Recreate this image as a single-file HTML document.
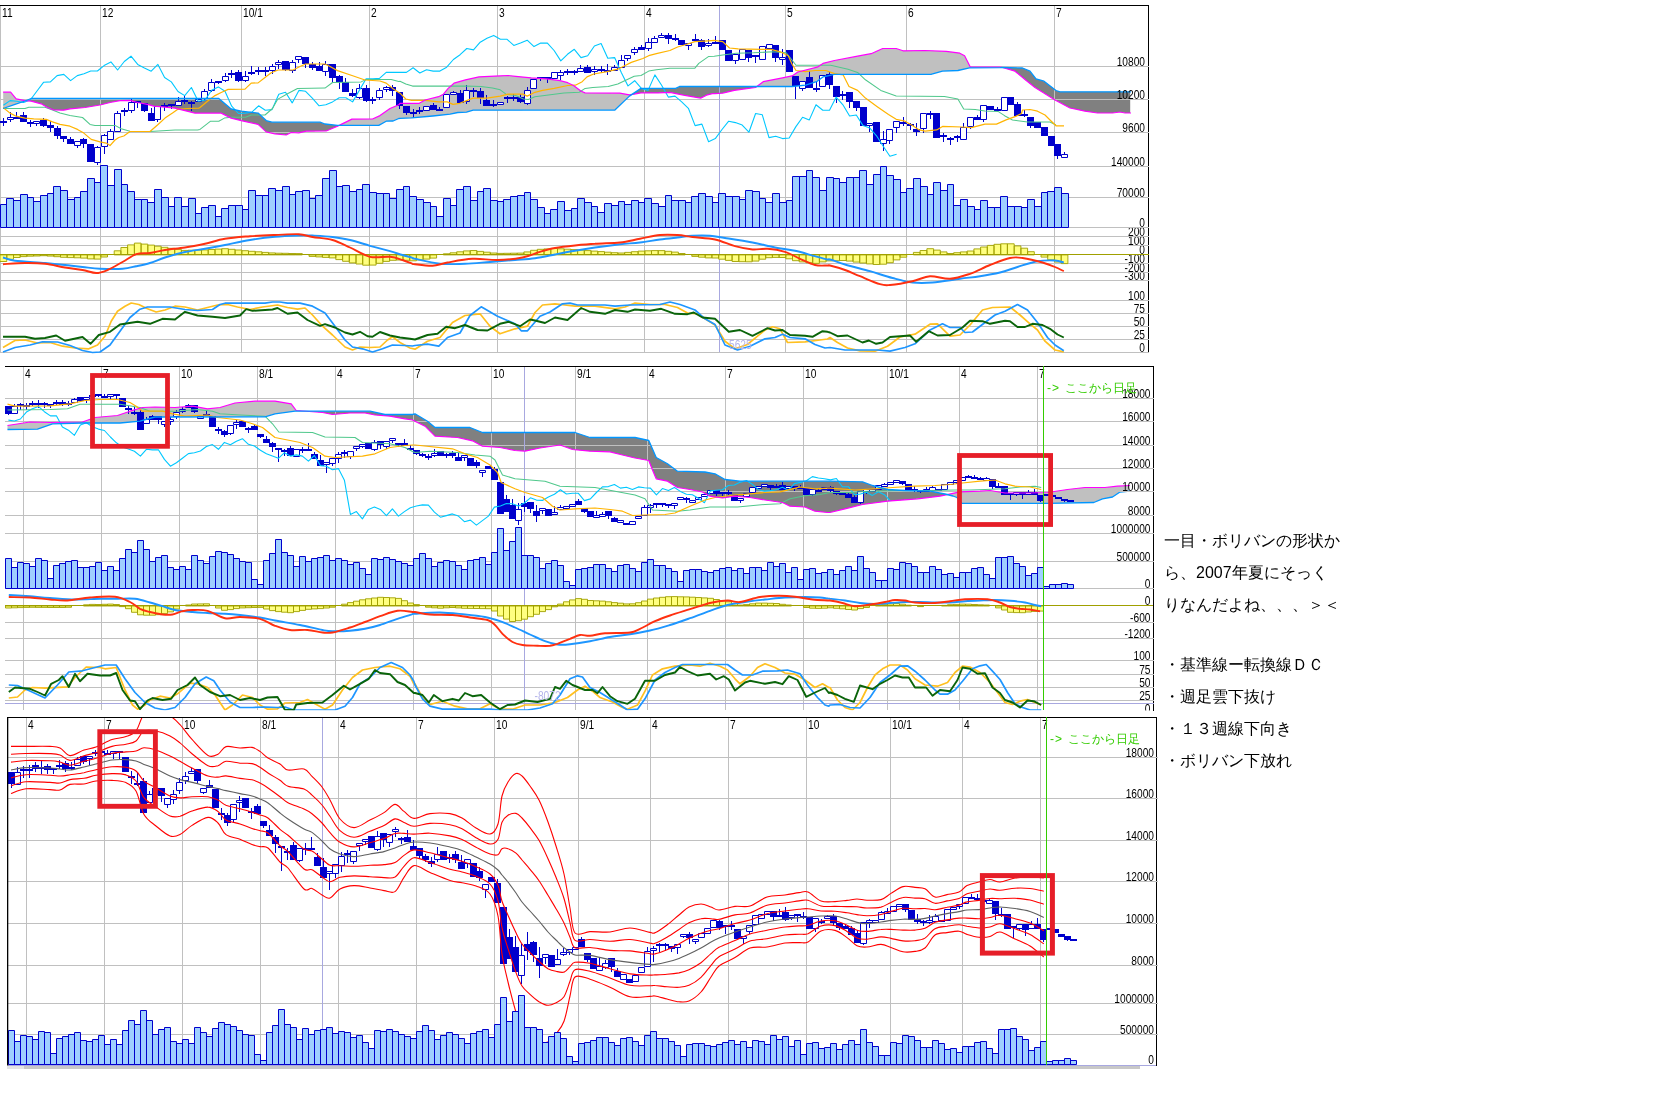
<!DOCTYPE html>
<html><head><meta charset="utf-8"><title>chart</title>
<style>
html,body{margin:0;padding:0;background:#fff;}
body{width:1660px;height:1118px;position:relative;overflow:hidden;font-family:"Liberation Sans",sans-serif;}
.jp{position:absolute;left:1164px;top:525px;font-size:16px;line-height:32px;color:#000;white-space:nowrap;}
.g{position:absolute;font-size:12px;line-height:14px;color:#33cc00;white-space:nowrap;}
.ar{display:inline-block;width:18px;letter-spacing:1px;}
</style></head><body>
<svg width="1660" height="1118" viewBox="0 0 1660 1118" style="position:absolute;left:0;top:0;will-change:transform" font-family="Liberation Sans, sans-serif">
<rect width="1660" height="1118" fill="#fff"/>
<g id="p1">
<path d="M3.2,92.2 L4.2,92.2 L5.2,92.2 L6.2,92.2 L7.2,92.2 L8.2,92.2 L9.2,92.2 L10.2,92.2 L11.2,92.9 L12.2,94.1 L13.2,95.2 L14.2,96.4 L15.2,97.5 L16.2,98.7 L17.2,99.0 L18.2,99.2 L19.2,99.4 L20.2,99.6 L21.2,99.8 L22.2,100.0 L23.2,100.2 L24.2,100.4 L25.2,100.6 L26.2,100.7 L26.2,100.5 L25.2,100.9 L24.2,101.3 L23.2,101.6 L22.2,101.9 L21.2,102.3 L20.2,102.6 L19.2,103.0 L18.2,103.3 L17.2,103.6 L16.2,104.0 L15.2,104.3 L14.2,104.7 L13.2,105.0 L12.2,105.4 L11.2,105.7 L10.2,106.0 L9.2,106.4 L8.2,106.7 L7.2,107.1 L6.2,107.4 L5.2,107.8 L4.2,108.1 L3.2,108.5Z" fill="#c0c0c0" stroke="none"/>
<path d="M26.2,100.7 L27.2,100.8 L28.2,100.9 L29.2,101.0 L30.2,101.1 L31.2,101.2 L32.2,101.5 L33.2,101.7 L34.2,102.0 L35.2,102.2 L36.2,102.5 L37.2,102.7 L38.2,103.0 L39.2,103.2 L40.2,103.5 L41.2,103.7 L42.2,104.3 L43.2,104.9 L44.2,105.5 L45.2,106.1 L46.2,106.7 L47.2,107.3 L48.2,107.8 L49.2,108.2 L50.2,108.6 L51.2,109.0 L52.2,109.4 L53.2,109.8 L54.2,110.0 L55.2,110.0 L56.2,110.1 L57.2,110.1 L58.2,110.1 L59.2,110.1 L60.2,110.2 L61.2,110.2 L62.2,110.2 L63.2,110.2 L64.2,110.1 L65.2,109.9 L66.2,109.7 L67.2,109.4 L68.2,109.2 L69.2,108.9 L70.2,108.7 L71.2,108.7 L72.2,108.6 L73.2,108.5 L74.2,108.4 L75.2,108.3 L76.2,108.2 L77.2,108.2 L78.2,108.1 L79.2,108.0 L80.2,107.9 L81.2,107.8 L82.2,107.7 L83.2,107.7 L84.2,107.6 L85.2,107.5 L86.2,107.3 L87.2,107.1 L88.2,107.0 L89.2,106.8 L90.2,106.6 L91.2,106.5 L92.2,106.3 L93.2,106.1 L94.2,106.0 L95.2,105.8 L96.2,105.6 L97.2,105.5 L98.2,105.3 L99.2,105.1 L100.2,105.0 L101.2,104.7 L102.2,104.5 L103.2,104.2 L104.2,104.0 L105.2,103.7 L106.2,103.5 L107.2,103.2 L108.2,103.0 L109.2,102.7 L110.2,102.5 L111.2,102.3 L112.2,102.1 L113.2,101.9 L114.2,101.7 L115.2,101.5 L116.2,101.3 L117.2,101.1 L118.2,101.0 L119.2,100.8 L120.2,100.6 L121.2,100.6 L122.2,100.6 L123.2,100.5 L124.2,100.5 L125.2,100.5 L126.2,100.5 L127.2,100.4 L128.2,100.4 L129.2,100.4 L130.2,100.4 L131.2,100.7 L132.2,101.0 L133.2,101.3 L134.2,101.6 L135.2,101.8 L136.2,102.1 L137.2,102.4 L138.2,102.6 L139.2,102.8 L140.2,103.0 L141.2,103.2 L142.2,103.4 L143.2,103.6 L144.2,103.8 L145.2,103.9 L146.2,104.1 L147.2,104.3 L148.2,104.6 L149.2,104.9 L150.2,105.2 L151.2,105.5 L152.2,105.8 L153.2,106.1 L154.2,106.3 L155.2,106.4 L156.2,106.4 L157.2,106.5 L158.2,106.6 L159.2,106.6 L160.2,106.7 L161.2,106.8 L162.2,106.9 L163.2,106.9 L164.2,107.0 L165.2,107.1 L166.2,107.2 L167.2,107.3 L168.2,107.4 L169.2,107.5 L170.2,107.6 L171.2,107.7 L172.2,107.8 L173.2,107.9 L174.2,108.0 L175.2,108.2 L176.2,108.4 L177.2,108.7 L178.2,108.9 L179.2,109.2 L180.2,109.4 L181.2,109.7 L182.2,109.9 L183.2,110.2 L184.2,110.4 L185.2,110.7 L186.2,110.9 L187.2,111.2 L188.2,111.4 L189.2,111.7 L190.2,111.9 L191.2,112.2 L192.2,112.4 L193.2,112.7 L194.2,112.9 L195.2,113.1 L196.2,113.1 L197.2,113.1 L198.2,113.1 L199.2,113.1 L200.2,113.1 L201.2,113.1 L202.2,113.1 L203.2,113.1 L204.2,113.1 L205.2,113.1 L206.2,113.1 L207.2,113.1 L208.2,113.1 L209.2,113.1 L210.2,113.1 L211.2,113.1 L212.2,113.1 L213.2,113.1 L214.2,113.1 L215.2,113.1 L216.2,113.1 L217.2,113.1 L218.2,113.1 L219.2,113.1 L220.2,113.1 L221.2,113.1 L222.2,113.6 L223.2,114.1 L224.2,114.6 L225.2,115.1 L226.2,115.6 L227.2,116.1 L228.2,116.6 L229.2,117.1 L230.2,117.6 L231.2,118.1 L232.2,118.4 L233.2,118.6 L234.2,118.9 L235.2,119.1 L236.2,119.4 L237.2,119.6 L238.2,119.9 L239.2,120.1 L240.2,120.4 L241.2,120.6 L242.2,120.8 L243.2,121.1 L244.2,121.3 L245.2,121.5 L246.2,121.7 L247.2,121.9 L248.2,122.2 L249.2,122.4 L250.2,122.6 L251.2,122.8 L252.2,123.1 L253.2,123.3 L254.2,123.5 L255.2,123.7 L256.2,124.0 L257.2,124.2 L258.2,124.5 L259.2,125.4 L260.2,126.3 L261.2,127.2 L262.2,128.1 L263.2,129.1 L264.2,130.0 L265.2,130.9 L266.2,131.8 L267.2,132.1 L268.2,132.3 L269.2,132.5 L270.2,132.7 L271.2,132.9 L272.2,133.2 L273.2,133.4 L274.2,133.6 L275.2,133.8 L276.2,133.9 L277.2,134.0 L278.2,134.1 L279.2,134.2 L280.2,134.3 L281.2,134.4 L282.2,134.6 L283.2,134.7 L284.2,134.8 L285.2,134.9 L286.2,135.0 L287.2,134.5 L288.2,134.0 L289.2,133.5 L290.2,133.0 L291.2,132.5 L292.2,132.5 L293.2,132.6 L294.2,132.6 L295.2,132.6 L296.2,132.7 L297.2,132.7 L298.2,132.7 L299.2,132.7 L300.2,132.5 L301.2,132.3 L302.2,132.1 L303.2,131.9 L304.2,131.7 L305.2,131.5 L306.2,131.3 L307.2,131.2 L308.2,131.2 L309.2,131.2 L310.2,131.2 L311.2,131.2 L312.2,131.2 L313.2,131.2 L314.2,131.2 L315.2,131.1 L316.2,131.1 L317.2,131.1 L318.2,131.1 L319.2,131.1 L320.2,131.1 L321.2,131.1 L322.2,131.1 L323.2,131.0 L324.2,131.0 L325.2,131.0 L326.2,131.0 L327.2,130.6 L328.2,130.2 L329.2,129.8 L330.2,129.3 L331.2,128.9 L332.2,128.5 L333.2,128.1 L334.2,127.6 L335.2,127.2 L336.2,126.8 L337.2,126.4 L338.2,125.9 L339.2,125.4 L340.2,124.9 L340.2,125.4 L339.2,125.4 L338.2,125.4 L337.2,125.3 L336.2,125.2 L335.2,125.1 L334.2,125.0 L333.2,124.9 L332.2,124.8 L331.2,124.7 L330.2,124.6 L329.2,124.5 L328.2,124.4 L327.2,124.2 L326.2,124.1 L325.2,124.0 L324.2,123.7 L323.2,123.4 L322.2,123.0 L321.2,122.7 L320.2,122.3 L319.2,122.2 L318.2,122.2 L317.2,122.2 L316.2,122.2 L315.2,122.2 L314.2,122.2 L313.2,122.2 L312.2,122.2 L311.2,122.2 L310.2,122.2 L309.2,122.2 L308.2,122.2 L307.2,122.2 L306.2,122.2 L305.2,122.2 L304.2,122.2 L303.2,122.2 L302.2,122.2 L301.2,122.2 L300.2,122.2 L299.2,122.2 L298.2,122.2 L297.2,122.2 L296.2,122.2 L295.2,122.2 L294.2,122.2 L293.2,122.2 L292.2,122.2 L291.2,122.2 L290.2,122.2 L289.2,122.2 L288.2,122.2 L287.2,122.2 L286.2,122.2 L285.2,122.2 L284.2,122.2 L283.2,122.2 L282.2,122.2 L281.2,122.2 L280.2,122.2 L279.2,122.2 L278.2,122.2 L277.2,122.2 L276.2,122.2 L275.2,122.2 L274.2,122.2 L273.2,122.2 L272.2,122.2 L271.2,122.1 L270.2,121.8 L269.2,121.5 L268.2,121.2 L267.2,120.9 L266.2,120.6 L265.2,119.7 L264.2,118.7 L263.2,117.8 L262.2,116.9 L261.2,116.0 L260.2,115.0 L259.2,114.1 L258.2,113.2 L257.2,113.0 L256.2,112.9 L255.2,112.8 L254.2,112.7 L253.2,112.6 L252.2,112.5 L251.2,112.4 L250.2,112.2 L249.2,112.1 L248.2,112.0 L247.2,111.9 L246.2,111.8 L245.2,111.7 L244.2,111.6 L243.2,111.5 L242.2,111.4 L241.2,111.2 L240.2,111.0 L239.2,110.8 L238.2,110.6 L237.2,110.3 L236.2,110.1 L235.2,109.9 L234.2,109.7 L233.2,109.4 L232.2,109.2 L231.2,109.0 L230.2,108.1 L229.2,107.3 L228.2,106.4 L227.2,105.6 L226.2,104.8 L225.2,103.9 L224.2,103.1 L223.2,102.2 L222.2,101.4 L221.2,100.6 L220.2,99.7 L219.2,98.9 L218.2,98.5 L217.2,98.5 L216.2,98.5 L215.2,98.5 L214.2,98.5 L213.2,98.5 L212.2,98.5 L211.2,98.5 L210.2,98.5 L209.2,98.5 L208.2,98.5 L207.2,98.5 L206.2,98.5 L205.2,98.5 L204.2,98.5 L203.2,98.5 L202.2,98.5 L201.2,98.5 L200.2,98.5 L199.2,98.5 L198.2,98.5 L197.2,98.5 L196.2,98.5 L195.2,98.5 L194.2,98.5 L193.2,98.5 L192.2,98.5 L191.2,98.5 L190.2,98.5 L189.2,98.5 L188.2,98.5 L187.2,98.5 L186.2,98.5 L185.2,98.5 L184.2,98.5 L183.2,98.5 L182.2,98.5 L181.2,98.5 L180.2,98.5 L179.2,98.5 L178.2,98.5 L177.2,98.5 L176.2,98.5 L175.2,98.5 L174.2,98.5 L173.2,98.5 L172.2,98.5 L171.2,98.5 L170.2,98.5 L169.2,98.5 L168.2,98.5 L167.2,98.5 L166.2,98.5 L165.2,98.5 L164.2,98.5 L163.2,98.5 L162.2,98.5 L161.2,98.5 L160.2,98.5 L159.2,98.5 L158.2,98.5 L157.2,98.5 L156.2,98.5 L155.2,98.5 L154.2,98.5 L153.2,98.5 L152.2,98.5 L151.2,98.5 L150.2,98.5 L149.2,98.5 L148.2,98.5 L147.2,98.5 L146.2,98.5 L145.2,98.5 L144.2,98.5 L143.2,98.5 L142.2,98.5 L141.2,98.5 L140.2,98.5 L139.2,98.5 L138.2,98.5 L137.2,98.5 L136.2,98.5 L135.2,98.5 L134.2,98.5 L133.2,98.5 L132.2,98.5 L131.2,98.5 L130.2,98.5 L129.2,98.5 L128.2,98.5 L127.2,98.5 L126.2,98.5 L125.2,98.5 L124.2,98.5 L123.2,98.5 L122.2,98.5 L121.2,98.5 L120.2,98.5 L119.2,98.5 L118.2,98.5 L117.2,98.5 L116.2,98.5 L115.2,98.5 L114.2,98.5 L113.2,98.5 L112.2,98.5 L111.2,98.5 L110.2,98.5 L109.2,98.5 L108.2,98.5 L107.2,98.5 L106.2,98.5 L105.2,98.5 L104.2,98.5 L103.2,98.5 L102.2,98.5 L101.2,98.5 L100.2,98.5 L99.2,98.5 L98.2,98.5 L97.2,98.5 L96.2,98.5 L95.2,98.5 L94.2,98.5 L93.2,98.5 L92.2,98.5 L91.2,98.5 L90.2,98.5 L89.2,98.5 L88.2,98.5 L87.2,98.5 L86.2,98.5 L85.2,98.5 L84.2,98.5 L83.2,98.5 L82.2,98.5 L81.2,98.5 L80.2,98.5 L79.2,98.5 L78.2,98.5 L77.2,98.5 L76.2,98.5 L75.2,98.5 L74.2,98.5 L73.2,98.5 L72.2,98.5 L71.2,98.5 L70.2,98.5 L69.2,98.5 L68.2,98.5 L67.2,98.5 L66.2,98.5 L65.2,98.5 L64.2,98.5 L63.2,98.5 L62.2,98.5 L61.2,98.5 L60.2,98.5 L59.2,98.5 L58.2,98.5 L57.2,98.5 L56.2,98.5 L55.2,98.5 L54.2,98.5 L53.2,98.5 L52.2,98.5 L51.2,98.5 L50.2,98.5 L49.2,98.5 L48.2,98.5 L47.2,98.5 L46.2,98.5 L45.2,98.5 L44.2,98.5 L43.2,98.5 L42.2,98.5 L41.2,98.5 L40.2,98.5 L39.2,98.5 L38.2,98.5 L37.2,98.5 L36.2,98.5 L35.2,98.5 L34.2,98.5 L33.2,98.5 L32.2,98.5 L31.2,98.5 L30.2,98.9 L29.2,99.3 L28.2,99.7 L27.2,100.1 L26.2,100.5Z" fill="#808080" stroke="none"/>
<path d="M340.2,124.9 L341.2,124.4 L342.2,123.9 L343.2,123.4 L344.2,122.9 L345.2,122.4 L346.2,121.9 L347.2,121.4 L348.2,120.9 L349.2,120.4 L350.2,120.0 L351.2,119.5 L352.2,119.1 L353.2,119.1 L354.2,119.1 L355.2,119.1 L356.2,119.1 L357.2,119.1 L358.2,119.1 L359.2,119.1 L360.2,119.1 L361.2,119.1 L362.2,119.1 L363.2,119.1 L364.2,119.0 L365.2,119.0 L366.2,119.0 L367.2,119.0 L368.2,119.0 L369.2,119.0 L370.2,119.0 L371.2,119.0 L372.2,119.0 L373.2,118.7 L374.2,118.2 L375.2,117.8 L376.2,117.3 L377.2,116.9 L378.2,116.4 L379.2,116.0 L380.2,115.5 L381.2,114.8 L382.2,114.1 L383.2,113.3 L384.2,112.6 L385.2,111.9 L386.2,111.2 L387.2,110.5 L388.2,109.8 L389.2,109.1 L390.2,108.4 L391.2,108.0 L392.2,107.6 L393.2,107.1 L394.2,106.7 L395.2,106.3 L396.2,105.8 L397.2,105.4 L398.2,105.0 L399.2,104.2 L400.2,103.3 L401.2,103.3 L402.2,103.3 L403.2,103.3 L404.2,103.3 L405.2,103.3 L406.2,103.3 L407.2,103.3 L408.2,103.3 L409.2,103.3 L410.2,103.3 L411.2,103.3 L412.2,103.3 L413.2,103.3 L414.2,103.3 L415.2,103.3 L416.2,103.3 L417.2,103.3 L418.2,103.3 L419.2,103.3 L420.2,102.8 L421.2,102.2 L422.2,101.6 L423.2,101.1 L424.2,100.5 L425.2,100.0 L426.2,99.7 L427.2,99.5 L428.2,99.2 L429.2,99.0 L430.2,98.8 L431.2,98.5 L432.2,98.3 L433.2,98.0 L434.2,97.8 L435.2,97.5 L436.2,97.3 L437.2,97.0 L438.2,96.8 L439.2,96.4 L440.2,95.9 L441.2,95.3 L442.2,94.8 L443.2,94.3 L444.2,93.2 L445.2,92.0 L446.2,90.8 L447.2,89.6 L448.2,88.4 L449.2,87.5 L450.2,86.6 L451.2,85.7 L452.2,84.8 L453.2,83.9 L454.2,83.2 L455.2,82.9 L456.2,82.6 L457.2,82.3 L458.2,82.0 L459.2,81.7 L460.2,81.4 L461.2,81.1 L462.2,80.8 L463.2,80.5 L464.2,80.2 L465.2,79.9 L466.2,79.6 L467.2,79.4 L468.2,79.2 L469.2,79.0 L470.2,78.8 L471.2,78.5 L472.2,78.3 L473.2,78.1 L474.2,77.9 L475.2,77.7 L476.2,77.5 L477.2,77.3 L478.2,77.0 L479.2,76.9 L480.2,76.8 L481.2,76.8 L482.2,76.7 L483.2,76.7 L484.2,76.6 L485.2,76.6 L486.2,76.5 L487.2,76.5 L488.2,76.5 L489.2,76.4 L490.2,76.4 L491.2,76.3 L492.2,76.3 L493.2,76.2 L494.2,76.2 L495.2,76.1 L496.2,76.1 L497.2,76.0 L498.2,76.0 L499.2,75.9 L500.2,75.9 L501.2,75.9 L502.2,75.8 L503.2,75.8 L504.2,75.7 L505.2,75.7 L506.2,75.6 L507.2,75.6 L508.2,75.5 L509.2,75.6 L510.2,75.7 L511.2,75.8 L512.2,75.9 L513.2,76.0 L514.2,76.1 L515.2,76.2 L516.2,76.3 L517.2,76.4 L518.2,76.5 L519.2,76.6 L520.2,76.7 L521.2,76.8 L522.2,76.9 L523.2,77.0 L524.2,77.1 L525.2,77.2 L526.2,77.3 L527.2,77.4 L528.2,77.5 L529.2,77.6 L530.2,77.7 L531.2,77.8 L532.2,77.9 L533.2,78.0 L534.2,78.0 L535.2,78.1 L536.2,78.2 L537.2,78.2 L538.2,78.3 L539.2,78.3 L540.2,78.4 L541.2,78.5 L542.2,78.5 L543.2,78.6 L544.2,78.7 L545.2,78.7 L546.2,78.8 L547.2,78.9 L548.2,79.0 L549.2,79.2 L550.2,79.3 L551.2,79.5 L552.2,79.6 L553.2,79.8 L554.2,79.9 L555.2,80.0 L556.2,80.2 L557.2,80.3 L558.2,80.5 L559.2,80.6 L560.2,80.8 L561.2,81.0 L562.2,81.3 L563.2,81.5 L564.2,81.8 L565.2,82.0 L566.2,82.3 L567.2,82.5 L568.2,82.9 L569.2,83.4 L570.2,83.9 L571.2,84.4 L572.2,84.9 L573.2,85.4 L574.2,86.1 L575.2,86.8 L576.2,87.6 L577.2,88.3 L578.2,89.1 L579.2,89.8 L580.2,90.6 L581.2,91.3 L582.2,91.7 L583.2,92.1 L584.2,92.5 L585.2,92.9 L586.2,92.9 L587.2,92.9 L588.2,92.9 L589.2,92.9 L590.2,92.9 L591.2,92.9 L592.2,92.9 L593.2,93.0 L594.2,93.0 L595.2,93.0 L596.2,93.0 L597.2,93.0 L598.2,93.0 L599.2,93.0 L600.2,93.0 L601.2,93.0 L602.2,93.1 L603.2,93.1 L604.2,93.1 L605.2,93.1 L606.2,93.1 L607.2,93.1 L608.2,93.1 L609.2,93.1 L610.2,93.1 L611.2,93.2 L612.2,93.2 L613.2,93.2 L614.2,93.2 L615.2,93.2 L616.2,93.2 L617.2,93.2 L618.2,93.2 L619.2,93.2 L620.2,93.3 L621.2,93.5 L622.2,93.6 L623.2,93.8 L624.2,94.0 L625.2,94.1 L626.2,94.3 L627.2,94.4 L628.2,94.6 L629.2,94.8 L630.2,94.7 L631.2,94.6 L632.2,94.5 L632.2,94.3 L631.2,94.9 L630.2,95.6 L629.2,96.3 L628.2,97.3 L627.2,98.3 L626.2,99.2 L625.2,100.2 L624.2,101.1 L623.2,102.1 L622.2,103.1 L621.2,104.0 L620.2,105.0 L619.2,105.9 L618.2,106.9 L617.2,107.9 L616.2,108.8 L615.2,109.8 L614.2,110.0 L613.2,110.0 L612.2,110.0 L611.2,110.0 L610.2,110.0 L609.2,110.0 L608.2,110.0 L607.2,110.0 L606.2,110.0 L605.2,110.0 L604.2,110.0 L603.2,110.0 L602.2,110.0 L601.2,110.0 L600.2,110.0 L599.2,110.0 L598.2,110.0 L597.2,110.0 L596.2,110.0 L595.2,110.0 L594.2,110.0 L593.2,110.1 L592.2,110.1 L591.2,110.1 L590.2,110.1 L589.2,110.1 L588.2,110.1 L587.2,110.1 L586.2,110.1 L585.2,110.1 L584.2,110.1 L583.2,110.1 L582.2,110.1 L581.2,110.1 L580.2,110.1 L579.2,110.1 L578.2,110.1 L577.2,110.1 L576.2,110.1 L575.2,110.1 L574.2,110.1 L573.2,110.1 L572.2,110.1 L571.2,110.1 L570.2,110.1 L569.2,110.1 L568.2,110.1 L567.2,110.1 L566.2,110.1 L565.2,110.1 L564.2,110.1 L563.2,110.1 L562.2,110.1 L561.2,110.1 L560.2,110.1 L559.2,110.1 L558.2,110.1 L557.2,110.1 L556.2,110.1 L555.2,110.1 L554.2,110.1 L553.2,110.1 L552.2,110.1 L551.2,110.1 L550.2,110.1 L549.2,110.1 L548.2,110.1 L547.2,110.1 L546.2,110.1 L545.2,110.1 L544.2,110.1 L543.2,110.1 L542.2,110.1 L541.2,110.1 L540.2,110.1 L539.2,110.1 L538.2,110.1 L537.2,110.1 L536.2,110.1 L535.2,110.1 L534.2,110.1 L533.2,110.1 L532.2,110.1 L531.2,110.1 L530.2,110.1 L529.2,110.1 L528.2,110.1 L527.2,110.1 L526.2,110.1 L525.2,110.1 L524.2,110.1 L523.2,110.1 L522.2,110.2 L521.2,110.2 L520.2,110.2 L519.2,110.2 L518.2,110.2 L517.2,110.2 L516.2,110.2 L515.2,110.2 L514.2,110.2 L513.2,110.2 L512.2,110.2 L511.2,110.2 L510.2,110.2 L509.2,110.2 L508.2,110.2 L507.2,110.2 L506.2,110.2 L505.2,110.2 L504.2,110.2 L503.2,110.2 L502.2,110.2 L501.2,110.2 L500.2,110.2 L499.2,110.2 L498.2,110.2 L497.2,110.2 L496.2,110.2 L495.2,110.2 L494.2,110.2 L493.2,110.2 L492.2,110.2 L491.2,110.2 L490.2,110.2 L489.2,110.2 L488.2,110.2 L487.2,110.2 L486.2,110.2 L485.2,110.2 L484.2,110.2 L483.2,110.2 L482.2,110.2 L481.2,110.2 L480.2,110.2 L479.2,110.2 L478.2,110.2 L477.2,110.2 L476.2,110.2 L475.2,110.2 L474.2,110.2 L473.2,110.2 L472.2,110.5 L471.2,110.8 L470.2,111.1 L469.2,111.4 L468.2,111.7 L467.2,111.9 L466.2,112.2 L465.2,112.2 L464.2,112.2 L463.2,112.3 L462.2,112.3 L461.2,112.4 L460.2,112.4 L459.2,112.5 L458.2,112.5 L457.2,112.7 L456.2,112.9 L455.2,113.1 L454.2,113.3 L453.2,113.5 L452.2,113.7 L451.2,113.9 L450.2,114.1 L449.2,114.2 L448.2,114.3 L447.2,114.4 L446.2,114.5 L445.2,114.6 L444.2,114.7 L443.2,114.8 L442.2,115.0 L441.2,115.1 L440.2,115.2 L439.2,115.3 L438.2,115.4 L437.2,115.5 L436.2,115.6 L435.2,115.7 L434.2,115.8 L433.2,116.0 L432.2,116.1 L431.2,116.1 L430.2,116.2 L429.2,116.3 L428.2,116.4 L427.2,116.5 L426.2,116.6 L425.2,116.7 L424.2,116.8 L423.2,116.9 L422.2,117.0 L421.2,117.1 L420.2,117.1 L419.2,117.2 L418.2,117.3 L417.2,117.4 L416.2,117.5 L415.2,117.6 L414.2,117.7 L413.2,117.8 L412.2,117.9 L411.2,117.9 L410.2,118.0 L409.2,118.0 L408.2,118.0 L407.2,118.1 L406.2,118.1 L405.2,118.1 L404.2,118.2 L403.2,118.2 L402.2,118.2 L401.2,118.3 L400.2,118.3 L399.2,118.4 L398.2,118.7 L397.2,119.2 L396.2,119.6 L395.2,120.1 L394.2,120.5 L393.2,121.0 L392.2,121.0 L391.2,121.1 L390.2,121.1 L389.2,121.1 L388.2,121.2 L387.2,121.2 L386.2,121.3 L385.2,121.8 L384.2,122.4 L383.2,122.9 L382.2,123.5 L381.2,124.0 L380.2,124.6 L379.2,125.1 L378.2,125.4 L377.2,125.4 L376.2,125.4 L375.2,125.4 L374.2,125.4 L373.2,125.4 L372.2,125.4 L371.2,125.4 L370.2,125.4 L369.2,125.4 L368.2,125.4 L367.2,125.4 L366.2,125.4 L365.2,125.4 L364.2,125.4 L363.2,125.4 L362.2,125.4 L361.2,125.4 L360.2,125.4 L359.2,125.4 L358.2,125.4 L357.2,125.4 L356.2,125.4 L355.2,125.4 L354.2,125.4 L353.2,125.4 L352.2,125.4 L351.2,125.4 L350.2,125.4 L349.2,125.4 L348.2,125.4 L347.2,125.4 L346.2,125.4 L345.2,125.4 L344.2,125.4 L343.2,125.4 L342.2,125.4 L341.2,125.4 L340.2,125.4Z" fill="#c0c0c0" stroke="none"/>
<path d="M632.2,94.5 L633.2,94.3 L634.2,94.2 L635.2,94.0 L636.2,93.8 L637.2,93.6 L638.2,93.4 L639.2,93.2 L640.2,93.0 L641.2,92.9 L642.2,92.9 L643.2,92.9 L644.2,92.9 L645.2,92.9 L646.2,92.9 L647.2,92.9 L648.2,92.9 L649.2,92.9 L650.2,92.9 L651.2,92.9 L652.2,92.9 L653.2,92.9 L654.2,92.9 L655.2,92.9 L656.2,92.9 L657.2,92.9 L658.2,92.9 L659.2,92.8 L660.2,92.8 L661.2,92.7 L662.2,92.7 L663.2,92.6 L664.2,92.6 L665.2,92.5 L666.2,92.5 L667.2,92.4 L668.2,92.4 L669.2,92.3 L670.2,92.4 L671.2,92.6 L672.2,92.8 L673.2,93.0 L674.2,93.2 L675.2,93.4 L676.2,93.6 L677.2,93.9 L678.2,94.1 L679.2,94.3 L680.2,94.5 L681.2,94.7 L682.2,94.9 L683.2,95.1 L684.2,95.3 L685.2,95.5 L686.2,95.7 L687.2,95.8 L688.2,96.0 L689.2,96.2 L690.2,96.3 L691.2,96.5 L692.2,96.7 L693.2,96.8 L694.2,97.0 L695.2,97.2 L696.2,97.3 L697.2,97.5 L698.2,97.7 L699.2,97.8 L700.2,98.0 L701.2,97.8 L702.2,97.3 L703.2,96.8 L704.2,96.3 L705.2,95.8 L706.2,95.3 L707.2,95.0 L708.2,94.7 L709.2,94.5 L710.2,94.2 L711.2,93.9 L712.2,93.7 L713.2,93.6 L714.2,93.6 L715.2,93.6 L716.2,93.6 L717.2,93.5 L718.2,93.5 L719.2,93.4 L720.2,93.4 L721.2,93.3 L722.2,93.3 L723.2,93.1 L724.2,92.9 L725.2,92.6 L726.2,92.4 L727.2,92.1 L728.2,91.9 L729.2,91.6 L730.2,91.4 L731.2,91.1 L732.2,90.9 L733.2,90.6 L734.2,90.4 L735.2,90.2 L736.2,90.1 L737.2,90.0 L738.2,89.8 L739.2,89.7 L740.2,89.6 L741.2,89.4 L742.2,89.3 L743.2,89.1 L744.2,89.0 L745.2,88.9 L746.2,88.7 L747.2,88.6 L748.2,88.5 L749.2,88.3 L750.2,88.2 L751.2,88.1 L752.2,87.9 L753.2,87.8 L754.2,87.6 L755.2,87.5 L756.2,86.9 L757.2,86.2 L757.2,86.5 L756.2,86.5 L755.2,86.5 L754.2,86.5 L753.2,86.5 L752.2,86.5 L751.2,86.5 L750.2,86.5 L749.2,86.5 L748.2,86.5 L747.2,86.5 L746.2,86.5 L745.2,86.5 L744.2,86.5 L743.2,86.5 L742.2,86.5 L741.2,86.5 L740.2,86.5 L739.2,86.5 L738.2,86.5 L737.2,86.5 L736.2,86.5 L735.2,86.5 L734.2,86.5 L733.2,86.5 L732.2,86.5 L731.2,86.5 L730.2,86.5 L729.2,86.5 L728.2,86.5 L727.2,86.5 L726.2,86.5 L725.2,86.5 L724.2,86.5 L723.2,86.5 L722.2,86.5 L721.2,86.5 L720.2,86.5 L719.2,86.5 L718.2,86.5 L717.2,86.5 L716.2,86.5 L715.2,86.5 L714.2,86.5 L713.2,86.5 L712.2,86.5 L711.2,86.5 L710.2,86.5 L709.2,86.5 L708.2,86.5 L707.2,86.5 L706.2,86.5 L705.2,86.5 L704.2,86.5 L703.2,86.5 L702.2,86.5 L701.2,86.5 L700.2,86.5 L699.2,86.5 L698.2,86.5 L697.2,86.5 L696.2,86.5 L695.2,86.5 L694.2,86.5 L693.2,86.5 L692.2,86.5 L691.2,86.5 L690.2,86.5 L689.2,86.5 L688.2,86.5 L687.2,86.5 L686.2,86.5 L685.2,86.5 L684.2,86.5 L683.2,86.5 L682.2,86.5 L681.2,86.5 L680.2,86.5 L679.2,86.7 L678.2,87.2 L677.2,87.7 L676.2,88.2 L675.2,88.4 L674.2,88.4 L673.2,88.4 L672.2,88.4 L671.2,88.4 L670.2,88.4 L669.2,88.4 L668.2,88.4 L667.2,88.4 L666.2,88.4 L665.2,88.4 L664.2,88.4 L663.2,88.4 L662.2,88.4 L661.2,88.4 L660.2,88.4 L659.2,88.4 L658.2,88.4 L657.2,88.4 L656.2,88.4 L655.2,88.4 L654.2,88.4 L653.2,88.4 L652.2,88.4 L651.2,88.4 L650.2,88.4 L649.2,88.4 L648.2,88.4 L647.2,88.4 L646.2,88.4 L645.2,88.4 L644.2,88.4 L643.2,88.4 L642.2,88.4 L641.2,88.4 L640.2,88.9 L639.2,89.6 L638.2,90.3 L637.2,90.9 L636.2,91.6 L635.2,92.3 L634.2,92.9 L633.2,93.6 L632.2,94.3Z" fill="#808080" stroke="none"/>
<path d="M757.2,86.2 L758.2,85.4 L759.2,84.7 L760.2,83.9 L761.2,83.2 L762.2,82.4 L763.2,81.7 L764.2,81.5 L765.2,81.3 L766.2,81.1 L767.2,80.9 L768.2,80.7 L769.2,80.5 L770.2,80.3 L771.2,80.1 L772.2,79.9 L773.2,79.7 L774.2,79.5 L775.2,79.3 L776.2,79.1 L777.2,78.9 L778.2,78.7 L779.2,78.5 L780.2,78.3 L781.2,78.1 L782.2,77.9 L783.2,77.7 L784.2,77.5 L785.2,77.3 L786.2,77.1 L787.2,76.9 L788.2,76.7 L789.2,76.5 L790.2,76.3 L791.2,76.1 L792.2,75.8 L793.2,75.2 L794.2,74.5 L795.2,73.8 L796.2,73.2 L797.2,72.5 L798.2,72.0 L799.2,71.7 L800.2,71.5 L801.2,71.2 L802.2,71.0 L803.2,70.7 L804.2,70.5 L805.2,70.2 L806.2,70.0 L807.2,69.7 L808.2,69.5 L809.2,69.2 L810.2,69.0 L811.2,68.7 L812.2,68.5 L813.2,68.2 L814.2,68.0 L815.2,67.7 L816.2,67.5 L817.2,67.2 L818.2,66.5 L819.2,65.9 L820.2,65.2 L821.2,64.5 L822.2,63.9 L823.2,63.3 L824.2,63.1 L825.2,62.8 L826.2,62.6 L827.2,62.3 L828.2,62.1 L829.2,61.8 L830.2,61.6 L831.2,61.3 L832.2,61.1 L833.2,60.8 L834.2,60.6 L835.2,60.4 L836.2,60.2 L837.2,60.0 L838.2,59.8 L839.2,59.6 L840.2,59.4 L841.2,59.3 L842.2,59.1 L843.2,58.9 L844.2,58.7 L845.2,58.5 L846.2,58.3 L847.2,58.2 L848.2,58.0 L849.2,57.8 L850.2,57.6 L851.2,57.4 L852.2,57.2 L853.2,57.1 L854.2,56.9 L855.2,56.7 L856.2,56.5 L857.2,56.3 L858.2,56.1 L859.2,56.0 L860.2,55.8 L861.2,55.6 L862.2,55.4 L863.2,55.2 L864.2,55.0 L865.2,54.8 L866.2,54.6 L867.2,54.5 L868.2,54.3 L869.2,54.1 L870.2,53.9 L871.2,53.7 L872.2,53.3 L873.2,52.8 L874.2,52.4 L875.2,51.9 L876.2,51.5 L877.2,51.0 L878.2,50.6 L879.2,50.1 L880.2,49.7 L881.2,49.2 L882.2,48.8 L883.2,48.5 L884.2,48.5 L885.2,48.5 L886.2,48.5 L887.2,48.5 L888.2,48.5 L889.2,48.5 L890.2,48.5 L891.2,48.5 L892.2,48.5 L893.2,48.5 L894.2,48.5 L895.2,48.5 L896.2,48.5 L897.2,48.9 L898.2,49.2 L899.2,49.6 L900.2,49.9 L901.2,50.2 L902.2,50.6 L903.2,50.8 L904.2,50.8 L905.2,50.8 L906.2,50.8 L907.2,50.8 L908.2,50.8 L909.2,50.7 L910.2,50.7 L911.2,50.7 L912.2,50.7 L913.2,50.7 L914.2,50.6 L915.2,50.6 L916.2,50.6 L917.2,50.6 L918.2,50.6 L919.2,50.6 L920.2,50.5 L921.2,50.5 L922.2,50.5 L923.2,50.5 L924.2,50.5 L925.2,50.5 L926.2,50.5 L927.2,50.6 L928.2,50.6 L929.2,50.6 L930.2,50.7 L931.2,50.7 L932.2,50.8 L933.2,50.8 L934.2,50.9 L935.2,50.9 L936.2,51.0 L937.2,51.0 L938.2,51.1 L939.2,51.1 L940.2,51.1 L941.2,51.2 L942.2,51.2 L943.2,51.3 L944.2,51.3 L945.2,51.4 L946.2,51.4 L947.2,51.5 L948.2,51.7 L949.2,51.8 L950.2,51.9 L951.2,52.0 L952.2,52.2 L953.2,52.3 L954.2,52.4 L955.2,52.6 L956.2,52.7 L957.2,52.8 L958.2,53.0 L959.2,53.1 L960.2,53.4 L961.2,53.9 L962.2,54.4 L963.2,54.9 L964.2,55.4 L965.2,56.8 L966.2,58.8 L967.2,60.8 L968.2,62.8 L969.2,64.8 L970.2,66.8 L971.2,67.2 L972.2,67.2 L973.2,67.2 L974.2,67.2 L975.2,67.2 L976.2,67.2 L977.2,67.2 L978.2,67.2 L979.2,67.2 L980.2,67.2 L981.2,67.2 L982.2,67.2 L983.2,67.2 L984.2,67.2 L985.2,67.2 L986.2,67.2 L987.2,67.2 L988.2,67.2 L989.2,67.2 L990.2,67.2 L991.2,67.2 L992.2,67.2 L993.2,67.2 L994.2,67.2 L995.2,67.2 L996.2,67.2 L997.2,67.2 L998.2,67.2 L999.2,67.2 L1000.2,67.2 L1001.2,67.3 L1002.2,67.5 L1003.2,67.7 L1003.2,67.5 L1002.2,67.5 L1001.2,67.6 L1000.2,67.6 L999.2,67.6 L998.2,67.6 L997.2,67.6 L996.2,67.6 L995.2,67.6 L994.2,67.6 L993.2,67.7 L992.2,67.7 L991.2,67.7 L990.2,67.7 L989.2,67.7 L988.2,67.7 L987.2,67.7 L986.2,67.7 L985.2,67.7 L984.2,67.7 L983.2,67.7 L982.2,67.7 L981.2,67.7 L980.2,67.7 L979.2,67.7 L978.2,67.8 L977.2,67.8 L976.2,67.8 L975.2,67.8 L974.2,67.8 L973.2,67.8 L972.2,67.8 L971.2,67.8 L970.2,67.8 L969.2,67.9 L968.2,68.1 L967.2,68.3 L966.2,68.6 L965.2,68.8 L964.2,69.0 L963.2,69.3 L962.2,69.5 L961.2,69.7 L960.2,70.0 L959.2,70.2 L958.2,70.4 L957.2,70.5 L956.2,70.6 L955.2,70.6 L954.2,70.6 L953.2,70.7 L952.2,70.7 L951.2,70.8 L950.2,70.8 L949.2,70.8 L948.2,70.9 L947.2,70.9 L946.2,70.9 L945.2,71.0 L944.2,71.0 L943.2,71.1 L942.2,71.2 L941.2,71.4 L940.2,71.7 L939.2,72.0 L938.2,72.3 L937.2,72.6 L936.2,72.9 L935.2,73.1 L934.2,73.4 L933.2,73.7 L932.2,74.0 L931.2,74.3 L930.2,74.4 L929.2,74.4 L928.2,74.4 L927.2,74.4 L926.2,74.4 L925.2,74.4 L924.2,74.4 L923.2,74.4 L922.2,74.4 L921.2,74.4 L920.2,74.4 L919.2,74.4 L918.2,74.4 L917.2,74.4 L916.2,74.4 L915.2,74.4 L914.2,74.4 L913.2,74.4 L912.2,74.4 L911.2,74.4 L910.2,74.4 L909.2,74.4 L908.2,74.4 L907.2,74.4 L906.2,74.4 L905.2,74.4 L904.2,74.4 L903.2,74.4 L902.2,74.4 L901.2,74.4 L900.2,74.4 L899.2,74.4 L898.2,74.4 L897.2,74.4 L896.2,74.4 L895.2,74.4 L894.2,74.4 L893.2,74.4 L892.2,74.4 L891.2,74.4 L890.2,74.4 L889.2,74.4 L888.2,74.4 L887.2,74.4 L886.2,74.4 L885.2,74.4 L884.2,74.4 L883.2,74.4 L882.2,74.4 L881.2,74.4 L880.2,74.4 L879.2,74.4 L878.2,74.4 L877.2,74.4 L876.2,74.4 L875.2,74.4 L874.2,74.4 L873.2,74.4 L872.2,74.4 L871.2,74.4 L870.2,74.4 L869.2,74.4 L868.2,74.4 L867.2,74.4 L866.2,74.4 L865.2,74.4 L864.2,74.4 L863.2,74.4 L862.2,74.4 L861.2,74.4 L860.2,74.4 L859.2,74.4 L858.2,74.4 L857.2,74.4 L856.2,74.4 L855.2,74.4 L854.2,74.4 L853.2,74.4 L852.2,74.4 L851.2,74.4 L850.2,74.4 L849.2,74.4 L848.2,74.4 L847.2,74.4 L846.2,74.4 L845.2,74.4 L844.2,74.4 L843.2,74.4 L842.2,74.4 L841.2,74.4 L840.2,74.4 L839.2,74.4 L838.2,74.4 L837.2,74.4 L836.2,74.4 L835.2,74.4 L834.2,74.4 L833.2,74.6 L832.2,74.9 L831.2,75.1 L830.2,75.3 L829.2,75.5 L828.2,75.7 L827.2,75.9 L826.2,76.2 L825.2,76.4 L824.2,76.6 L823.2,76.8 L822.2,77.4 L821.2,78.2 L820.2,79.0 L819.2,79.7 L818.2,80.5 L817.2,81.3 L816.2,81.6 L815.2,82.0 L814.2,82.3 L813.2,82.6 L812.2,83.0 L811.2,83.3 L810.2,83.6 L809.2,84.0 L808.2,84.3 L807.2,84.6 L806.2,85.0 L805.2,85.2 L804.2,85.3 L803.2,85.4 L802.2,85.5 L801.2,85.6 L800.2,85.7 L799.2,85.8 L798.2,85.9 L797.2,86.0 L796.2,86.1 L795.2,86.2 L794.2,86.3 L793.2,86.4 L792.2,86.5 L791.2,86.5 L790.2,86.5 L789.2,86.5 L788.2,86.5 L787.2,86.5 L786.2,86.5 L785.2,86.5 L784.2,86.5 L783.2,86.5 L782.2,86.5 L781.2,86.5 L780.2,86.5 L779.2,86.5 L778.2,86.5 L777.2,86.5 L776.2,86.5 L775.2,86.5 L774.2,86.5 L773.2,86.5 L772.2,86.5 L771.2,86.5 L770.2,86.5 L769.2,86.5 L768.2,86.5 L767.2,86.5 L766.2,86.5 L765.2,86.5 L764.2,86.5 L763.2,86.5 L762.2,86.5 L761.2,86.5 L760.2,86.5 L759.2,86.5 L758.2,86.5 L757.2,86.5Z" fill="#c0c0c0" stroke="none"/>
<path d="M1003.2,67.7 L1004.2,68.0 L1005.2,68.3 L1006.2,68.6 L1007.2,68.9 L1008.2,69.2 L1009.2,69.5 L1010.2,69.8 L1011.2,70.1 L1012.2,70.4 L1013.2,70.7 L1014.2,71.0 L1015.2,71.4 L1016.2,72.2 L1017.2,73.1 L1018.2,73.9 L1019.2,74.7 L1020.2,75.5 L1021.2,76.4 L1022.2,77.2 L1023.2,78.0 L1024.2,78.8 L1025.2,79.7 L1026.2,80.5 L1027.2,81.3 L1028.2,82.1 L1029.2,82.9 L1030.2,83.7 L1031.2,84.5 L1032.2,85.3 L1033.2,86.1 L1034.2,86.9 L1035.2,87.6 L1036.2,88.3 L1037.2,88.9 L1038.2,89.5 L1039.2,90.1 L1040.2,90.8 L1041.2,91.4 L1042.2,92.0 L1043.2,92.6 L1044.2,93.3 L1045.2,93.9 L1046.2,94.5 L1047.2,95.1 L1048.2,95.8 L1049.2,96.4 L1050.2,97.0 L1051.2,97.6 L1052.2,98.3 L1053.2,98.9 L1054.2,99.5 L1055.2,100.1 L1056.2,100.6 L1057.2,101.2 L1058.2,101.7 L1059.2,102.2 L1060.2,102.8 L1061.2,103.3 L1062.2,103.8 L1063.2,104.4 L1064.2,104.9 L1065.2,105.4 L1066.2,106.0 L1067.2,106.5 L1068.2,107.0 L1069.2,107.6 L1070.2,108.0 L1071.2,108.3 L1072.2,108.5 L1073.2,108.7 L1074.2,108.9 L1075.2,109.1 L1076.2,109.3 L1077.2,109.6 L1078.2,109.8 L1079.2,110.0 L1080.2,110.2 L1081.2,110.4 L1082.2,110.6 L1083.2,110.9 L1084.2,111.1 L1085.2,111.3 L1086.2,111.4 L1087.2,111.6 L1088.2,111.7 L1089.2,111.8 L1090.2,112.0 L1091.2,112.1 L1092.2,112.3 L1093.2,112.4 L1094.2,112.5 L1095.2,112.7 L1096.2,112.8 L1097.2,113.0 L1098.2,113.0 L1099.2,113.0 L1100.2,113.0 L1101.2,113.0 L1102.2,113.0 L1103.2,113.0 L1104.2,113.0 L1105.2,113.0 L1106.2,113.0 L1107.2,113.0 L1108.2,113.0 L1109.2,113.0 L1110.2,113.0 L1111.2,113.0 L1112.2,113.0 L1113.2,112.9 L1114.2,112.8 L1115.2,112.6 L1116.2,112.5 L1117.2,112.4 L1118.2,112.2 L1119.2,112.1 L1120.2,112.0 L1121.2,112.2 L1122.2,112.4 L1123.2,112.6 L1124.2,112.8 L1125.2,113.0 L1126.2,113.0 L1127.2,113.0 L1128.2,113.0 L1129.2,113.0 L1130.2,113.0 L1130.2,91.8 L1129.2,91.8 L1128.2,91.8 L1127.2,91.8 L1126.2,91.8 L1125.2,91.8 L1124.2,91.8 L1123.2,91.8 L1122.2,91.8 L1121.2,91.8 L1120.2,91.8 L1119.2,91.8 L1118.2,91.8 L1117.2,91.8 L1116.2,91.8 L1115.2,91.8 L1114.2,91.8 L1113.2,91.8 L1112.2,91.8 L1111.2,91.8 L1110.2,91.8 L1109.2,91.8 L1108.2,91.8 L1107.2,91.8 L1106.2,91.8 L1105.2,91.8 L1104.2,91.8 L1103.2,91.8 L1102.2,91.8 L1101.2,91.8 L1100.2,91.8 L1099.2,91.8 L1098.2,91.8 L1097.2,91.8 L1096.2,91.8 L1095.2,91.8 L1094.2,91.8 L1093.2,91.8 L1092.2,91.8 L1091.2,91.8 L1090.2,91.8 L1089.2,91.8 L1088.2,91.8 L1087.2,91.8 L1086.2,91.8 L1085.2,91.8 L1084.2,91.8 L1083.2,91.8 L1082.2,91.8 L1081.2,91.8 L1080.2,91.8 L1079.2,91.8 L1078.2,91.8 L1077.2,91.8 L1076.2,91.8 L1075.2,91.8 L1074.2,91.8 L1073.2,91.8 L1072.2,91.8 L1071.2,91.8 L1070.2,91.8 L1069.2,91.8 L1068.2,91.8 L1067.2,91.8 L1066.2,91.8 L1065.2,91.8 L1064.2,91.8 L1063.2,91.8 L1062.2,91.8 L1061.2,91.8 L1060.2,91.8 L1059.2,91.5 L1058.2,91.2 L1057.2,90.9 L1056.2,90.6 L1055.2,89.9 L1054.2,89.1 L1053.2,88.3 L1052.2,87.6 L1051.2,86.8 L1050.2,86.0 L1049.2,85.3 L1048.2,84.5 L1047.2,83.7 L1046.2,82.9 L1045.2,82.2 L1044.2,81.4 L1043.2,81.0 L1042.2,80.7 L1041.2,80.4 L1040.2,80.1 L1039.2,79.8 L1038.2,79.4 L1037.2,79.1 L1036.2,78.8 L1035.2,77.8 L1034.2,76.5 L1033.2,75.3 L1032.2,74.0 L1031.2,72.8 L1030.2,71.5 L1029.2,70.9 L1028.2,70.5 L1027.2,70.0 L1026.2,69.6 L1025.2,69.2 L1024.2,68.7 L1023.2,68.3 L1022.2,68.0 L1021.2,68.0 L1020.2,67.9 L1019.2,67.9 L1018.2,67.9 L1017.2,67.9 L1016.2,67.8 L1015.2,67.8 L1014.2,67.8 L1013.2,67.8 L1012.2,67.7 L1011.2,67.7 L1010.2,67.7 L1009.2,67.7 L1008.2,67.6 L1007.2,67.6 L1006.2,67.6 L1005.2,67.6 L1004.2,67.5 L1003.2,67.5Z" fill="#808080" stroke="none"/>
<line x1="0.0" y1="66.5" x2="1148.0" y2="66.5" stroke="#c0c0c0" stroke-width="1" shape-rendering="crispEdges"/>
<line x1="0.0" y1="99.5" x2="1148.0" y2="99.5" stroke="#c0c0c0" stroke-width="1" shape-rendering="crispEdges"/>
<line x1="0.0" y1="132.5" x2="1148.0" y2="132.5" stroke="#c0c0c0" stroke-width="1" shape-rendering="crispEdges"/>
<line x1="0.0" y1="166.5" x2="1148.0" y2="166.5" stroke="#c0c0c0" stroke-width="1" shape-rendering="crispEdges"/>
<line x1="0.0" y1="197.5" x2="1148.0" y2="197.5" stroke="#c0c0c0" stroke-width="1" shape-rendering="crispEdges"/>
<line x1="0.0" y1="227.5" x2="1148.0" y2="227.5" stroke="#c0c0c0" stroke-width="1" shape-rendering="crispEdges"/>
<line x1="0.0" y1="236.5" x2="1148.0" y2="236.5" stroke="#c0c0c0" stroke-width="1" shape-rendering="crispEdges"/>
<line x1="0.0" y1="245.5" x2="1148.0" y2="245.5" stroke="#c0c0c0" stroke-width="1" shape-rendering="crispEdges"/>
<line x1="0.0" y1="263.5" x2="1148.0" y2="263.5" stroke="#c0c0c0" stroke-width="1" shape-rendering="crispEdges"/>
<line x1="0.0" y1="272.5" x2="1148.0" y2="272.5" stroke="#c0c0c0" stroke-width="1" shape-rendering="crispEdges"/>
<line x1="0.0" y1="280.5" x2="1148.0" y2="280.5" stroke="#c0c0c0" stroke-width="1" shape-rendering="crispEdges"/>
<line x1="0.0" y1="300.5" x2="1148.0" y2="300.5" stroke="#c0c0c0" stroke-width="1" shape-rendering="crispEdges"/>
<line x1="0.0" y1="313.5" x2="1148.0" y2="313.5" stroke="#c0c0c0" stroke-width="1" shape-rendering="crispEdges"/>
<line x1="0.0" y1="326.5" x2="1148.0" y2="326.5" stroke="#c0c0c0" stroke-width="1" shape-rendering="crispEdges"/>
<line x1="0.0" y1="339.5" x2="1148.0" y2="339.5" stroke="#c0c0c0" stroke-width="1" shape-rendering="crispEdges"/>
<line x1="0.0" y1="352.5" x2="1148.0" y2="352.5" stroke="#c0c0c0" stroke-width="1" shape-rendering="crispEdges"/>
<line x1="100.5" y1="5.0" x2="100.5" y2="352.0" stroke="#c0c0c0" stroke-width="1" shape-rendering="crispEdges"/>
<line x1="241.5" y1="5.0" x2="241.5" y2="352.0" stroke="#c0c0c0" stroke-width="1" shape-rendering="crispEdges"/>
<line x1="369.5" y1="5.0" x2="369.5" y2="352.0" stroke="#c0c0c0" stroke-width="1" shape-rendering="crispEdges"/>
<line x1="497.5" y1="5.0" x2="497.5" y2="352.0" stroke="#c0c0c0" stroke-width="1" shape-rendering="crispEdges"/>
<line x1="644.5" y1="5.0" x2="644.5" y2="352.0" stroke="#c0c0c0" stroke-width="1" shape-rendering="crispEdges"/>
<line x1="785.5" y1="5.0" x2="785.5" y2="352.0" stroke="#c0c0c0" stroke-width="1" shape-rendering="crispEdges"/>
<line x1="906.5" y1="5.0" x2="906.5" y2="352.0" stroke="#c0c0c0" stroke-width="1" shape-rendering="crispEdges"/>
<line x1="1054.5" y1="5.0" x2="1054.5" y2="352.0" stroke="#c0c0c0" stroke-width="1" shape-rendering="crispEdges"/>
<line x1="0.5" y1="5.0" x2="0.5" y2="352.0" stroke="#c0c0c0" stroke-width="1" shape-rendering="crispEdges"/>
<line x1="719.5" y1="5.0" x2="719.5" y2="352.0" stroke="#a8a8e0" stroke-width="1" shape-rendering="crispEdges"/>
<path d="M0.5,227.5V204.5H6.5V227.5ZM6.5,227.5V198.5H13.5V227.5ZM13.5,227.5V200.5H20.5V227.5ZM20.5,227.5V194.5H27.5V227.5ZM27.5,227.5V197.5H33.5V227.5ZM33.5,227.5V201.5H40.5V227.5ZM40.5,227.5V195.5H47.5V227.5ZM47.5,227.5V193.5H53.5V227.5ZM53.5,227.5V186.5H60.5V227.5ZM60.5,227.5V190.5H67.5V227.5ZM67.5,227.5V199.5H74.5V227.5ZM74.5,227.5V197.5H80.5V227.5ZM80.5,227.5V191.5H87.5V227.5ZM87.5,227.5V178.5H94.5V227.5ZM94.5,227.5V182.5H100.5V227.5ZM100.5,227.5V165.5H107.5V227.5ZM107.5,227.5V185.5H114.5V227.5ZM114.5,227.5V169.5H121.5V227.5ZM121.5,227.5V184.5H127.5V227.5ZM127.5,227.5V191.5H134.5V227.5ZM134.5,227.5V199.5H141.5V227.5ZM141.5,227.5V199.5H147.5V227.5ZM147.5,227.5V202.5H154.5V227.5ZM154.5,227.5V189.5H161.5V227.5ZM161.5,227.5V197.5H168.5V227.5ZM168.5,227.5V206.5H174.5V227.5ZM174.5,227.5V197.5H181.5V227.5ZM181.5,227.5V206.5H188.5V227.5ZM188.5,227.5V198.5H195.5V227.5ZM195.5,227.5V213.5H201.5V227.5ZM201.5,227.5V207.5H208.5V227.5ZM208.5,227.5V205.5H215.5V227.5ZM215.5,227.5V216.5H221.5V227.5ZM221.5,227.5V208.5H228.5V227.5ZM228.5,227.5V205.5H235.5V227.5ZM235.5,227.5V205.5H242.5V227.5ZM242.5,227.5V209.5H248.5V227.5ZM248.5,227.5V190.5H255.5V227.5ZM255.5,227.5V195.5H262.5V227.5ZM262.5,227.5V195.5H268.5V227.5ZM268.5,227.5V188.5H275.5V227.5ZM275.5,227.5V190.5H282.5V227.5ZM282.5,227.5V186.5H289.5V227.5ZM289.5,227.5V194.5H295.5V227.5ZM295.5,227.5V191.5H302.5V227.5ZM302.5,227.5V190.5H309.5V227.5ZM309.5,227.5V198.5H315.5V227.5ZM315.5,227.5V195.5H322.5V227.5ZM322.5,227.5V178.5H329.5V227.5ZM329.5,227.5V170.5H336.5V227.5ZM336.5,227.5V186.5H342.5V227.5ZM342.5,227.5V185.5H349.5V227.5ZM349.5,227.5V191.5H356.5V227.5ZM356.5,227.5V189.5H362.5V227.5ZM362.5,227.5V184.5H369.5V227.5ZM369.5,227.5V192.5H376.5V227.5ZM376.5,227.5V193.5H383.5V227.5ZM383.5,227.5V193.5H389.5V227.5ZM389.5,227.5V198.5H396.5V227.5ZM396.5,227.5V189.5H403.5V227.5ZM403.5,227.5V186.5H409.5V227.5ZM409.5,227.5V196.5H416.5V227.5ZM416.5,227.5V199.5H423.5V227.5ZM423.5,227.5V202.5H430.5V227.5ZM430.5,227.5V206.5H436.5V227.5ZM436.5,227.5V216.5H443.5V227.5ZM443.5,227.5V198.5H450.5V227.5ZM450.5,227.5V205.5H456.5V227.5ZM456.5,227.5V189.5H463.5V227.5ZM463.5,227.5V186.5H470.5V227.5ZM470.5,227.5V200.5H477.5V227.5ZM477.5,227.5V191.5H483.5V227.5ZM483.5,227.5V188.5H490.5V227.5ZM490.5,227.5V200.5H497.5V227.5ZM497.5,227.5V201.5H503.5V227.5ZM503.5,227.5V199.5H510.5V227.5ZM510.5,227.5V196.5H517.5V227.5ZM517.5,227.5V195.5H524.5V227.5ZM524.5,227.5V192.5H530.5V227.5ZM530.5,227.5V199.5H537.5V227.5ZM537.5,227.5V207.5H544.5V227.5ZM544.5,227.5V213.5H550.5V227.5ZM550.5,227.5V209.5H557.5V227.5ZM557.5,227.5V201.5H564.5V227.5ZM564.5,227.5V210.5H571.5V227.5ZM571.5,227.5V208.5H577.5V227.5ZM577.5,227.5V198.5H584.5V227.5ZM584.5,227.5V202.5H591.5V227.5ZM591.5,227.5V206.5H597.5V227.5ZM597.5,227.5V212.5H604.5V227.5ZM604.5,227.5V203.5H611.5V227.5ZM611.5,227.5V205.5H618.5V227.5ZM618.5,227.5V201.5H624.5V227.5ZM624.5,227.5V204.5H631.5V227.5ZM631.5,227.5V200.5H638.5V227.5ZM638.5,227.5V202.5H644.5V227.5ZM644.5,227.5V198.5H651.5V227.5ZM651.5,227.5V203.5H658.5V227.5ZM658.5,227.5V206.5H665.5V227.5ZM665.5,227.5V195.5H671.5V227.5ZM671.5,227.5V200.5H678.5V227.5ZM678.5,227.5V200.5H685.5V227.5ZM685.5,227.5V202.5H691.5V227.5ZM691.5,227.5V196.5H698.5V227.5ZM698.5,227.5V193.5H705.5V227.5ZM705.5,227.5V196.5H712.5V227.5ZM712.5,227.5V202.5H718.5V227.5ZM718.5,227.5V193.5H725.5V227.5ZM725.5,227.5V196.5H732.5V227.5ZM732.5,227.5V196.5H739.5V227.5ZM739.5,227.5V199.5H745.5V227.5ZM745.5,227.5V190.5H752.5V227.5ZM752.5,227.5V191.5H759.5V227.5ZM759.5,227.5V198.5H765.5V227.5ZM765.5,227.5V202.5H772.5V227.5ZM772.5,227.5V193.5H779.5V227.5ZM779.5,227.5V202.5H786.5V227.5ZM786.5,227.5V200.5H792.5V227.5ZM792.5,227.5V176.5H799.5V227.5ZM799.5,227.5V176.5H806.5V227.5ZM806.5,227.5V170.5H812.5V227.5ZM812.5,227.5V177.5H819.5V227.5ZM819.5,227.5V190.5H826.5V227.5ZM826.5,227.5V177.5H833.5V227.5ZM833.5,227.5V178.5H839.5V227.5ZM839.5,227.5V182.5H846.5V227.5ZM846.5,227.5V177.5H853.5V227.5ZM853.5,227.5V177.5H859.5V227.5ZM859.5,227.5V170.5H866.5V227.5ZM866.5,227.5V184.5H873.5V227.5ZM873.5,227.5V174.5H880.5V227.5ZM880.5,227.5V166.5H886.5V227.5ZM886.5,227.5V175.5H893.5V227.5ZM893.5,227.5V179.5H900.5V227.5ZM900.5,227.5V192.5H906.5V227.5ZM906.5,227.5V188.5H913.5V227.5ZM913.5,227.5V178.5H920.5V227.5ZM920.5,227.5V186.5H927.5V227.5ZM927.5,227.5V194.5H933.5V227.5ZM933.5,227.5V182.5H940.5V227.5ZM940.5,227.5V190.5H947.5V227.5ZM947.5,227.5V184.5H953.5V227.5ZM953.5,227.5V205.5H960.5V227.5ZM960.5,227.5V199.5H967.5V227.5ZM967.5,227.5V206.5H974.5V227.5ZM974.5,227.5V209.5H980.5V227.5ZM980.5,227.5V200.5H987.5V227.5ZM987.5,227.5V207.5H994.5V227.5ZM994.5,227.5V207.5H1000.5V227.5ZM1000.5,227.5V196.5H1007.5V227.5ZM1007.5,227.5V206.5H1014.5V227.5ZM1014.5,227.5V206.5H1021.5V227.5ZM1021.5,227.5V207.5H1027.5V227.5ZM1027.5,227.5V199.5H1034.5V227.5ZM1034.5,227.5V206.5H1041.5V227.5ZM1041.5,227.5V192.5H1047.5V227.5ZM1047.5,227.5V191.5H1054.5V227.5ZM1054.5,227.5V187.5H1061.5V227.5ZM1061.5,227.5V193.5H1068.5V227.5Z" fill="#9fcfff" stroke="#0000cc" stroke-width="1"/>
<path d="M3,118h1V126h-1ZM10,112h1V122h-1ZM16,112h1V119h-1ZM23,112h1V122h-1ZM30,120h1V127h-1ZM36,122h1V126h-1ZM43,118h1V127h-1ZM50,121h1V132h-1ZM57,126h1V139h-1ZM63,136h1V142h-1ZM70,137h1V144h-1ZM77,141h1V148h-1ZM83,138h1V148h-1ZM90,144h1V162h-1ZM97,146h1V165h-1ZM104,134h1V154h-1ZM110,129h1V140h-1ZM117,111h1V132h-1ZM124,108h1V116h-1ZM131,99h1V113h-1ZM137,101h1V108h-1ZM144,103h1V112h-1ZM151,108h1V121h-1ZM157,106h1V122h-1ZM164,103h1V111h-1ZM171,104h1V109h-1ZM178,97h1V106h-1ZM184,96h1V104h-1ZM191,101h1V111h-1ZM198,100h1V102h-1ZM204,89h1V101h-1ZM211,79h1V92h-1ZM218,81h1V84h-1ZM225,73h1V82h-1ZM231,70h1V78h-1ZM238,70h1V82h-1ZM245,71h1V82h-1ZM251,66h1V75h-1ZM258,67h1V75h-1ZM265,67h1V76h-1ZM272,64h1V74h-1ZM278,60h1V69h-1ZM285,61h1V71h-1ZM292,60h1V73h-1ZM298,56h1V63h-1ZM305,57h1V68h-1ZM312,62h1V70h-1ZM319,62h1V71h-1ZM325,61h1V76h-1ZM332,64h1V82h-1ZM339,75h1V89h-1ZM345,78h1V92h-1ZM352,89h1V97h-1ZM359,84h1V99h-1ZM366,85h1V102h-1ZM372,97h1V104h-1ZM379,88h1V100h-1ZM386,86h1V92h-1ZM392,85h1V96h-1ZM399,92h1V109h-1ZM406,106h1V115h-1ZM413,109h1V118h-1ZM419,107h1V114h-1ZM426,106h1V111h-1ZM433,103h1V110h-1ZM439,107h1V111h-1ZM446,94h1V108h-1ZM453,91h1V95h-1ZM460,90h1V103h-1ZM466,85h1V104h-1ZM473,88h1V97h-1ZM480,88h1V104h-1ZM486,95h1V106h-1ZM493,100h1V107h-1ZM500,102h1V105h-1ZM507,96h1V103h-1ZM513,94h1V101h-1ZM520,94h1V103h-1ZM527,87h1V105h-1ZM533,79h1V89h-1ZM540,77h1V81h-1ZM547,77h1V83h-1ZM554,72h1V79h-1ZM560,70h1V80h-1ZM567,69h1V75h-1ZM574,70h1V75h-1ZM580,65h1V72h-1ZM587,65h1V73h-1ZM594,66h1V75h-1ZM601,66h1V73h-1ZM607,64h1V75h-1ZM614,65h1V71h-1ZM621,55h1V68h-1ZM627,55h1V61h-1ZM634,47h1V55h-1ZM641,45h1V50h-1ZM648,38h1V51h-1ZM654,36h1V43h-1ZM661,33h1V37h-1ZM668,33h1V44h-1ZM675,34h1V41h-1ZM681,40h1V45h-1ZM688,43h1V50h-1ZM695,34h1V42h-1ZM701,39h1V50h-1ZM708,39h1V47h-1ZM715,36h1V44h-1ZM722,40h1V50h-1ZM728,50h1V61h-1ZM735,54h1V64h-1ZM742,49h1V60h-1ZM748,50h1V62h-1ZM755,55h1V63h-1ZM762,46h1V60h-1ZM769,44h1V49h-1ZM775,45h1V62h-1ZM782,49h1V65h-1ZM789,50h1V72h-1ZM795,76h1V99h-1ZM802,81h1V91h-1ZM809,71h1V88h-1ZM816,81h1V92h-1ZM822,75h1V87h-1ZM829,72h1V89h-1ZM836,86h1V103h-1ZM842,91h1V100h-1ZM849,92h1V108h-1ZM856,101h1V111h-1ZM863,107h1V126h-1ZM869,124h1V132h-1ZM876,122h1V142h-1ZM883,131h1V151h-1ZM889,129h1V144h-1ZM896,121h1V133h-1ZM903,117h1V126h-1ZM910,123h1V130h-1ZM916,123h1V136h-1ZM923,113h1V133h-1ZM930,111h1V119h-1ZM936,113h1V138h-1ZM943,133h1V142h-1ZM950,137h1V145h-1ZM957,135h1V142h-1ZM963,123h1V140h-1ZM970,117h1V129h-1ZM977,115h1V120h-1ZM983,105h1V122h-1ZM990,106h1V110h-1ZM997,107h1V112h-1ZM1004,97h1V111h-1ZM1010,97h1V105h-1ZM1017,102h1V116h-1ZM1024,110h1V117h-1ZM1030,117h1V128h-1ZM1037,122h1V128h-1ZM1044,127h1V136h-1ZM1051,136h1V146h-1ZM1057,144h1V159h-1ZM1064,152h1V158h-1Z" fill="#0000cc" stroke="none"/>
<path d="M0,121h7v2h-7ZM13,117h7v2h-7ZM20,115h7V122h-7ZM27,122h7V124h-7ZM40,120h7V126h-7ZM47,125h7V128h-7ZM54,128h7V136h-7ZM60,136h7V139h-7ZM67,139h7V144h-7ZM80,139h7V144h-7ZM87,144h7V162h-7ZM121,110h7v2h-7ZM134,101h7v2h-7ZM141,103h7V111h-7ZM148,113h7V121h-7ZM161,105h7v2h-7ZM168,104h7v2h-7ZM181,100h7v2h-7ZM188,102h7v2h-7ZM215,81h7v2h-7ZM228,73h7v2h-7ZM235,72h7V81h-7ZM248,72h7V74h-7ZM255,70h7v2h-7ZM262,70h7v2h-7ZM282,61h7V70h-7ZM302,57h7V64h-7ZM309,64h7V68h-7ZM316,66h7V71h-7ZM329,64h7V78h-7ZM336,76h7V82h-7ZM342,82h7V92h-7ZM349,93h7V96h-7ZM363,88h7V101h-7ZM369,99h7v2h-7ZM389,87h7V91h-7ZM396,92h7V106h-7ZM403,106h7V113h-7ZM410,112h7v2h-7ZM416,110h7V112h-7ZM430,105h7V110h-7ZM436,109h7v2h-7ZM457,93h7V103h-7ZM470,90h7v2h-7ZM477,91h7V98h-7ZM483,100h7V106h-7ZM490,104h7v2h-7ZM504,97h7v2h-7ZM510,97h7v2h-7ZM517,97h7V102h-7ZM537,77h7V79h-7ZM544,77h7v2h-7ZM564,71h7v2h-7ZM571,71h7v2h-7ZM584,67h7V73h-7ZM598,69h7V71h-7ZM604,70h7v2h-7ZM638,47h7V50h-7ZM665,35h7V39h-7ZM672,38h7v2h-7ZM678,40h7V45h-7ZM692,39h7v2h-7ZM698,40h7V47h-7ZM712,42h7v2h-7ZM719,40h7V50h-7ZM725,50h7V61h-7ZM745,50h7V58h-7ZM752,55h7v2h-7ZM772,45h7V58h-7ZM786,50h7V72h-7ZM792,76h7V86h-7ZM806,77h7V88h-7ZM813,88h7V90h-7ZM826,74h7V85h-7ZM833,86h7V97h-7ZM839,94h7V96h-7ZM846,92h7V102h-7ZM853,101h7V108h-7ZM860,107h7V126h-7ZM873,122h7V142h-7ZM900,122h7v2h-7ZM907,124h7v2h-7ZM913,129h7V132h-7ZM927,113h7V115h-7ZM933,113h7V138h-7ZM940,135h7v2h-7ZM947,138h7v2h-7ZM954,136h7V138h-7ZM974,117h7V120h-7ZM987,106h7V110h-7ZM994,109h7v2h-7ZM1007,97h7V105h-7ZM1014,104h7V116h-7ZM1021,114h7v2h-7ZM1027,117h7V126h-7ZM1034,122h7V128h-7ZM1041,127h7V136h-7ZM1048,136h7V146h-7ZM1054,144h7V156h-7Z" fill="#0000cc" stroke="none"/>
<path d="M7.5,117.5h6V119.5h-6ZM33.5,121.5h6V123.5h-6ZM74.5,141.5h6V145.5h-6ZM94.5,147.5h6V162.5h-6ZM101.5,135.5h6V146.5h-6ZM107.5,131.5h6V139.5h-6ZM114.5,113.5h6V131.5h-6ZM128.5,102.5h6V110.5h-6ZM154.5,106.5h6V119.5h-6ZM175.5,101.5h6V105.5h-6ZM195.5,99.5h6V101.5h-6ZM201.5,91.5h6V98.5h-6ZM208.5,82.5h6V90.5h-6ZM222.5,76.5h6V80.5h-6ZM242.5,76.5h6V80.5h-6ZM269.5,66.5h6V70.5h-6ZM275.5,62.5h6V64.5h-6ZM289.5,62.5h6V70.5h-6ZM295.5,56.5h6V59.5h-6ZM322.5,64.5h6V71.5h-6ZM356.5,88.5h6V97.5h-6ZM376.5,90.5h6V97.5h-6ZM383.5,87.5h6V89.5h-6ZM423.5,106.5h6V110.5h-6ZM443.5,94.5h6V107.5h-6ZM450.5,92.5h6V94.5h-6ZM463.5,90.5h6V101.5h-6ZM497.5,102.5h6V104.5h-6ZM524.5,90.5h6V103.5h-6ZM530.5,79.5h6V88.5h-6ZM551.5,72.5h6V78.5h-6ZM557.5,72.5h6V75.5h-6ZM577.5,68.5h6V71.5h-6ZM591.5,69.5h6V71.5h-6ZM611.5,67.5h6V70.5h-6ZM618.5,60.5h6V67.5h-6ZM624.5,55.5h6V58.5h-6ZM631.5,49.5h6V52.5h-6ZM645.5,42.5h6V48.5h-6ZM651.5,38.5h6V42.5h-6ZM658.5,35.5h6V37.5h-6ZM685.5,43.5h6V45.5h-6ZM705.5,43.5h6V45.5h-6ZM732.5,54.5h6V60.5h-6ZM739.5,49.5h6V59.5h-6ZM759.5,46.5h6V59.5h-6ZM766.5,44.5h6V48.5h-6ZM779.5,57.5h6V59.5h-6ZM799.5,81.5h6V88.5h-6ZM819.5,75.5h6V86.5h-6ZM866.5,123.5h6V125.5h-6ZM880.5,139.5h6V143.5h-6ZM886.5,129.5h6V140.5h-6ZM893.5,121.5h6V127.5h-6ZM920.5,113.5h6V128.5h-6ZM960.5,127.5h6V139.5h-6ZM967.5,117.5h6V126.5h-6ZM980.5,105.5h6V119.5h-6ZM1001.5,97.5h6V110.5h-6ZM1061.5,154.5h6V157.5h-6Z" fill="#fff" stroke="#0000cc" stroke-width="1"/>
<path d="M3.4,105.2 L10.1,100.6 L16.8,101.2 L23.5,102.5 L30.3,100.0 L37.0,91.0 L43.7,82.2 L50.4,81.9 L57.1,75.6 L63.8,74.4 L70.6,80.6 L77.3,75.6 L84.0,73.8 L90.7,71.0 L97.4,71.0 L104.1,65.6 L110.9,61.9 L117.6,70.0 L124.3,61.5 L131.0,56.2 L137.7,64.4 L144.4,68.0 L151.2,71.2 L157.9,64.4 L164.6,77.5 L171.3,81.9 L178.0,91.5 L184.7,95.6 L191.4,87.5 L198.2,101.2 L204.9,100.2 L211.6,90.2 L218.3,86.9 L225.0,91.2 L231.7,106.2 L238.5,113.5 L245.2,113.1 L251.9,112.1 L258.6,105.8 L265.3,110.2 L272.0,109.6 L278.8,94.2 L285.5,92.3 L292.2,102.9 L298.9,90.4 L305.6,91.3 L312.3,98.1 L319.1,105.8 L325.8,104.8 L332.5,101.9 L339.2,97.7 L345.9,97.7 L352.6,101.9 L359.3,90.4 L366.1,78.8 L372.8,78.8 L379.5,78.4 L386.2,72.4 L392.9,72.4 L399.6,72.4 L406.4,72.4 L413.1,67.8 L419.8,73.0 L426.5,69.7 L433.2,71.1 L439.9,71.1 L446.7,67.2 L453.4,59.5 L460.1,54.7 L466.8,48.5 L473.5,49.9 L480.2,42.2 L487.0,38.3 L493.7,35.4 L500.4,39.3 L507.1,39.3 L513.8,45.4 L520.5,43.1 L527.2,40.2 L534.0,46.6 L540.7,43.1 L547.4,43.1 L554.1,50.5 L560.8,60.9 L567.5,54.3 L574.3,49.3 L581.0,57.6 L587.7,55.7 L594.4,46.0 L601.1,43.5 L607.8,58.2 L614.6,57.6 L621.3,72.4 L628.0,85.9 L634.7,80.7 L641.4,88.4 L648.1,90.4 L654.9,74.9 L661.6,85.2 L668.3,97.1 L675.0,96.1 L681.7,101.9 L688.4,108.3 L695.1,125.6 L701.9,124.1 L708.6,141.8 L715.3,138.6 L722.0,129.5 L728.7,121.2 L735.4,122.6 L742.2,125.1 L748.9,132.2 L755.6,113.5 L762.3,114.8 L769.0,137.6 L775.7,136.2 L782.5,138.6 L789.2,138.0 L795.9,126.6 L802.6,117.3 L809.3,119.9 L816.0,104.8 L822.8,110.2 L829.5,110.2 L836.2,97.1 L842.9,104.8 L849.6,116.0 L856.3,115.0 L863.0,125.6 L869.8,128.0 L876.5,135.8 L883.2,146.2 L889.9,156.2 L896.6,154.2" fill="none" stroke="#00c8ff" stroke-width="1.1" stroke-linejoin="round" />
<path d="M3.1,108.5 L25.0,108.5 L28.8,107.2 L45.0,107.2 L52.5,110.0 L60.0,113.1 L70.0,115.6 L82.5,117.5 L90.0,124.4 L95.0,125.4 L115.0,125.4 L121.2,128.8 L130.0,131.2 L150.0,131.5 L175.0,130.0 L197.5,130.0 L200.0,129.4 L210.6,121.2 L218.8,121.2 L224.4,118.1 L231.2,117.2 L245.6,117.2 L251.2,115.0 L265.0,115.0 L272.5,108.5 L277.5,99.4 L287.5,93.8 L297.5,88.5 L325.0,88.1 L332.5,82.5 L361.2,81.9 L366.2,79.4 L391.2,79.4 L398.8,81.5 L400.0,81.3 L405.8,84.0 L412.5,86.1 L465.5,86.1 L481.0,86.5 L492.5,87.9 L500.2,89.8 L506.0,94.2 L515.7,95.6 L523.4,99.0 L528.2,99.4 L534.9,96.7 L554.2,94.2 L563.9,92.9 L579.3,92.3 L585.1,88.4 L592.8,87.5 L608.2,86.5 L617.8,84.0 L634.2,76.3 L641.0,75.5 L648.7,71.1 L656.4,69.7 L669.9,68.2 L694.9,68.2 L698.8,63.4 L708.4,56.6 L714.2,56.2 L722.7,55.1 L736.2,53.2 L753.5,52.8 L772.8,51.8 L786.3,52.8 L796.0,65.3 L830.7,65.3 L848.0,69.2 L857.6,72.4 L865.4,79.8 L880.8,90.4 L896.2,96.1 L944.4,96.5 L957.9,99.0 L963.7,109.1 L975.2,109.6 L984.9,111.0 L998.4,111.6 L1004.2,115.4 L1005.0,116.0 L1012.5,120.0 L1027.5,122.0 L1050.0,122.0 L1056.0,125.0" fill="none" stroke="#50c88c" stroke-width="1.05" stroke-linejoin="round" />
<path d="M3.1,107.5 L10.0,113.1 L16.2,116.2 L25.0,118.1 L33.8,118.8 L46.2,119.4 L52.5,121.9 L60.0,124.4 L70.0,126.2 L77.5,129.4 L83.8,133.1 L91.2,139.4 L100.0,141.9 L106.2,143.1 L110.0,145.6 L115.0,140.0 L118.8,137.5 L123.8,136.0 L130.0,131.5 L150.0,131.5 L157.5,125.0 L165.0,118.1 L172.5,113.1 L177.5,109.4 L187.5,108.5 L198.8,108.1 L200.0,107.5 L207.5,101.2 L215.0,95.6 L221.2,92.5 L228.1,89.4 L245.0,89.1 L251.2,83.1 L258.1,82.9 L265.0,77.5 L271.2,72.8 L278.1,70.0 L293.1,70.0 L300.0,66.5 L305.6,64.0 L325.0,64.0 L330.0,66.5 L337.5,70.6 L351.2,75.2 L365.0,80.0 L380.0,81.0 L386.2,83.1 L393.1,88.8 L398.8,92.5 L400.0,93.2 L405.8,99.0 L411.6,100.4 L425.1,100.4 L438.6,101.9 L447.2,101.9 L453.0,104.4 L459.8,103.3 L466.5,100.6 L473.2,98.1 L486.8,98.1 L500.2,96.1 L507.9,94.2 L523.4,94.2 L527.2,96.1 L534.9,92.3 L542.6,90.4 L554.2,88.4 L567.7,85.5 L575.4,85.2 L582.2,81.7 L587.0,76.9 L593.7,74.0 L607.2,71.7 L617.8,69.2 L623.6,66.3 L631.3,62.4 L642.9,58.5 L648.7,55.7 L656.4,53.7 L669.9,50.5 L677.6,47.0 L685.3,44.7 L694.9,41.6 L708.4,40.8 L714.2,40.4 L722.7,41.6 L729.5,48.0 L738.1,48.9 L761.3,49.3 L770.9,49.3 L780.5,51.8 L788.2,55.7 L792.1,64.3 L796.0,70.5 L805.6,71.7 L815.2,70.5 L825.8,70.5 L834.5,73.6 L843.2,74.9 L849.0,86.5 L857.6,90.4 L865.4,98.1 L876.9,106.4 L888.5,114.5 L896.2,119.3 L904.9,121.2 L911.6,125.1 L919.3,129.9 L925.1,131.2 L936.7,129.9 L942.5,126.4 L961.8,127.0 L971.4,127.6 L984.9,124.1 L996.5,124.1 L1006.1,119.9 L1015.7,116.4 L1021.5,113.5 L1022.5,110.0 L1030.0,109.5 L1037.5,111.2 L1045.0,115.0 L1050.0,120.0 L1056.0,125.8 L1064.0,125.8" fill="none" stroke="#ffb400" stroke-width="1.2" stroke-linejoin="round" />
<path d="M3.1,92.2 L10.6,92.2 L16.2,98.8 L25.0,100.6 L31.2,101.2 L41.2,103.8 L47.5,107.5 L53.8,110.0 L63.8,110.2 L70.0,108.8 L85.0,107.5 L100.0,105.0 L110.0,102.5 L120.0,100.6 L130.0,100.4 L137.5,102.5 L147.5,104.4 L153.8,106.2 L162.5,106.9 L175.0,108.1 L185.0,110.6 L195.0,113.1 L200.0,113.1 L221.2,113.1 L231.2,118.1 L241.2,120.6 L258.1,124.4 L266.2,131.9 L275.0,133.8 L286.2,135.0 L291.2,132.5 L298.8,132.8 L306.2,131.2 L326.2,131.0 L337.5,126.2 L341.2,124.4 L351.9,119.1 L372.5,119.0 L380.0,115.6 L390.0,108.5 L398.8,104.8 L400.0,103.3 L419.3,103.3 L425.1,100.0 L438.6,96.7 L443.4,94.2 L448.2,88.4 L454.0,83.2 L465.5,79.8 L479.0,76.9 L500.2,75.9 L507.9,75.5 L515.7,76.3 L531.1,77.8 L546.5,78.8 L560.0,80.7 L567.7,82.7 L573.5,85.5 L581.2,91.3 L585.1,92.9 L619.8,93.2 L629.4,94.8 L634.2,94.2 L641.0,92.9 L658.3,92.9 L669.9,92.3 L683.4,95.2 L694.9,97.1 L700.7,98.1 L706.5,95.2 L712.3,93.6 L715.0,93.6 L722.7,93.2 L734.3,90.4 L755.5,87.5 L763.2,81.7 L782.5,77.8 L792.1,75.9 L797.9,72.0 L817.2,67.2 L823.0,63.4 L834.5,60.5 L857.6,56.2 L871.1,53.7 L882.7,48.5 L896.2,48.5 L903.0,50.8 L925.1,50.5 L946.3,51.4 L959.8,53.2 L964.6,55.7 L970.4,67.2 L1000.3,67.2 L1002.5,67.5 L1015.0,71.2 L1025.0,79.5 L1035.0,87.5 L1045.0,93.8 L1055.0,100.0 L1070.0,108.0 L1085.0,111.2 L1097.5,113.0 L1112.5,113.0 L1120.0,112.0 L1125.0,113.0 L1131.0,113.0" fill="none" stroke="#ff00ff" stroke-width="1.2" stroke-linejoin="round" />
<path d="M3.1,108.5 L15.0,104.4 L25.0,101.0 L31.2,98.5 L198.8,98.5 L200.0,98.5 L218.8,98.5 L231.2,109.0 L241.2,111.2 L258.1,113.1 L266.2,120.6 L271.9,122.2 L320.0,122.2 L325.0,124.0 L337.5,125.4 L378.8,125.4 L386.2,121.2 L393.1,121.0 L398.8,118.5 L400.0,118.3 L411.6,117.9 L432.8,116.0 L450.1,114.1 L457.8,112.5 L466.5,112.1 L473.2,110.2 L614.9,110.0 L629.4,96.1 L641.0,88.4 L675.7,88.4 L679.5,86.5 L714.2,86.5 L792.1,86.5 L805.6,85.2 L817.2,81.3 L823.0,76.9 L834.5,74.4 L930.9,74.4 L942.5,71.1 L957.9,70.5 L969.5,67.8 L1000.3,67.6 L1002.5,67.5 L1022.5,68.0 L1030.0,71.2 L1036.0,78.8 L1044.0,81.2 L1056.0,90.5 L1060.0,91.8 L1131.0,91.8" fill="none" stroke="#0096ff" stroke-width="1.3" stroke-linejoin="round" />
<line x1="0.0" y1="254.5" x2="1148.0" y2="254.5" stroke="#a0a000" stroke-width="1" shape-rendering="crispEdges"/>
<path d="M0.0,254.9V261.5H6.8V254.9ZM6.8,254.9V259.3H13.5V254.9ZM13.5,254.9V257.5H20.2V254.9ZM20.2,254.9V256.6H26.9V254.9ZM26.9,254.9V256.2H33.6V254.9ZM33.6,254.9V256.0H40.3V254.9ZM40.3,254.9V255.7H47.1V254.9ZM47.1,254.9V256.1H53.8V254.9ZM53.8,254.9V256.7H60.5V254.9ZM60.5,254.9V257.3H67.2V254.9ZM67.2,254.9V257.6H73.9V254.9ZM73.9,254.9V257.8H80.6V254.9ZM80.6,254.9V258.1H87.3V254.9ZM87.4,254.9V258.9H94.1V254.9ZM94.1,254.9V259.1H100.8V254.9ZM100.8,254.9V257.0H107.5V254.9ZM114.2,254.9V250.8H120.9V254.9ZM120.9,254.9V247.5H127.6V254.9ZM127.6,254.9V244.9H134.4V254.9ZM134.4,254.9V243.1H141.1V254.9ZM141.1,254.9V244.1H147.8V254.9ZM147.8,254.9V245.1H154.5V254.9ZM154.5,254.9V246.2H161.2V254.9ZM161.2,254.9V247.3H167.9V254.9ZM167.9,254.9V248.3H174.7V254.9ZM174.7,254.9V249.4H181.4V254.9ZM181.4,254.9V250.4H188.1V254.9ZM188.1,254.9V250.2H194.8V254.9ZM194.8,254.9V250.1H201.5V254.9ZM201.5,254.9V249.9H208.2V254.9ZM208.2,254.9V249.5H215.0V254.9ZM215.0,254.9V249.1H221.7V254.9ZM221.7,254.9V248.7H228.4V254.9ZM228.4,254.9V249.3H235.1V254.9ZM235.1,254.9V250.0H241.8V254.9ZM241.8,254.9V250.7H248.5V254.9ZM248.5,254.9V251.3H255.3V254.9ZM255.2,254.9V251.8H262.0V254.9ZM262.0,254.9V252.4H268.7V254.9ZM268.7,254.9V252.9H275.4V254.9ZM275.4,254.9V253.2H282.1V254.9ZM282.1,254.9V253.3H288.8V254.9ZM288.8,254.9V253.5H295.5V254.9ZM295.5,254.9V253.6H302.3V254.9ZM309.0,254.9V256.4H315.7V254.9ZM315.7,254.9V256.9H322.4V254.9ZM322.4,254.9V257.4H329.1V254.9ZM329.1,254.9V257.9H335.8V254.9ZM335.8,254.9V259.6H342.6V254.9ZM342.6,254.9V261.3H349.3V254.9ZM349.3,254.9V262.9H356.0V254.9ZM356.0,254.9V264.0H362.7V254.9ZM362.7,254.9V265.2H369.4V254.9ZM369.4,254.9V265.1H376.1V254.9ZM376.1,254.9V263.3H382.9V254.9ZM382.9,254.9V261.4H389.6V254.9ZM389.6,254.9V260.3H396.3V254.9ZM396.3,254.9V260.0H403.0V254.9ZM403.0,254.9V260.3H409.7V254.9ZM409.7,254.9V260.8H416.4V254.9ZM416.4,254.9V259.9H423.1V254.9ZM423.1,254.9V259.1H429.9V254.9ZM429.9,254.9V258.1H436.6V254.9ZM443.3,254.9V253.8H450.0V254.9ZM450.0,254.9V252.8H456.7V254.9ZM456.7,254.9V251.8H463.4V254.9ZM463.4,254.9V250.9H470.2V254.9ZM470.2,254.9V250.5H476.9V254.9ZM476.9,254.9V251.4H483.6V254.9ZM483.6,254.9V252.2H490.3V254.9ZM490.3,254.9V253.0H497.0V254.9ZM497.0,254.9V253.4H503.7V254.9ZM503.7,254.9V253.3H510.5V254.9ZM510.5,254.9V253.2H517.2V254.9ZM517.2,254.9V253.1H523.9V254.9ZM523.9,254.9V251.9H530.6V254.9ZM530.6,254.9V250.3H537.3V254.9ZM537.3,254.9V249.3H544.0V254.9ZM544.0,254.9V248.9H550.8V254.9ZM550.8,254.9V248.5H557.5V254.9ZM557.5,254.9V248.8H564.2V254.9ZM564.2,254.9V249.2H570.9V254.9ZM570.9,254.9V249.6H577.6V254.9ZM577.6,254.9V250.1H584.3V254.9ZM584.3,254.9V250.6H591.1V254.9ZM591.1,254.9V251.1H597.8V254.9ZM597.8,254.9V251.6H604.5V254.9ZM604.5,254.9V252.2H611.2V254.9ZM611.2,254.9V252.7H617.9V254.9ZM617.9,254.9V253.0H624.6V254.9ZM624.6,254.9V252.4H631.3V254.9ZM631.3,254.9V251.7H638.1V254.9ZM638.1,254.9V251.1H644.8V254.9ZM644.8,254.9V250.8H651.5V254.9ZM651.5,254.9V250.6H658.2V254.9ZM658.2,254.9V250.6H664.9V254.9ZM664.9,254.9V251.3H671.6V254.9ZM671.6,254.9V252.1H678.4V254.9ZM678.4,254.9V253.5H685.1V254.9ZM691.8,254.9V256.4H698.5V254.9ZM698.5,254.9V257.2H705.2V254.9ZM705.2,254.9V257.9H711.9V254.9ZM711.9,254.9V258.0H718.7V254.9ZM718.7,254.9V259.2H725.4V254.9ZM725.4,254.9V260.4H732.1V254.9ZM732.1,254.9V261.5H738.8V254.9ZM738.8,254.9V261.7H745.5V254.9ZM745.5,254.9V261.8H752.2V254.9ZM752.2,254.9V261.1H759.0V254.9ZM759.0,254.9V259.2H765.7V254.9ZM765.7,254.9V257.7H772.4V254.9ZM772.4,254.9V257.4H779.1V254.9ZM779.1,254.9V257.5H785.8V254.9ZM785.8,254.9V258.8H792.5V254.9ZM792.5,254.9V260.7H799.2V254.9ZM799.2,254.9V261.9H806.0V254.9ZM806.0,254.9V262.8H812.7V254.9ZM812.7,254.9V263.4H819.4V254.9ZM819.4,254.9V261.9H826.1V254.9ZM826.1,254.9V260.9H832.8V254.9ZM832.8,254.9V260.7H839.5V254.9ZM839.5,254.9V260.5H846.3V254.9ZM846.3,254.9V261.1H853.0V254.9ZM853.0,254.9V262.1H859.7V254.9ZM859.7,254.9V263.0H866.4V254.9ZM866.4,254.9V263.9H873.1V254.9ZM873.1,254.9V264.5H879.8V254.9ZM879.8,254.9V264.2H886.6V254.9ZM886.6,254.9V262.7H893.3V254.9ZM893.3,254.9V259.9H900.0V254.9ZM900.0,254.9V257.2H906.7V254.9ZM913.4,254.9V252.4H920.1V254.9ZM920.1,254.9V250.5H926.9V254.9ZM926.9,254.9V248.7H933.6V254.9ZM933.6,254.9V250.1H940.3V254.9ZM940.3,254.9V251.9H947.0V254.9ZM947.0,254.9V253.5H953.7V254.9ZM953.7,254.9V252.7H960.4V254.9ZM960.4,254.9V251.9H967.1V254.9ZM967.1,254.9V251.0H973.9V254.9ZM973.9,254.9V248.9H980.6V254.9ZM980.6,254.9V247.0H987.3V254.9ZM987.3,254.9V245.4H994.0V254.9ZM994.0,254.9V244.3H1000.7V254.9ZM1000.7,254.9V243.8H1007.4V254.9ZM1007.4,254.9V243.8H1014.2V254.9ZM1014.2,254.9V245.9H1020.9V254.9ZM1020.9,254.9V248.2H1027.6V254.9ZM1027.6,254.9V251.7H1034.3V254.9ZM1041.0,254.9V257.1H1047.7V254.9ZM1047.7,254.9V259.8H1054.5V254.9ZM1054.5,254.9V262.1H1061.2V254.9ZM1061.2,254.9V263.6H1067.9V254.9Z" fill="#ffff80" stroke="#a0a000" stroke-width="0.9"/>
<line x1="0.0" y1="254.5" x2="1148.0" y2="254.5" stroke="#a0a000" stroke-width="1" shape-rendering="crispEdges"/>
<path d="M3.0,257.5C5.0,258.0 8.0,259.8 15.0,260.8C22.0,261.7 36.7,262.3 45.0,263.0C53.3,263.7 58.8,264.3 65.0,265.0C71.2,265.7 76.7,266.4 82.5,267.0C88.3,267.6 93.3,268.5 100.0,268.8C106.7,269.0 116.5,269.2 122.5,268.8C128.5,268.3 131.7,267.2 136.2,266.2C140.8,265.3 145.2,264.5 150.0,263.0C154.8,261.5 159.2,259.3 165.0,257.5C170.8,255.7 178.3,253.5 185.0,252.0C191.7,250.5 198.3,249.9 205.0,248.8C211.7,247.6 217.5,246.5 225.0,245.0C232.5,243.5 241.7,241.4 250.0,240.0C258.3,238.6 266.7,237.5 275.0,236.8C283.3,236.0 293.8,235.7 300.0,235.5C306.2,235.3 307.1,235.2 312.5,235.5C317.9,235.8 326.2,236.2 332.5,237.0C338.8,237.8 343.8,238.5 350.0,240.0C356.2,241.5 363.3,243.9 370.0,245.8C376.7,247.6 384.6,249.7 390.0,251.2C395.4,252.8 398.8,253.9 402.5,255.0C406.2,256.1 410.4,257.1 412.5,257.8C414.6,258.4 410.4,257.8 415.0,258.8C419.6,259.8 431.7,262.9 440.0,263.8C448.3,264.6 456.7,264.0 465.0,263.8C473.3,263.5 481.7,262.6 490.0,262.0C498.3,261.4 507.5,260.6 515.0,260.0C522.5,259.4 528.3,259.2 535.0,258.2C541.7,257.3 548.3,255.8 555.0,254.5C561.7,253.2 568.3,251.9 575.0,250.8C581.7,249.6 587.5,248.6 595.0,247.5C602.5,246.4 612.5,245.1 620.0,244.2C627.5,243.4 633.3,243.3 640.0,242.5C646.7,241.7 653.8,240.3 660.0,239.5C666.2,238.7 672.1,238.1 677.5,237.5C682.9,236.9 687.1,236.0 692.5,235.8C697.9,235.5 704.6,235.4 710.0,235.8C715.4,236.1 717.9,236.9 725.0,238.0C732.1,239.1 744.2,240.9 752.5,242.5C760.8,244.1 767.9,246.1 775.0,247.5C782.1,248.9 788.3,249.3 795.0,250.8C801.7,252.2 809.6,254.8 815.0,256.2C820.4,257.7 825.0,259.0 827.5,259.5C830.0,260.0 827.1,258.7 830.0,259.5C832.9,260.3 838.3,262.5 845.0,264.5C851.7,266.5 862.1,269.0 870.0,271.2C877.9,273.5 885.4,276.1 892.5,278.0C899.6,279.9 905.8,281.8 912.5,282.5C919.2,283.2 924.6,283.1 932.5,282.5C940.4,281.9 952.1,279.8 960.0,278.8C967.9,277.7 973.3,277.3 980.0,276.2C986.7,275.2 993.8,274.0 1000.0,272.5C1006.2,271.0 1011.2,268.9 1017.5,267.0C1023.8,265.1 1031.2,262.3 1037.5,261.2C1043.8,260.2 1050.6,260.3 1055.0,260.5C1059.4,260.7 1062.3,262.2 1063.8,262.5" fill="none" stroke="#1e96ff" stroke-width="1.9" stroke-linejoin="round" />
<path d="M3.0,264.2C6.7,264.0 18.0,263.1 25.0,263.0C32.0,262.9 38.3,263.0 45.0,263.8C51.7,264.5 58.8,266.5 65.0,267.5C71.2,268.5 77.3,269.1 82.5,270.0C87.7,270.9 92.1,273.0 96.2,273.0C100.4,273.0 103.1,271.8 107.5,270.0C111.9,268.2 117.7,264.6 122.5,262.0C127.3,259.4 131.7,255.8 136.2,254.2C140.8,252.8 145.2,253.7 150.0,253.0C154.8,252.3 159.2,250.9 165.0,250.0C170.8,249.1 178.3,248.5 185.0,247.5C191.7,246.5 198.3,245.2 205.0,243.8C211.7,242.3 217.5,240.0 225.0,238.8C232.5,237.5 241.7,236.9 250.0,236.2C258.3,235.6 266.9,235.3 275.0,235.0C283.1,234.7 292.5,233.9 298.8,234.2C305.0,234.6 306.9,236.0 312.5,237.0C318.1,238.0 326.2,238.2 332.5,240.0C338.8,241.8 343.8,244.7 350.0,247.5C356.2,250.3 363.3,255.2 370.0,256.8C376.7,258.3 384.6,256.2 390.0,256.8C395.4,257.3 398.8,258.8 402.5,260.0C406.2,261.2 410.4,263.0 412.5,263.8C414.6,264.5 411.7,263.9 415.0,264.2C418.3,264.6 427.1,266.0 432.5,265.8C437.9,265.5 440.8,263.7 447.5,262.5C454.2,261.3 464.2,259.2 472.5,258.8C480.8,258.3 489.2,260.2 497.5,260.0C505.8,259.8 515.4,258.9 522.5,257.5C529.6,256.1 534.6,253.3 540.0,251.8C545.4,250.2 549.2,249.0 555.0,248.0C560.8,247.0 568.3,246.2 575.0,245.5C581.7,244.8 587.5,244.2 595.0,243.8C602.5,243.2 612.5,243.3 620.0,242.5C627.5,241.7 633.3,240.0 640.0,238.8C646.7,237.5 653.8,235.6 660.0,235.0C666.2,234.4 672.1,234.7 677.5,235.0C682.9,235.3 686.2,236.2 692.5,237.0C698.8,237.8 707.9,238.0 715.0,239.5C722.1,241.0 728.8,244.6 735.0,246.2C741.2,247.9 747.1,249.1 752.5,249.5C757.9,249.9 762.1,248.4 767.5,248.8C772.9,249.1 779.6,250.1 785.0,251.8C790.4,253.4 795.0,256.5 800.0,258.8C805.0,261.0 810.4,263.9 815.0,265.0C819.6,266.1 825.0,265.4 827.5,265.5C830.0,265.6 827.1,264.8 830.0,265.5C832.9,266.2 840.0,268.2 845.0,270.0C850.0,271.8 854.2,273.9 860.0,276.2C865.8,278.6 875.0,282.8 880.0,284.2C885.0,285.7 884.6,285.5 890.0,285.0C895.4,284.5 905.8,282.7 912.5,281.2C919.2,279.8 923.8,276.7 930.0,276.2C936.2,275.8 943.3,279.2 950.0,278.8C956.7,278.3 963.3,276.0 970.0,273.8C976.7,271.5 983.3,267.6 990.0,265.0C996.7,262.4 1004.6,259.2 1010.0,258.0C1015.4,256.8 1017.1,257.2 1022.5,258.0C1027.9,258.8 1037.1,261.0 1042.5,262.5C1047.9,264.0 1051.5,265.5 1055.0,267.0C1058.5,268.5 1062.3,270.5 1063.8,271.2" fill="none" stroke="#ff3010" stroke-width="1.9" stroke-linejoin="round" />
<path d="M3.0,347.5 L15.0,340.5 L25.0,340.0 L37.5,343.0 L50.0,342.5 L62.5,346.2 L75.0,348.0 L88.8,348.8 L97.5,345.0 L105.0,336.2 L111.2,321.2 L117.5,311.2 L125.0,306.2 L131.2,303.0 L138.8,304.5 L147.5,308.8 L156.2,312.0 L165.0,310.0 L175.0,306.2 L185.0,307.0 L197.5,310.0 L207.5,307.5 L217.5,305.0 L227.5,304.5 L237.5,307.0 L250.0,309.5 L262.5,307.0 L277.5,305.0 L287.5,307.5 L297.5,309.2 L305.0,308.0 L312.5,315.0 L322.5,326.2 L332.5,335.0 L345.0,347.0 L352.5,350.0 L360.0,347.0 L370.0,347.5 L380.0,347.0 L387.5,340.0 L392.5,336.8 L400.0,342.5 L410.0,348.0 L415.0,349.2 L427.5,341.2 L440.0,337.5 L452.5,322.5 L465.0,315.5 L480.0,313.8 L490.0,326.2 L500.0,333.8 L515.0,328.8 L527.5,326.2 L535.0,312.5 L542.5,305.0 L555.0,303.8 L565.0,305.0 L575.0,306.2 L595.0,306.2 L615.0,308.8 L625.0,307.0 L635.0,303.0 L650.0,304.5 L665.0,304.5 L677.5,307.5 L687.5,313.0 L697.5,313.8 L705.0,318.8 L715.0,325.0 L725.0,341.2 L735.0,348.8 L747.5,344.5 L757.5,336.2 L765.0,330.0 L772.5,326.8 L780.0,328.8 L787.5,342.5 L805.0,341.8 L820.0,340.0 L827.5,339.0 L830.0,337.5 L837.5,342.5 L847.5,348.0 L860.0,350.8 L875.0,351.2 L887.5,346.2 L900.0,337.0 L915.0,334.2 L930.0,324.2 L937.5,323.8 L950.0,336.2 L960.0,335.0 L970.0,325.0 L982.5,310.0 L992.5,307.5 L1010.0,307.0 L1020.0,315.0 L1030.0,323.8 L1037.5,330.0 L1045.0,341.2 L1055.0,350.0 L1063.8,351.8" fill="none" stroke="#ffc020" stroke-width="1.7" stroke-linejoin="round" />
<path d="M3.0,352.0 L15.0,347.5 L30.0,345.0 L42.5,341.8 L57.5,342.0 L70.0,345.5 L82.5,350.5 L92.5,352.5 L100.0,352.0 L110.0,345.0 L120.0,331.2 L130.0,317.5 L140.0,309.2 L147.5,307.0 L170.0,307.0 L185.0,309.5 L197.5,310.5 L212.5,309.5 L220.0,304.5 L225.0,303.2 L265.0,303.2 L272.5,302.0 L280.0,302.0 L287.5,303.2 L300.0,303.2 L312.5,306.2 L325.0,313.0 L335.0,326.2 L345.0,340.0 L352.5,347.0 L362.5,348.8 L372.5,352.0 L382.5,348.8 L392.5,345.0 L405.0,345.5 L412.5,346.0 L415.0,345.5 L427.5,344.2 L438.8,346.2 L447.5,337.5 L460.0,333.0 L470.0,315.5 L481.2,306.8 L497.5,316.2 L515.0,323.8 L521.2,330.8 L527.5,330.8 L540.0,316.2 L550.0,312.0 L562.5,303.8 L570.0,303.2 L577.5,305.0 L605.0,305.0 L615.0,306.2 L630.0,305.0 L660.0,304.5 L670.0,302.0 L680.0,304.5 L695.0,310.0 L705.0,318.8 L715.0,324.5 L725.0,345.0 L737.5,350.0 L750.0,346.2 L765.0,338.8 L775.0,337.5 L782.5,334.2 L790.0,337.5 L805.0,338.8 L815.0,344.5 L825.0,348.0 L830.0,347.5 L845.0,350.0 L877.5,350.0 L890.0,351.2 L905.0,347.5 L915.0,343.8 L930.0,330.0 L942.5,323.8 L950.0,327.5 L960.0,327.5 L965.0,332.5 L972.5,332.0 L985.0,322.5 L995.0,315.0 L1005.0,311.2 L1017.5,304.5 L1027.5,310.0 L1037.5,322.5 L1047.5,337.5 L1055.0,345.0 L1063.8,350.8" fill="none" stroke="#1e96ff" stroke-width="1.7" stroke-linejoin="round" />
<path d="M3.0,336.8 L25.0,336.8 L35.0,338.8 L45.0,338.0 L56.2,335.5 L65.0,340.8 L82.5,337.0 L90.5,343.8 L98.8,335.0 L110.0,331.8 L120.0,324.5 L137.5,321.8 L150.0,323.8 L162.5,318.8 L175.0,319.5 L185.0,311.8 L197.5,315.5 L212.5,316.8 L225.0,318.0 L240.0,315.5 L246.2,309.2 L252.5,310.8 L272.5,309.5 L277.5,308.0 L287.5,313.8 L297.5,312.5 L307.5,320.0 L320.0,325.8 L325.0,324.2 L335.0,327.5 L345.0,332.5 L352.5,334.5 L360.0,331.8 L367.5,336.2 L372.5,336.8 L380.0,332.0 L390.0,335.5 L400.0,337.5 L410.0,338.8 L415.0,339.5 L427.5,335.0 L437.5,333.8 L446.2,326.8 L455.0,328.2 L465.0,325.0 L477.5,330.0 L487.5,330.5 L500.0,323.8 L508.8,321.8 L520.0,326.2 L530.0,319.5 L535.0,320.5 L545.0,323.0 L555.0,317.5 L567.5,320.0 L581.2,308.0 L590.0,311.8 L605.0,313.8 L615.0,310.0 L627.5,311.8 L635.0,309.5 L650.0,310.8 L661.2,308.8 L675.0,313.8 L687.5,314.2 L693.8,312.5 L702.5,317.5 L715.0,318.8 L728.8,331.8 L740.0,330.0 L752.5,335.8 L767.5,328.2 L775.0,330.5 L782.5,330.0 L790.0,335.0 L805.0,335.8 L812.5,336.8 L822.5,331.2 L827.5,331.8 L830.0,332.5 L837.5,336.2 L847.5,335.5 L862.5,342.5 L868.8,340.5 L876.2,343.8 L882.5,342.5 L890.0,337.0 L910.0,335.5 L916.2,341.8 L928.8,331.2 L937.5,335.5 L950.0,335.0 L962.5,327.5 L970.0,320.8 L982.5,321.2 L990.0,323.8 L1005.0,320.8 L1010.0,321.2 L1017.5,327.0 L1025.0,327.0 L1032.5,323.8 L1042.5,325.0 L1050.0,328.8 L1057.5,334.5 L1063.8,337.5" fill="none" stroke="#0a640a" stroke-width="1.9" stroke-linejoin="round" />
<rect x="0" y="5" width="1149" height="1" fill="#000"/>
<rect x="1148" y="5" width="1" height="347.5" fill="#000"/>
<text transform="translate(2.0,17.0) scale(1,1.22)" text-anchor="start" fill="#000" font-size="10.2">11</text>
<text transform="translate(102.0,17.0) scale(1,1.22)" text-anchor="start" fill="#000" font-size="10.2">12</text>
<text transform="translate(243.0,17.0) scale(1,1.22)" text-anchor="start" fill="#000" font-size="10.2">10/1</text>
<text transform="translate(371.0,17.0) scale(1,1.22)" text-anchor="start" fill="#000" font-size="10.2">2</text>
<text transform="translate(499.0,17.0) scale(1,1.22)" text-anchor="start" fill="#000" font-size="10.2">3</text>
<text transform="translate(646.0,17.0) scale(1,1.22)" text-anchor="start" fill="#000" font-size="10.2">4</text>
<text transform="translate(787.0,17.0) scale(1,1.22)" text-anchor="start" fill="#000" font-size="10.2">5</text>
<text transform="translate(908.0,17.0) scale(1,1.22)" text-anchor="start" fill="#000" font-size="10.2">6</text>
<text transform="translate(1056.0,17.0) scale(1,1.22)" text-anchor="start" fill="#000" font-size="10.2">7</text>
<text transform="translate(1145.0,65.7) scale(1,1.22)" text-anchor="end" fill="#000" font-size="10.2">10800</text>
<text transform="translate(1145.0,99.0) scale(1,1.22)" text-anchor="end" fill="#000" font-size="10.2">10200</text>
<text transform="translate(1145.0,132.0) scale(1,1.22)" text-anchor="end" fill="#000" font-size="10.2">9600</text>
<text transform="translate(1145.0,166.0) scale(1,1.22)" text-anchor="end" fill="#000" font-size="10.2">140000</text>
<text transform="translate(1145.0,196.5) scale(1,1.22)" text-anchor="end" fill="#000" font-size="10.2">70000</text>
<text transform="translate(1145.0,226.7) scale(1,1.22)" text-anchor="end" fill="#000" font-size="10.2">0</text>
<text transform="translate(1145.0,236.0) scale(1,1.22)" text-anchor="end" fill="#000" font-size="10.2">200</text>
<text transform="translate(1145.0,245.0) scale(1,1.22)" text-anchor="end" fill="#000" font-size="10.2">100</text>
<text transform="translate(1145.0,253.7) scale(1,1.22)" text-anchor="end" fill="#000" font-size="10.2">0</text>
<text transform="translate(1145.0,262.5) scale(1,1.22)" text-anchor="end" fill="#000" font-size="10.2">-100</text>
<text transform="translate(1145.0,271.5) scale(1,1.22)" text-anchor="end" fill="#000" font-size="10.2">-200</text>
<text transform="translate(1145.0,280.0) scale(1,1.22)" text-anchor="end" fill="#000" font-size="10.2">-300</text>
<text transform="translate(1145.0,299.5) scale(1,1.22)" text-anchor="end" fill="#000" font-size="10.2">100</text>
<text transform="translate(1145.0,312.5) scale(1,1.22)" text-anchor="end" fill="#000" font-size="10.2">75</text>
<text transform="translate(1145.0,325.7) scale(1,1.22)" text-anchor="end" fill="#000" font-size="10.2">50</text>
<text transform="translate(1145.0,338.7) scale(1,1.22)" text-anchor="end" fill="#000" font-size="10.2">25</text>
<text transform="translate(1145.0,351.7) scale(1,1.22)" text-anchor="end" fill="#000" font-size="10.2">0</text>
<line x1="1075.0" y1="66.5" x2="1149.0" y2="66.5" stroke="#c0c0c0" stroke-width="1" shape-rendering="crispEdges"/>
<line x1="1075.0" y1="99.5" x2="1149.0" y2="99.5" stroke="#c0c0c0" stroke-width="1" shape-rendering="crispEdges"/>
<line x1="1075.0" y1="132.5" x2="1149.0" y2="132.5" stroke="#c0c0c0" stroke-width="1" shape-rendering="crispEdges"/>
<line x1="1075.0" y1="166.5" x2="1149.0" y2="166.5" stroke="#c0c0c0" stroke-width="1" shape-rendering="crispEdges"/>
<line x1="1075.0" y1="197.5" x2="1149.0" y2="197.5" stroke="#c0c0c0" stroke-width="1" shape-rendering="crispEdges"/>
<line x1="1075.0" y1="227.5" x2="1149.0" y2="227.5" stroke="#c0c0c0" stroke-width="1" shape-rendering="crispEdges"/>
<line x1="1075.0" y1="236.5" x2="1149.0" y2="236.5" stroke="#c0c0c0" stroke-width="1" shape-rendering="crispEdges"/>
<line x1="1075.0" y1="245.5" x2="1149.0" y2="245.5" stroke="#c0c0c0" stroke-width="1" shape-rendering="crispEdges"/>
<line x1="1075.0" y1="263.5" x2="1149.0" y2="263.5" stroke="#c0c0c0" stroke-width="1" shape-rendering="crispEdges"/>
<line x1="1075.0" y1="272.5" x2="1149.0" y2="272.5" stroke="#c0c0c0" stroke-width="1" shape-rendering="crispEdges"/>
<line x1="1075.0" y1="280.5" x2="1149.0" y2="280.5" stroke="#c0c0c0" stroke-width="1" shape-rendering="crispEdges"/>
<line x1="1075.0" y1="300.5" x2="1149.0" y2="300.5" stroke="#c0c0c0" stroke-width="1" shape-rendering="crispEdges"/>
<line x1="1075.0" y1="313.5" x2="1149.0" y2="313.5" stroke="#c0c0c0" stroke-width="1" shape-rendering="crispEdges"/>
<line x1="1075.0" y1="326.5" x2="1149.0" y2="326.5" stroke="#c0c0c0" stroke-width="1" shape-rendering="crispEdges"/>
<line x1="1075.0" y1="339.5" x2="1149.0" y2="339.5" stroke="#c0c0c0" stroke-width="1" shape-rendering="crispEdges"/>
<line x1="1075.0" y1="352.5" x2="1149.0" y2="352.5" stroke="#c0c0c0" stroke-width="1" shape-rendering="crispEdges"/>
<line x1="1075.0" y1="254.5" x2="1149.0" y2="254.5" stroke="#a0a000" stroke-width="1" shape-rendering="crispEdges"/>
<text transform="translate(729.0,349.0) scale(1,1.22)" text-anchor="start" fill="#b4b4ea" font-size="10.2">5625</text>
</g>
<g id="p2">
<path d="M7.5,425.5 L8.5,425.3 L9.5,425.2 L10.5,425.0 L11.5,424.9 L12.5,424.7 L13.5,424.6 L14.5,424.4 L15.5,424.3 L16.5,424.1 L17.5,423.9 L18.5,423.8 L19.5,423.6 L20.5,423.5 L21.5,423.3 L22.5,423.2 L23.5,423.0 L24.5,422.9 L25.5,422.7 L26.5,422.5 L27.5,422.4 L28.5,422.2 L29.5,422.1 L30.5,422.0 L31.5,422.0 L32.5,422.1 L33.5,422.1 L34.5,422.1 L35.5,422.1 L36.5,422.2 L37.5,422.2 L38.5,422.2 L39.5,422.2 L40.5,422.3 L41.5,422.3 L42.5,422.3 L43.5,422.3 L44.5,422.4 L45.5,422.4 L46.5,422.4 L47.5,422.4 L48.5,422.5 L49.5,422.5 L50.5,422.5 L51.5,422.5 L52.5,422.5 L53.5,422.4 L54.5,422.4 L55.5,422.4 L56.5,422.4 L57.5,422.4 L58.5,422.4 L59.5,422.4 L60.5,422.3 L61.5,422.3 L62.5,422.3 L63.5,422.3 L64.5,422.3 L65.5,422.3 L66.5,422.2 L67.5,422.2 L68.5,422.2 L69.5,422.2 L70.5,422.2 L71.5,422.2 L72.5,422.2 L73.5,422.1 L74.5,422.1 L75.5,422.1 L76.5,422.1 L77.5,422.1 L78.5,422.1 L79.5,422.0 L80.5,422.0 L81.5,422.0 L82.5,422.0 L83.5,421.6 L84.5,421.3 L85.5,420.9 L86.5,420.6 L87.5,420.2 L88.5,419.8 L89.5,419.5 L90.5,419.1 L91.5,418.8 L92.5,418.4 L93.5,418.0 L94.5,417.7 L95.5,417.5 L96.5,417.4 L97.5,417.3 L98.5,417.2 L99.5,417.1 L100.5,417.0 L101.5,416.9 L102.5,416.8 L103.5,416.7 L104.5,416.7 L105.5,416.6 L106.5,416.5 L107.5,416.4 L108.5,416.3 L109.5,416.2 L110.5,416.1 L111.5,416.0 L112.5,415.9 L113.5,415.9 L114.5,415.8 L115.5,415.7 L116.5,415.6 L117.5,415.5 L118.5,415.2 L119.5,414.8 L120.5,414.5 L121.5,414.1 L122.5,413.8 L123.5,413.5 L124.5,413.1 L125.5,412.8 L126.5,412.4 L127.5,412.1 L128.5,411.8 L129.5,411.4 L130.5,411.1 L131.5,410.8 L132.5,410.5 L133.5,410.2 L134.5,409.9 L135.5,409.6 L136.5,409.3 L137.5,409.0 L138.5,408.7 L139.5,408.4 L140.5,408.1 L141.5,407.8 L142.5,407.5 L143.5,407.5 L144.5,407.4 L145.5,407.4 L146.5,407.3 L147.5,407.3 L148.5,407.3 L149.5,407.2 L150.5,407.2 L151.5,407.1 L152.5,407.1 L153.5,407.1 L154.5,407.0 L155.5,407.0 L156.5,407.0 L157.5,407.1 L158.5,407.1 L159.5,407.1 L160.5,407.1 L161.5,407.2 L162.5,407.2 L163.5,407.2 L164.5,407.2 L165.5,407.3 L166.5,407.3 L167.5,407.3 L168.5,407.3 L169.5,407.4 L170.5,407.4 L171.5,407.4 L172.5,407.4 L173.5,407.5 L174.5,407.5 L175.5,407.5 L176.5,407.4 L177.5,407.3 L178.5,407.2 L179.5,407.2 L180.5,407.1 L181.5,407.0 L182.5,407.0 L183.5,406.9 L184.5,406.8 L185.5,406.8 L186.5,406.7 L187.5,406.6 L188.5,406.5 L189.5,406.5 L190.5,406.4 L191.5,406.3 L192.5,406.2 L193.5,406.4 L194.5,406.6 L195.5,406.8 L196.5,406.9 L197.5,407.1 L198.5,407.2 L199.5,407.4 L200.5,407.6 L201.5,407.8 L202.5,407.9 L203.5,408.1 L204.5,408.2 L205.5,408.4 L206.5,408.6 L207.5,408.8 L208.5,408.6 L209.5,408.6 L210.5,408.4 L211.5,408.4 L212.5,408.2 L213.5,408.1 L214.5,408.1 L215.5,407.9 L216.5,407.9 L217.5,407.8 L218.5,407.6 L219.5,407.6 L220.5,407.4 L221.5,407.1 L222.5,406.8 L223.5,406.4 L224.5,406.1 L225.5,405.9 L226.5,405.6 L227.5,405.2 L228.5,404.9 L229.5,404.6 L230.5,404.4 L231.5,404.1 L232.5,403.8 L233.5,403.4 L234.5,403.1 L235.5,403.0 L236.5,402.9 L237.5,402.8 L238.5,402.7 L239.5,402.6 L240.5,402.5 L241.5,402.4 L242.5,402.3 L243.5,402.3 L244.5,402.2 L245.5,402.1 L246.5,402.0 L247.5,401.9 L248.5,401.8 L249.5,401.7 L250.5,401.6 L251.5,401.6 L252.5,401.5 L253.5,401.4 L254.5,401.3 L255.5,401.2 L256.5,401.2 L257.5,401.2 L258.5,401.2 L259.5,401.2 L260.5,401.2 L261.5,401.2 L262.5,401.2 L263.5,401.2 L264.5,401.2 L265.5,401.2 L266.5,401.2 L267.5,401.2 L268.5,401.2 L269.5,401.2 L270.5,401.2 L271.5,401.2 L272.5,401.2 L273.5,401.2 L274.5,401.2 L275.5,401.3 L276.5,401.5 L277.5,401.6 L278.5,401.8 L279.5,401.9 L280.5,402.1 L281.5,402.2 L282.5,402.4 L283.5,402.6 L284.5,402.7 L285.5,402.9 L286.5,403.0 L287.5,403.2 L288.5,403.3 L289.5,403.5 L290.5,403.6 L291.5,404.1 L292.5,405.4 L293.5,406.8 L294.5,408.1 L295.5,409.5 L296.5,410.5 L297.5,410.6 L298.5,410.7 L299.5,410.7 L300.5,410.8 L301.5,410.9 L302.5,411.0 L303.5,411.1 L304.5,411.1 L305.5,411.2 L306.5,411.3 L306.5,411.2 L305.5,411.2 L304.5,411.2 L303.5,411.2 L302.5,411.2 L301.5,411.2 L300.5,411.2 L299.5,411.2 L298.5,411.2 L297.5,411.2 L296.5,411.2 L295.5,411.2 L294.5,411.3 L293.5,411.4 L292.5,411.6 L291.5,411.7 L290.5,411.8 L289.5,411.9 L288.5,412.1 L287.5,412.2 L286.5,412.3 L285.5,412.4 L284.5,412.6 L283.5,412.7 L282.5,412.8 L281.5,412.9 L280.5,413.1 L279.5,413.2 L278.5,413.3 L277.5,413.4 L276.5,413.6 L275.5,413.7 L274.5,413.9 L273.5,414.2 L272.5,414.5 L271.5,414.8 L270.5,415.1 L269.5,415.4 L268.5,415.7 L267.5,416.0 L266.5,416.3 L265.5,416.6 L264.5,416.8 L263.5,416.8 L262.5,416.8 L261.5,416.8 L260.5,416.8 L259.5,416.8 L258.5,416.8 L257.5,416.8 L256.5,416.8 L255.5,416.8 L254.5,416.8 L253.5,416.8 L252.5,416.8 L251.5,416.8 L250.5,416.8 L249.5,416.8 L248.5,416.8 L247.5,416.8 L246.5,416.8 L245.5,416.8 L244.5,416.8 L243.5,416.8 L242.5,416.8 L241.5,416.8 L240.5,416.8 L239.5,416.8 L238.5,416.8 L237.5,416.8 L236.5,416.8 L235.5,416.8 L234.5,416.8 L233.5,416.8 L232.5,416.8 L231.5,416.8 L230.5,416.8 L229.5,416.8 L228.5,416.8 L227.5,416.8 L226.5,416.8 L225.5,416.8 L224.5,416.8 L223.5,416.8 L222.5,416.8 L221.5,416.8 L220.5,416.9 L219.5,416.9 L218.5,416.9 L217.5,416.9 L216.5,416.9 L215.5,416.9 L214.5,416.9 L213.5,416.9 L212.5,416.9 L211.5,416.9 L210.5,416.9 L209.5,416.9 L208.5,416.9 L207.5,416.9 L206.5,416.9 L205.5,416.9 L204.5,416.9 L203.5,416.9 L202.5,416.9 L201.5,416.9 L200.5,416.9 L199.5,416.9 L198.5,416.9 L197.5,416.9 L196.5,416.9 L195.5,416.9 L194.5,416.9 L193.5,416.9 L192.5,416.9 L191.5,416.9 L190.5,416.9 L189.5,416.9 L188.5,416.9 L187.5,416.9 L186.5,416.9 L185.5,416.9 L184.5,416.9 L183.5,416.9 L182.5,416.9 L181.5,416.9 L180.5,416.9 L179.5,416.9 L178.5,416.9 L177.5,416.9 L176.5,417.0 L175.5,417.0 L174.5,417.0 L173.5,417.0 L172.5,417.0 L171.5,417.0 L170.5,417.0 L169.5,417.0 L168.5,417.0 L167.5,417.0 L166.5,417.0 L165.5,417.0 L164.5,417.0 L163.5,417.0 L162.5,417.0 L161.5,417.0 L160.5,417.0 L159.5,417.0 L158.5,417.0 L157.5,417.0 L156.5,417.0 L155.5,417.0 L154.5,417.1 L153.5,417.4 L152.5,417.7 L151.5,418.0 L150.5,418.3 L149.5,418.6 L148.5,418.8 L147.5,419.1 L146.5,419.4 L145.5,419.7 L144.5,420.0 L143.5,420.3 L142.5,420.5 L141.5,420.8 L140.5,421.1 L139.5,421.3 L138.5,421.4 L137.5,421.5 L136.5,421.6 L135.5,421.6 L134.5,421.7 L133.5,421.8 L132.5,421.9 L131.5,422.0 L130.5,422.1 L129.5,422.2 L128.5,422.3 L127.5,422.3 L126.5,422.4 L125.5,422.5 L124.5,422.6 L123.5,422.7 L122.5,422.8 L121.5,422.9 L120.5,423.0 L119.5,423.0 L118.5,423.0 L117.5,423.0 L116.5,423.0 L115.5,423.0 L114.5,423.0 L113.5,423.0 L112.5,423.0 L111.5,423.0 L110.5,423.0 L109.5,423.0 L108.5,423.0 L107.5,423.0 L106.5,423.0 L105.5,423.0 L104.5,423.0 L103.5,423.0 L102.5,423.0 L101.5,423.0 L100.5,423.0 L99.5,423.0 L98.5,423.0 L97.5,423.0 L96.5,423.0 L95.5,423.0 L94.5,423.0 L93.5,423.0 L92.5,423.0 L91.5,423.0 L90.5,423.0 L89.5,423.0 L88.5,423.0 L87.5,423.0 L86.5,423.0 L85.5,423.0 L84.5,423.0 L83.5,423.0 L82.5,423.0 L81.5,423.0 L80.5,423.1 L79.5,423.1 L78.5,423.1 L77.5,423.1 L76.5,423.1 L75.5,423.2 L74.5,423.2 L73.5,423.2 L72.5,423.2 L71.5,423.3 L70.5,423.3 L69.5,423.3 L68.5,423.4 L67.5,423.4 L66.5,423.4 L65.5,423.4 L64.5,423.4 L63.5,423.5 L62.5,423.5 L61.5,423.5 L60.5,423.6 L59.5,423.6 L58.5,423.6 L57.5,423.6 L56.5,423.6 L55.5,423.7 L54.5,423.7 L53.5,423.7 L52.5,423.8 L51.5,424.1 L50.5,424.5 L49.5,424.9 L48.5,425.2 L47.5,425.6 L46.5,425.9 L45.5,426.3 L44.5,426.7 L43.5,427.1 L42.5,427.4 L41.5,427.8 L40.5,428.1 L39.5,428.5 L38.5,428.9 L37.5,429.2 L36.5,429.3 L35.5,429.3 L34.5,429.3 L33.5,429.3 L32.5,429.3 L31.5,429.3 L30.5,429.3 L29.5,429.3 L28.5,429.3 L27.5,429.3 L26.5,429.3 L25.5,429.4 L24.5,429.4 L23.5,429.4 L22.5,429.4 L21.5,429.4 L20.5,429.4 L19.5,429.4 L18.5,429.4 L17.5,429.4 L16.5,429.4 L15.5,429.4 L14.5,429.4 L13.5,429.4 L12.5,429.5 L11.5,429.5 L10.5,429.5 L9.5,429.5 L8.5,429.5 L7.5,429.5Z" fill="#c0c0c0" stroke="none"/>
<path d="M306.5,411.3 L307.5,411.4 L308.5,411.4 L309.5,411.5 L310.5,411.6 L311.5,411.7 L312.5,411.7 L313.5,411.8 L314.5,411.9 L315.5,412.0 L316.5,412.0 L317.5,412.1 L318.5,412.2 L319.5,412.3 L320.5,412.3 L321.5,412.4 L322.5,412.5 L323.5,412.7 L324.5,412.9 L325.5,413.1 L326.5,413.3 L327.5,413.5 L328.5,413.7 L329.5,413.9 L330.5,414.1 L331.5,414.3 L332.5,414.5 L333.5,414.4 L334.5,414.3 L335.5,414.2 L336.5,414.2 L337.5,414.1 L338.5,414.0 L339.5,413.9 L340.5,413.8 L341.5,413.7 L342.5,413.6 L343.5,413.6 L344.5,413.5 L345.5,413.4 L346.5,413.3 L347.5,413.2 L348.5,413.1 L349.5,413.0 L350.5,413.0 L351.5,413.0 L352.5,413.0 L353.5,413.0 L354.5,413.0 L355.5,413.0 L356.5,413.0 L357.5,413.0 L358.5,413.0 L359.5,413.0 L360.5,413.0 L361.5,413.0 L362.5,413.0 L363.5,413.0 L364.5,413.0 L365.5,413.1 L366.5,413.3 L367.5,413.5 L368.5,413.7 L369.5,413.9 L370.5,414.1 L371.5,414.3 L372.5,414.5 L373.5,414.7 L374.5,414.9 L375.5,415.0 L376.5,415.1 L377.5,415.2 L378.5,415.3 L379.5,415.4 L380.5,415.5 L381.5,415.5 L382.5,415.6 L383.5,415.7 L384.5,415.8 L385.5,415.9 L386.5,416.0 L387.5,416.0 L388.5,416.1 L389.5,416.2 L390.5,416.3 L391.5,416.5 L392.5,416.7 L393.5,416.8 L394.5,417.0 L395.5,417.2 L396.5,417.3 L397.5,417.5 L398.5,417.7 L399.5,417.8 L400.5,418.0 L401.5,418.2 L402.5,418.3 L403.5,418.5 L404.5,418.7 L405.5,418.8 L406.5,419.0 L407.5,419.2 L408.5,419.3 L409.5,419.5 L410.5,419.7 L411.5,419.8 L412.5,420.0 L413.5,420.5 L414.5,421.0 L415.5,421.5 L416.5,422.0 L417.5,422.5 L418.5,423.0 L419.5,423.5 L420.5,424.0 L421.5,424.5 L422.5,425.0 L423.5,425.5 L424.5,426.0 L425.5,426.8 L426.5,427.8 L427.5,428.8 L428.5,429.8 L429.5,430.8 L430.5,431.8 L431.5,432.8 L432.5,433.8 L433.5,434.8 L434.5,435.8 L435.5,436.3 L436.5,436.3 L437.5,436.4 L438.5,436.4 L439.5,436.5 L440.5,436.6 L441.5,436.6 L442.5,436.7 L443.5,436.7 L444.5,436.8 L445.5,436.8 L446.5,436.9 L447.5,436.9 L448.5,437.0 L449.5,437.1 L450.5,437.1 L451.5,437.2 L452.5,437.2 L453.5,437.3 L454.5,437.3 L455.5,437.4 L456.5,437.4 L457.5,437.5 L458.5,437.7 L459.5,437.9 L460.5,438.1 L461.5,438.4 L462.5,438.6 L463.5,438.8 L464.5,439.0 L465.5,439.2 L466.5,439.4 L467.5,439.7 L468.5,439.9 L469.5,440.1 L470.5,440.3 L471.5,440.5 L472.5,440.8 L473.5,441.3 L474.5,441.9 L475.5,442.4 L476.5,442.9 L477.5,443.5 L478.5,444.1 L479.5,444.6 L480.5,445.1 L481.5,445.7 L482.5,446.2 L483.5,446.3 L484.5,446.4 L485.5,446.5 L486.5,446.5 L487.5,446.6 L488.5,446.7 L489.5,446.8 L490.5,446.8 L491.5,446.9 L492.5,447.0 L493.5,447.0 L494.5,447.1 L495.5,447.2 L496.5,447.2 L497.5,447.3 L498.5,447.4 L499.5,447.5 L500.5,447.6 L501.5,447.8 L502.5,448.0 L503.5,448.2 L504.5,448.4 L505.5,448.6 L506.5,448.8 L507.5,449.0 L508.5,449.2 L509.5,449.4 L510.5,449.6 L511.5,449.8 L512.5,450.0 L513.5,450.2 L514.5,450.4 L515.5,450.5 L516.5,450.6 L517.5,450.7 L518.5,450.8 L519.5,450.8 L520.5,450.9 L521.5,451.0 L522.5,451.1 L523.5,451.1 L524.5,451.2 L525.5,451.1 L526.5,450.9 L527.5,450.7 L528.5,450.5 L529.5,450.3 L530.5,450.1 L531.5,449.8 L532.5,449.6 L533.5,449.4 L534.5,449.2 L535.5,449.0 L536.5,448.8 L537.5,448.5 L538.5,448.3 L539.5,448.1 L540.5,447.9 L541.5,447.8 L542.5,447.6 L543.5,447.5 L544.5,447.3 L545.5,447.2 L546.5,447.0 L547.5,446.9 L548.5,446.7 L549.5,446.6 L550.5,446.4 L551.5,446.3 L552.5,446.1 L553.5,446.0 L554.5,445.8 L555.5,445.7 L556.5,445.5 L557.5,445.4 L558.5,445.2 L559.5,445.1 L560.5,445.2 L561.5,445.5 L562.5,445.9 L563.5,446.3 L564.5,446.6 L565.5,447.0 L566.5,447.3 L567.5,447.7 L568.5,448.1 L569.5,448.4 L570.5,448.8 L571.5,449.1 L572.5,449.5 L573.5,449.6 L574.5,449.7 L575.5,449.8 L576.5,449.9 L577.5,450.0 L578.5,450.1 L579.5,450.2 L580.5,450.3 L581.5,450.4 L582.5,450.5 L583.5,450.6 L584.5,450.7 L585.5,450.8 L586.5,450.9 L587.5,451.0 L588.5,451.1 L589.5,451.2 L590.5,451.3 L591.5,451.3 L592.5,451.3 L593.5,451.3 L594.5,451.4 L595.5,451.4 L596.5,451.4 L597.5,451.4 L598.5,451.5 L599.5,451.5 L600.5,451.5 L601.5,451.5 L602.5,451.6 L603.5,451.6 L604.5,451.6 L605.5,451.6 L606.5,451.7 L607.5,451.7 L608.5,451.7 L609.5,451.7 L610.5,451.9 L611.5,452.1 L612.5,452.4 L613.5,452.7 L614.5,452.9 L615.5,453.2 L616.5,453.4 L617.5,453.7 L618.5,454.0 L619.5,454.2 L620.5,454.5 L621.5,454.7 L622.5,455.0 L623.5,455.2 L624.5,455.5 L625.5,455.7 L626.5,456.0 L627.5,456.2 L628.5,456.4 L629.5,456.7 L630.5,456.9 L631.5,457.2 L632.5,457.4 L633.5,457.6 L634.5,457.9 L635.5,458.1 L636.5,458.3 L637.5,458.5 L638.5,458.6 L639.5,458.8 L640.5,459.0 L641.5,459.2 L642.5,459.4 L643.5,459.5 L644.5,459.7 L645.5,459.9 L646.5,460.1 L647.5,460.3 L648.5,460.5 L649.5,462.4 L650.5,464.9 L651.5,467.5 L652.5,470.0 L653.5,472.3 L654.5,474.7 L655.5,477.0 L656.5,478.8 L657.5,479.0 L658.5,479.2 L659.5,479.5 L660.5,479.7 L661.5,479.9 L662.5,480.1 L663.5,480.4 L664.5,480.6 L665.5,480.8 L666.5,481.0 L667.5,481.2 L668.5,481.9 L669.5,482.5 L670.5,483.1 L671.5,483.8 L672.5,484.4 L673.5,485.0 L674.5,485.6 L675.5,486.2 L676.5,486.9 L677.5,487.5 L678.5,487.7 L679.5,487.8 L680.5,488.0 L681.5,488.1 L682.5,488.3 L683.5,488.5 L684.5,488.6 L685.5,488.8 L686.5,488.9 L687.5,489.1 L688.5,489.3 L689.5,489.4 L690.5,489.6 L691.5,489.8 L692.5,490.0 L693.5,490.2 L694.5,490.4 L695.5,490.6 L696.5,490.8 L697.5,491.0 L698.5,491.2 L699.5,491.4 L700.5,491.6 L701.5,491.8 L702.5,492.0 L703.5,492.6 L704.5,493.1 L705.5,493.7 L706.5,494.3 L707.5,494.8 L708.5,495.4 L709.5,496.0 L710.5,496.3 L711.5,496.5 L712.5,496.6 L713.5,496.7 L714.5,496.9 L715.5,497.0 L716.5,497.2 L717.5,497.3 L718.5,497.4 L719.5,497.6 L720.5,497.7 L721.5,497.9 L722.5,498.0 L723.5,497.9 L724.5,497.7 L725.5,497.6 L726.5,497.4 L727.5,497.3 L728.5,497.2 L729.5,497.0 L730.5,496.9 L731.5,496.7 L732.5,496.6 L733.5,496.5 L734.5,496.3 L735.5,496.3 L736.5,496.4 L737.5,496.5 L738.5,496.5 L739.5,496.6 L740.5,496.7 L741.5,496.8 L742.5,496.9 L743.5,497.0 L744.5,497.0 L745.5,497.1 L746.5,497.2 L747.5,497.3 L748.5,497.4 L749.5,497.5 L750.5,497.6 L751.5,497.8 L752.5,497.9 L753.5,498.1 L754.5,498.2 L755.5,498.4 L756.5,498.6 L757.5,498.8 L758.5,498.9 L759.5,499.1 L760.5,499.2 L761.5,499.4 L762.5,499.6 L763.5,499.8 L764.5,499.9 L765.5,500.1 L766.5,500.2 L767.5,500.4 L768.5,500.5 L769.5,500.6 L770.5,500.8 L771.5,500.9 L772.5,501.1 L773.5,501.2 L774.5,501.4 L775.5,501.5 L776.5,501.6 L777.5,501.8 L778.5,501.9 L779.5,502.1 L780.5,502.2 L781.5,502.4 L782.5,502.5 L783.5,503.0 L784.5,503.5 L785.5,504.0 L786.5,504.5 L787.5,505.0 L788.5,505.5 L789.5,506.0 L790.5,506.3 L791.5,506.3 L792.5,506.4 L793.5,506.4 L794.5,506.5 L795.5,506.5 L796.5,506.6 L797.5,506.6 L798.5,506.7 L799.5,506.7 L800.5,506.8 L801.5,506.8 L802.5,506.9 L803.5,506.9 L804.5,507.0 L805.5,507.2 L806.5,507.6 L807.5,508.1 L808.5,508.5 L809.5,508.9 L810.5,509.3 L811.5,509.8 L812.5,510.2 L813.5,510.6 L814.5,511.0 L815.5,511.3 L816.5,511.4 L817.5,511.5 L818.5,511.6 L819.5,511.7 L820.5,511.8 L821.5,511.9 L822.5,512.0 L823.5,512.1 L824.5,512.2 L825.5,512.3 L826.5,512.4 L827.5,512.5 L828.5,512.5 L829.5,512.5 L830.5,512.4 L831.5,512.1 L832.5,511.9 L833.5,511.6 L834.5,511.4 L835.5,511.1 L836.5,510.9 L837.5,510.6 L838.5,510.4 L839.5,510.1 L840.5,509.9 L841.5,509.6 L842.5,509.4 L843.5,509.1 L844.5,508.9 L845.5,508.6 L846.5,508.4 L847.5,508.1 L848.5,507.9 L849.5,507.7 L850.5,507.4 L851.5,507.2 L852.5,506.9 L853.5,506.7 L854.5,506.4 L855.5,506.2 L856.5,506.0 L857.5,505.7 L858.5,505.5 L859.5,505.2 L860.5,505.0 L861.5,504.7 L862.5,504.5 L863.5,504.4 L864.5,504.2 L865.5,504.1 L866.5,504.0 L867.5,503.9 L868.5,503.7 L869.5,503.6 L870.5,503.5 L871.5,503.3 L872.5,503.2 L873.5,503.1 L874.5,502.9 L875.5,502.8 L876.5,502.7 L877.5,502.6 L878.5,502.4 L879.5,502.3 L880.5,502.2 L881.5,502.0 L882.5,501.9 L883.5,501.8 L884.5,501.6 L885.5,501.5 L886.5,501.4 L887.5,501.2 L888.5,501.2 L889.5,501.1 L890.5,501.0 L891.5,500.9 L892.5,500.8 L893.5,500.8 L894.5,500.7 L895.5,500.6 L896.5,500.5 L897.5,500.4 L898.5,500.3 L899.5,500.2 L900.5,500.2 L901.5,500.1 L902.5,500.0 L903.5,499.9 L904.5,499.8 L905.5,499.8 L906.5,499.7 L907.5,499.6 L908.5,499.5 L909.5,499.4 L910.5,499.3 L911.5,499.2 L912.5,499.2 L913.5,499.1 L914.5,499.0 L915.5,498.9 L916.5,498.8 L917.5,498.8 L918.5,498.6 L919.5,498.5 L920.5,498.4 L921.5,498.3 L922.5,498.2 L923.5,498.1 L924.5,498.0 L925.5,497.9 L926.5,497.8 L927.5,497.6 L928.5,497.5 L929.5,497.4 L930.5,497.3 L931.5,497.2 L932.5,497.1 L933.5,497.0 L934.5,496.9 L935.5,496.8 L936.5,496.6 L937.5,496.5 L938.5,496.4 L939.5,496.3 L940.5,496.1 L941.5,495.9 L942.5,495.7 L943.5,495.5 L944.5,495.2 L945.5,495.0 L946.5,494.8 L947.5,494.6 L947.5,494.6 L946.5,494.4 L945.5,494.1 L944.5,493.9 L943.5,493.7 L942.5,493.5 L941.5,493.4 L940.5,493.2 L939.5,493.0 L938.5,492.8 L937.5,492.6 L936.5,492.4 L935.5,492.3 L934.5,492.1 L933.5,491.9 L932.5,491.7 L931.5,491.5 L930.5,491.3 L929.5,491.2 L928.5,491.2 L927.5,491.2 L926.5,491.1 L925.5,491.1 L924.5,491.1 L923.5,491.1 L922.5,491.0 L921.5,491.0 L920.5,491.0 L919.5,490.9 L918.5,490.9 L917.5,490.9 L916.5,490.8 L915.5,490.8 L914.5,490.8 L913.5,490.8 L912.5,490.7 L911.5,490.7 L910.5,490.7 L909.5,490.6 L908.5,490.6 L907.5,490.6 L906.5,490.5 L905.5,490.5 L904.5,490.5 L903.5,490.4 L902.5,490.4 L901.5,490.3 L900.5,490.2 L899.5,490.2 L898.5,490.1 L897.5,490.1 L896.5,490.0 L895.5,490.0 L894.5,489.9 L893.5,489.8 L892.5,489.8 L891.5,489.7 L890.5,489.7 L889.5,489.6 L888.5,489.6 L887.5,489.5 L886.5,489.2 L885.5,489.0 L884.5,488.7 L883.5,488.4 L882.5,488.2 L881.5,487.9 L880.5,487.6 L879.5,487.4 L878.5,487.1 L877.5,486.8 L876.5,486.6 L875.5,486.3 L874.5,486.0 L873.5,485.8 L872.5,485.5 L871.5,485.1 L870.5,484.8 L869.5,484.4 L868.5,484.0 L867.5,483.6 L866.5,483.2 L865.5,482.9 L864.5,482.5 L863.5,482.1 L862.5,481.8 L861.5,481.7 L860.5,481.7 L859.5,481.7 L858.5,481.7 L857.5,481.7 L856.5,481.7 L855.5,481.6 L854.5,481.6 L853.5,481.6 L852.5,481.6 L851.5,481.6 L850.5,481.6 L849.5,481.6 L848.5,481.5 L847.5,481.5 L846.5,481.5 L845.5,481.5 L844.5,481.5 L843.5,481.5 L842.5,481.4 L841.5,481.4 L840.5,481.4 L839.5,481.4 L838.5,481.4 L837.5,481.4 L836.5,481.4 L835.5,481.3 L834.5,481.3 L833.5,481.3 L832.5,481.3 L831.5,481.3 L830.5,481.3 L829.5,481.2 L828.5,481.2 L827.5,481.2 L826.5,481.2 L825.5,481.2 L824.5,481.2 L823.5,481.2 L822.5,481.2 L821.5,481.2 L820.5,481.2 L819.5,481.2 L818.5,481.2 L817.5,481.2 L816.5,481.2 L815.5,481.2 L814.5,481.2 L813.5,481.2 L812.5,481.2 L811.5,481.2 L810.5,481.2 L809.5,481.2 L808.5,481.2 L807.5,481.2 L806.5,481.2 L805.5,481.2 L804.5,481.2 L803.5,481.2 L802.5,481.2 L801.5,481.2 L800.5,481.2 L799.5,481.2 L798.5,481.2 L797.5,481.2 L796.5,481.2 L795.5,481.2 L794.5,481.2 L793.5,481.2 L792.5,481.2 L791.5,481.2 L790.5,481.2 L789.5,481.2 L788.5,481.2 L787.5,481.2 L786.5,481.2 L785.5,481.2 L784.5,481.2 L783.5,481.2 L782.5,481.2 L781.5,481.2 L780.5,481.2 L779.5,481.2 L778.5,481.2 L777.5,481.2 L776.5,481.2 L775.5,481.2 L774.5,481.2 L773.5,481.2 L772.5,481.2 L771.5,481.2 L770.5,481.2 L769.5,481.2 L768.5,481.2 L767.5,481.2 L766.5,481.2 L765.5,481.2 L764.5,481.2 L763.5,481.2 L762.5,481.2 L761.5,481.2 L760.5,481.2 L759.5,481.2 L758.5,481.2 L757.5,481.2 L756.5,481.2 L755.5,481.2 L754.5,481.2 L753.5,481.2 L752.5,481.2 L751.5,481.2 L750.5,481.2 L749.5,481.2 L748.5,481.2 L747.5,481.2 L746.5,481.2 L745.5,481.2 L744.5,481.2 L743.5,481.2 L742.5,481.2 L741.5,481.2 L740.5,481.2 L739.5,481.2 L738.5,481.1 L737.5,481.0 L736.5,480.8 L735.5,480.7 L734.5,480.6 L733.5,480.5 L732.5,480.4 L731.5,480.3 L730.5,480.1 L729.5,480.0 L728.5,479.9 L727.5,479.8 L726.5,479.7 L725.5,479.6 L724.5,479.2 L723.5,478.6 L722.5,478.1 L721.5,477.5 L720.5,476.9 L719.5,476.3 L718.5,475.8 L717.5,475.2 L716.5,474.6 L715.5,474.0 L714.5,473.7 L713.5,473.5 L712.5,473.3 L711.5,473.1 L710.5,473.0 L709.5,472.8 L708.5,472.6 L707.5,472.4 L706.5,472.3 L705.5,472.1 L704.5,472.0 L703.5,472.0 L702.5,471.9 L701.5,471.9 L700.5,471.9 L699.5,471.9 L698.5,471.8 L697.5,471.8 L696.5,471.8 L695.5,471.7 L694.5,471.7 L693.5,471.7 L692.5,471.7 L691.5,471.6 L690.5,471.6 L689.5,471.6 L688.5,471.6 L687.5,471.5 L686.5,471.5 L685.5,471.5 L684.5,471.4 L683.5,471.4 L682.5,471.4 L681.5,471.4 L680.5,471.3 L679.5,471.3 L678.5,471.3 L677.5,471.2 L676.5,470.5 L675.5,469.8 L674.5,469.0 L673.5,468.2 L672.5,467.5 L671.5,466.8 L670.5,466.0 L669.5,465.2 L668.5,464.5 L667.5,463.8 L666.5,463.2 L665.5,462.6 L664.5,462.1 L663.5,461.5 L662.5,461.0 L661.5,460.4 L660.5,459.9 L659.5,459.3 L658.5,458.8 L657.5,458.2 L656.5,457.6 L655.5,455.8 L654.5,453.5 L653.5,451.3 L652.5,449.0 L651.5,446.7 L650.5,444.5 L649.5,442.2 L648.5,440.4 L647.5,440.2 L646.5,440.0 L645.5,439.8 L644.5,439.6 L643.5,439.4 L642.5,439.1 L641.5,438.9 L640.5,438.7 L639.5,438.5 L638.5,438.3 L637.5,438.0 L636.5,437.8 L635.5,437.6 L634.5,437.5 L633.5,437.5 L632.5,437.5 L631.5,437.5 L630.5,437.5 L629.5,437.5 L628.5,437.5 L627.5,437.5 L626.5,437.5 L625.5,437.5 L624.5,437.5 L623.5,437.5 L622.5,437.5 L621.5,437.5 L620.5,437.5 L619.5,437.5 L618.5,437.5 L617.5,437.5 L616.5,437.5 L615.5,437.5 L614.5,437.5 L613.5,437.5 L612.5,437.5 L611.5,437.5 L610.5,437.5 L609.5,437.5 L608.5,437.5 L607.5,437.5 L606.5,437.5 L605.5,437.5 L604.5,437.5 L603.5,437.5 L602.5,437.5 L601.5,437.5 L600.5,437.5 L599.5,437.5 L598.5,437.5 L597.5,437.5 L596.5,437.5 L595.5,437.5 L594.5,437.5 L593.5,437.5 L592.5,437.5 L591.5,437.5 L590.5,437.5 L589.5,437.3 L588.5,437.0 L587.5,436.7 L586.5,436.3 L585.5,436.0 L584.5,435.7 L583.5,435.3 L582.5,435.0 L581.5,434.7 L580.5,434.3 L579.5,434.0 L578.5,433.7 L577.5,433.3 L576.5,433.0 L575.5,432.7 L574.5,432.5 L573.5,432.5 L572.5,432.5 L571.5,432.5 L570.5,432.5 L569.5,432.5 L568.5,432.5 L567.5,432.5 L566.5,432.5 L565.5,432.5 L564.5,432.5 L563.5,432.5 L562.5,432.5 L561.5,432.5 L560.5,432.5 L559.5,432.5 L558.5,432.5 L557.5,432.5 L556.5,432.5 L555.5,432.5 L554.5,432.5 L553.5,432.5 L552.5,432.5 L551.5,432.5 L550.5,432.5 L549.5,432.5 L548.5,432.5 L547.5,432.5 L546.5,432.5 L545.5,432.5 L544.5,432.5 L543.5,432.5 L542.5,432.5 L541.5,432.5 L540.5,432.5 L539.5,432.5 L538.5,432.5 L537.5,432.5 L536.5,432.5 L535.5,432.5 L534.5,432.5 L533.5,432.5 L532.5,432.5 L531.5,432.5 L530.5,432.5 L529.5,432.5 L528.5,432.5 L527.5,432.5 L526.5,432.5 L525.5,432.5 L524.5,432.5 L523.5,432.5 L522.5,432.5 L521.5,432.5 L520.5,432.5 L519.5,432.5 L518.5,432.5 L517.5,432.5 L516.5,432.5 L515.5,432.5 L514.5,432.5 L513.5,432.5 L512.5,432.5 L511.5,432.5 L510.5,432.5 L509.5,432.5 L508.5,432.5 L507.5,432.5 L506.5,432.5 L505.5,432.5 L504.5,432.5 L503.5,432.5 L502.5,432.5 L501.5,432.5 L500.5,432.5 L499.5,432.5 L498.5,432.5 L497.5,432.5 L496.5,432.5 L495.5,432.5 L494.5,432.5 L493.5,432.5 L492.5,432.5 L491.5,432.5 L490.5,432.5 L489.5,432.5 L488.5,432.5 L487.5,432.5 L486.5,432.5 L485.5,432.5 L484.5,432.5 L483.5,432.5 L482.5,432.5 L481.5,432.1 L480.5,431.7 L479.5,431.3 L478.5,430.9 L477.5,430.5 L476.5,430.1 L475.5,429.7 L474.5,429.3 L473.5,428.9 L472.5,428.5 L471.5,428.1 L470.5,427.7 L469.5,427.5 L468.5,427.5 L467.5,427.5 L466.5,427.5 L465.5,427.5 L464.5,427.5 L463.5,427.5 L462.5,427.5 L461.5,427.5 L460.5,427.5 L459.5,427.5 L458.5,427.5 L457.5,427.5 L456.5,427.5 L455.5,427.5 L454.5,427.5 L453.5,427.5 L452.5,427.5 L451.5,427.5 L450.5,427.5 L449.5,427.5 L448.5,427.5 L447.5,427.5 L446.5,427.5 L445.5,427.5 L444.5,427.5 L443.5,427.5 L442.5,427.5 L441.5,427.5 L440.5,427.5 L439.5,427.5 L438.5,427.5 L437.5,427.5 L436.5,427.5 L435.5,427.5 L434.5,427.1 L433.5,426.2 L432.5,425.4 L431.5,424.6 L430.5,423.8 L429.5,422.9 L428.5,422.1 L427.5,421.2 L426.5,420.6 L425.5,420.1 L424.5,419.4 L423.5,418.9 L422.5,418.2 L421.5,417.6 L420.5,417.1 L419.5,416.4 L418.5,415.9 L417.5,415.2 L416.5,414.6 L415.5,414.1 L414.5,413.9 L413.5,414.2 L412.5,414.5 L411.5,414.5 L410.5,414.5 L409.5,414.5 L408.5,414.5 L407.5,414.5 L406.5,414.5 L405.5,414.5 L404.5,414.5 L403.5,414.5 L402.5,414.5 L401.5,414.5 L400.5,414.5 L399.5,414.5 L398.5,414.5 L397.5,414.5 L396.5,414.5 L395.5,414.5 L394.5,414.5 L393.5,414.5 L392.5,414.5 L391.5,414.5 L390.5,414.5 L389.5,414.5 L388.5,414.5 L387.5,414.5 L386.5,414.5 L385.5,414.5 L384.5,414.4 L383.5,414.2 L382.5,414.0 L381.5,413.7 L380.5,413.5 L379.5,413.3 L378.5,413.1 L377.5,412.9 L376.5,412.7 L375.5,412.4 L374.5,412.2 L373.5,412.0 L372.5,411.8 L371.5,411.6 L370.5,411.4 L369.5,411.2 L368.5,411.2 L367.5,411.2 L366.5,411.2 L365.5,411.2 L364.5,411.2 L363.5,411.2 L362.5,411.2 L361.5,411.2 L360.5,411.2 L359.5,411.2 L358.5,411.2 L357.5,411.2 L356.5,411.2 L355.5,411.2 L354.5,411.2 L353.5,411.2 L352.5,411.2 L351.5,411.2 L350.5,411.2 L349.5,411.2 L348.5,411.2 L347.5,411.2 L346.5,411.2 L345.5,411.2 L344.5,411.2 L343.5,411.2 L342.5,411.2 L341.5,411.2 L340.5,411.2 L339.5,411.2 L338.5,411.2 L337.5,411.2 L336.5,411.2 L335.5,411.2 L334.5,411.2 L333.5,411.2 L332.5,411.2 L331.5,411.2 L330.5,411.2 L329.5,411.2 L328.5,411.2 L327.5,411.2 L326.5,411.2 L325.5,411.2 L324.5,411.2 L323.5,411.2 L322.5,411.2 L321.5,411.2 L320.5,411.2 L319.5,411.2 L318.5,411.2 L317.5,411.2 L316.5,411.2 L315.5,411.2 L314.5,411.2 L313.5,411.2 L312.5,411.2 L311.5,411.2 L310.5,411.2 L309.5,411.2 L308.5,411.2 L307.5,411.2 L306.5,411.2Z" fill="#808080" stroke="none"/>
<path d="M947.5,494.6 L948.5,494.3 L949.5,494.1 L950.5,493.9 L951.5,493.7 L952.5,493.4 L953.5,493.2 L954.5,493.0 L955.5,492.8 L956.5,492.5 L957.5,492.3 L958.5,492.1 L959.5,491.9 L960.5,491.7 L961.5,491.7 L962.5,491.7 L963.5,491.7 L964.5,491.6 L965.5,491.6 L966.5,491.6 L967.5,491.6 L968.5,491.5 L969.5,491.5 L970.5,491.5 L971.5,491.5 L972.5,491.4 L973.5,491.4 L974.5,491.4 L975.5,491.4 L976.5,491.3 L977.5,491.3 L978.5,491.3 L979.5,491.3 L980.5,491.2 L981.5,491.1 L982.5,491.1 L983.5,491.0 L984.5,490.9 L985.5,490.8 L986.5,490.8 L987.5,490.7 L988.5,490.6 L989.5,490.5 L990.5,490.6 L991.5,490.8 L992.5,490.9 L993.5,491.1 L994.5,491.2 L995.5,491.4 L996.5,491.6 L997.5,491.8 L998.5,491.9 L999.5,492.1 L1000.5,492.2 L1001.5,492.4 L1002.5,492.6 L1003.5,492.8 L1004.5,492.9 L1005.5,493.0 L1006.5,493.0 L1007.5,493.0 L1008.5,493.0 L1009.5,493.0 L1010.5,493.0 L1011.5,493.0 L1012.5,493.0 L1013.5,493.0 L1014.5,493.0 L1015.5,493.0 L1016.5,493.0 L1017.5,493.0 L1018.5,493.0 L1019.5,493.0 L1020.5,493.0 L1021.5,493.0 L1022.5,493.0 L1023.5,493.0 L1024.5,493.0 L1025.5,493.0 L1026.5,493.0 L1027.5,493.0 L1028.5,493.0 L1029.5,493.0 L1030.5,493.0 L1031.5,493.0 L1032.5,492.9 L1033.5,492.9 L1034.5,492.9 L1035.5,492.8 L1036.5,492.8 L1037.5,492.8 L1038.5,492.8 L1039.5,492.7 L1040.5,492.7 L1041.5,492.7 L1042.5,492.6 L1043.5,492.6 L1044.5,492.6 L1045.5,492.6 L1046.5,492.5 L1047.5,492.5 L1048.5,492.4 L1049.5,492.2 L1050.5,492.1 L1051.5,491.9 L1052.5,491.8 L1053.5,491.6 L1054.5,491.4 L1055.5,491.3 L1056.5,491.1 L1057.5,491.0 L1058.5,490.9 L1059.5,490.7 L1060.5,490.6 L1061.5,490.4 L1062.5,490.2 L1063.5,490.1 L1064.5,489.9 L1065.5,489.8 L1066.5,489.6 L1067.5,489.5 L1068.5,489.4 L1069.5,489.3 L1070.5,489.2 L1071.5,489.0 L1072.5,488.9 L1073.5,488.8 L1074.5,488.7 L1075.5,488.6 L1076.5,488.5 L1077.5,488.4 L1078.5,488.2 L1079.5,488.1 L1080.5,488.0 L1081.5,487.9 L1082.5,487.8 L1083.5,487.7 L1084.5,487.6 L1085.5,487.5 L1086.5,487.5 L1087.5,487.5 L1088.5,487.5 L1089.5,487.5 L1090.5,487.5 L1091.5,487.5 L1092.5,487.5 L1093.5,487.5 L1094.5,487.5 L1095.5,487.5 L1096.5,487.5 L1097.5,487.5 L1098.5,487.5 L1099.5,487.5 L1100.5,487.5 L1101.5,487.5 L1102.5,487.5 L1103.5,487.5 L1104.5,487.5 L1105.5,487.4 L1106.5,487.4 L1107.5,487.2 L1108.5,487.1 L1109.5,487.1 L1110.5,486.9 L1111.5,486.9 L1112.5,486.8 L1113.5,486.6 L1114.5,486.6 L1115.5,486.4 L1116.5,486.4 L1117.5,486.2 L1118.5,486.2 L1119.5,486.1 L1120.5,486.1 L1121.5,486.0 L1122.5,485.9 L1123.5,485.9 L1124.5,485.8 L1125.5,485.8 L1126.5,485.7 L1127.5,485.6 L1128.5,485.6 L1129.5,485.5 L1129.5,491.3 L1128.5,491.4 L1127.5,491.4 L1126.5,491.5 L1125.5,491.6 L1124.5,491.7 L1123.5,491.7 L1122.5,491.8 L1121.5,491.9 L1120.5,492.0 L1119.5,492.3 L1118.5,493.0 L1117.5,493.7 L1116.5,494.3 L1115.5,495.0 L1114.5,495.7 L1113.5,496.3 L1112.5,497.0 L1111.5,497.2 L1110.5,497.4 L1109.5,497.5 L1108.5,497.7 L1107.5,497.9 L1106.5,498.1 L1105.5,498.2 L1104.5,498.4 L1103.5,498.6 L1102.5,498.8 L1101.5,499.2 L1100.5,499.6 L1099.5,500.0 L1098.5,500.5 L1097.5,500.9 L1096.5,501.3 L1095.5,501.8 L1094.5,502.2 L1093.5,502.5 L1092.5,502.5 L1091.5,502.5 L1090.5,502.6 L1089.5,502.6 L1088.5,502.6 L1087.5,502.6 L1086.5,502.6 L1085.5,502.7 L1084.5,502.7 L1083.5,502.7 L1082.5,502.7 L1081.5,502.7 L1080.5,502.8 L1079.5,502.8 L1078.5,502.8 L1077.5,502.8 L1076.5,502.8 L1075.5,502.9 L1074.5,502.9 L1073.5,502.9 L1072.5,502.9 L1071.5,502.9 L1070.5,503.0 L1069.5,503.0 L1068.5,503.0 L1067.5,503.0 L1066.5,503.0 L1065.5,503.0 L1064.5,503.1 L1063.5,503.1 L1062.5,503.1 L1061.5,503.1 L1060.5,503.1 L1059.5,503.2 L1058.5,503.2 L1057.5,503.2 L1056.5,503.2 L1055.5,503.2 L1054.5,503.3 L1053.5,503.3 L1052.5,503.3 L1051.5,503.3 L1050.5,503.3 L1049.5,503.4 L1048.5,503.4 L1047.5,503.4 L1046.5,503.4 L1045.5,503.4 L1044.5,503.4 L1043.5,503.4 L1042.5,503.4 L1041.5,503.4 L1040.5,503.4 L1039.5,503.4 L1038.5,503.4 L1037.5,503.4 L1036.5,503.4 L1035.5,503.4 L1034.5,503.4 L1033.5,503.4 L1032.5,503.4 L1031.5,503.4 L1030.5,503.4 L1029.5,503.4 L1028.5,503.4 L1027.5,503.4 L1026.5,503.4 L1025.5,503.4 L1024.5,503.4 L1023.5,503.4 L1022.5,503.4 L1021.5,503.4 L1020.5,503.4 L1019.5,503.4 L1018.5,503.4 L1017.5,503.4 L1016.5,503.4 L1015.5,503.4 L1014.5,503.4 L1013.5,503.4 L1012.5,503.4 L1011.5,503.4 L1010.5,503.4 L1009.5,503.4 L1008.5,503.4 L1007.5,503.4 L1006.5,503.4 L1005.5,503.4 L1004.5,503.4 L1003.5,503.4 L1002.5,503.4 L1001.5,503.4 L1000.5,503.4 L999.5,503.4 L998.5,503.4 L997.5,503.4 L996.5,503.4 L995.5,503.4 L994.5,503.4 L993.5,503.4 L992.5,503.4 L991.5,503.4 L990.5,503.4 L989.5,503.4 L988.5,503.4 L987.5,503.4 L986.5,503.4 L985.5,503.4 L984.5,503.4 L983.5,503.4 L982.5,503.4 L981.5,503.4 L980.5,503.4 L979.5,503.4 L978.5,503.4 L977.5,503.4 L976.5,503.4 L975.5,503.4 L974.5,503.4 L973.5,503.4 L972.5,503.4 L971.5,503.4 L970.5,503.4 L969.5,503.4 L968.5,503.4 L967.5,503.4 L966.5,503.4 L965.5,503.4 L964.5,503.4 L963.5,503.4 L962.5,503.4 L961.5,502.8 L960.5,501.6 L959.5,500.4 L958.5,499.3 L957.5,498.1 L956.5,497.3 L955.5,496.9 L954.5,496.6 L953.5,496.2 L952.5,495.9 L951.5,495.6 L950.5,495.4 L949.5,495.1 L948.5,494.9 L947.5,494.6Z" fill="#c0c0c0" stroke="none"/>
<line x1="5.0" y1="398.5" x2="1153.0" y2="398.5" stroke="#c0c0c0" stroke-width="1" shape-rendering="crispEdges"/>
<line x1="5.0" y1="421.5" x2="1153.0" y2="421.5" stroke="#c0c0c0" stroke-width="1" shape-rendering="crispEdges"/>
<line x1="5.0" y1="445.5" x2="1153.0" y2="445.5" stroke="#c0c0c0" stroke-width="1" shape-rendering="crispEdges"/>
<line x1="5.0" y1="468.5" x2="1153.0" y2="468.5" stroke="#c0c0c0" stroke-width="1" shape-rendering="crispEdges"/>
<line x1="5.0" y1="491.5" x2="1153.0" y2="491.5" stroke="#c0c0c0" stroke-width="1" shape-rendering="crispEdges"/>
<line x1="5.0" y1="515.5" x2="1153.0" y2="515.5" stroke="#c0c0c0" stroke-width="1" shape-rendering="crispEdges"/>
<line x1="5.0" y1="533.5" x2="1153.0" y2="533.5" stroke="#c0c0c0" stroke-width="1" shape-rendering="crispEdges"/>
<line x1="5.0" y1="561.5" x2="1153.0" y2="561.5" stroke="#c0c0c0" stroke-width="1" shape-rendering="crispEdges"/>
<line x1="5.0" y1="588.5" x2="1153.0" y2="588.5" stroke="#c0c0c0" stroke-width="1" shape-rendering="crispEdges"/>
<line x1="5.0" y1="622.5" x2="1153.0" y2="622.5" stroke="#c0c0c0" stroke-width="1" shape-rendering="crispEdges"/>
<line x1="5.0" y1="638.5" x2="1153.0" y2="638.5" stroke="#c0c0c0" stroke-width="1" shape-rendering="crispEdges"/>
<line x1="5.0" y1="660.5" x2="1153.0" y2="660.5" stroke="#c0c0c0" stroke-width="1" shape-rendering="crispEdges"/>
<line x1="5.0" y1="674.5" x2="1153.0" y2="674.5" stroke="#c0c0c0" stroke-width="1" shape-rendering="crispEdges"/>
<line x1="5.0" y1="687.5" x2="1153.0" y2="687.5" stroke="#c0c0c0" stroke-width="1" shape-rendering="crispEdges"/>
<line x1="5.0" y1="700.5" x2="1153.0" y2="700.5" stroke="#c0c0c0" stroke-width="1" shape-rendering="crispEdges"/>
<line x1="23.5" y1="366.0" x2="23.5" y2="710.0" stroke="#c0c0c0" stroke-width="1" shape-rendering="crispEdges"/>
<line x1="101.5" y1="366.0" x2="101.5" y2="710.0" stroke="#c0c0c0" stroke-width="1" shape-rendering="crispEdges"/>
<line x1="179.5" y1="366.0" x2="179.5" y2="710.0" stroke="#c0c0c0" stroke-width="1" shape-rendering="crispEdges"/>
<line x1="257.5" y1="366.0" x2="257.5" y2="710.0" stroke="#c0c0c0" stroke-width="1" shape-rendering="crispEdges"/>
<line x1="335.5" y1="366.0" x2="335.5" y2="710.0" stroke="#c0c0c0" stroke-width="1" shape-rendering="crispEdges"/>
<line x1="413.5" y1="366.0" x2="413.5" y2="710.0" stroke="#c0c0c0" stroke-width="1" shape-rendering="crispEdges"/>
<line x1="491.5" y1="366.0" x2="491.5" y2="710.0" stroke="#c0c0c0" stroke-width="1" shape-rendering="crispEdges"/>
<line x1="575.5" y1="366.0" x2="575.5" y2="710.0" stroke="#c0c0c0" stroke-width="1" shape-rendering="crispEdges"/>
<line x1="647.5" y1="366.0" x2="647.5" y2="710.0" stroke="#c0c0c0" stroke-width="1" shape-rendering="crispEdges"/>
<line x1="725.5" y1="366.0" x2="725.5" y2="710.0" stroke="#c0c0c0" stroke-width="1" shape-rendering="crispEdges"/>
<line x1="803.5" y1="366.0" x2="803.5" y2="710.0" stroke="#c0c0c0" stroke-width="1" shape-rendering="crispEdges"/>
<line x1="887.5" y1="366.0" x2="887.5" y2="710.0" stroke="#c0c0c0" stroke-width="1" shape-rendering="crispEdges"/>
<line x1="959.5" y1="366.0" x2="959.5" y2="710.0" stroke="#c0c0c0" stroke-width="1" shape-rendering="crispEdges"/>
<line x1="1037.5" y1="366.0" x2="1037.5" y2="710.0" stroke="#c0c0c0" stroke-width="1" shape-rendering="crispEdges"/>
<line x1="524.5" y1="366.0" x2="524.5" y2="710.0" stroke="#a8a8e0" stroke-width="1" shape-rendering="crispEdges"/>
<line x1="5.0" y1="703.5" x2="1153.0" y2="703.5" stroke="#a8a8e0" stroke-width="1" shape-rendering="crispEdges"/>
<path d="M5.5,588.5V558.5H11.5V588.5ZM11.5,588.5V567.5H17.5V588.5ZM17.5,588.5V562.5H23.5V588.5ZM23.5,588.5V563.5H29.5V588.5ZM29.5,588.5V566.5H35.5V588.5ZM35.5,588.5V558.5H41.5V588.5ZM41.5,588.5V560.5H47.5V588.5ZM47.5,588.5V578.5H53.5V588.5ZM53.5,588.5V565.5H59.5V588.5ZM59.5,588.5V563.5H65.5V588.5ZM65.5,588.5V561.5H71.5V588.5ZM71.5,588.5V560.5H77.5V588.5ZM77.5,588.5V567.5H83.5V588.5ZM83.5,588.5V567.5H89.5V588.5ZM89.5,588.5V566.5H95.5V588.5ZM95.5,588.5V562.5H101.5V588.5ZM101.5,588.5V570.5H107.5V588.5ZM107.5,588.5V566.5H113.5V588.5ZM113.5,588.5V570.5H119.5V588.5ZM119.5,588.5V558.5H125.5V588.5ZM125.5,588.5V549.5H131.5V588.5ZM131.5,588.5V552.5H137.5V588.5ZM137.5,588.5V540.5H143.5V588.5ZM143.5,588.5V549.5H149.5V588.5ZM149.5,588.5V561.5H155.5V588.5ZM155.5,588.5V557.5H161.5V588.5ZM161.5,588.5V555.5H167.5V588.5ZM167.5,588.5V567.5H173.5V588.5ZM173.5,588.5V569.5H179.5V588.5ZM179.5,588.5V566.5H185.5V588.5ZM185.5,588.5V569.5H191.5V588.5ZM191.5,588.5V555.5H197.5V588.5ZM197.5,588.5V560.5H203.5V588.5ZM203.5,588.5V563.5H209.5V588.5ZM209.5,588.5V556.5H215.5V588.5ZM215.5,588.5V551.5H221.5V588.5ZM221.5,588.5V552.5H227.5V588.5ZM227.5,588.5V554.5H233.5V588.5ZM233.5,588.5V558.5H239.5V588.5ZM239.5,588.5V561.5H245.5V588.5ZM245.5,588.5V562.5H251.5V588.5ZM251.5,588.5V579.5H257.5V588.5ZM257.5,588.5V584.5H263.5V588.5ZM263.5,588.5V560.5H269.5V588.5ZM269.5,588.5V553.5H275.5V588.5ZM275.5,588.5V539.5H281.5V588.5ZM281.5,588.5V552.5H287.5V588.5ZM287.5,588.5V555.5H293.5V588.5ZM293.5,588.5V566.5H299.5V588.5ZM299.5,588.5V556.5H305.5V588.5ZM305.5,588.5V561.5H311.5V588.5ZM311.5,588.5V558.5H317.5V588.5ZM317.5,588.5V557.5H323.5V588.5ZM323.5,588.5V555.5H329.5V588.5ZM329.5,588.5V560.5H335.5V588.5ZM335.5,588.5V558.5H341.5V588.5ZM341.5,588.5V560.5H347.5V588.5ZM347.5,588.5V564.5H353.5V588.5ZM353.5,588.5V562.5H359.5V588.5ZM359.5,588.5V568.5H365.5V588.5ZM365.5,588.5V574.5H371.5V588.5ZM371.5,588.5V558.5H377.5V588.5ZM377.5,588.5V559.5H383.5V588.5ZM383.5,588.5V557.5H389.5V588.5ZM389.5,588.5V559.5H395.5V588.5ZM395.5,588.5V561.5H401.5V588.5ZM401.5,588.5V563.5H407.5V588.5ZM407.5,588.5V565.5H413.5V588.5ZM413.5,588.5V558.5H419.5V588.5ZM419.5,588.5V553.5H425.5V588.5ZM425.5,588.5V558.5H431.5V588.5ZM431.5,588.5V566.5H437.5V588.5ZM437.5,588.5V562.5H443.5V588.5ZM443.5,588.5V560.5H449.5V588.5ZM449.5,588.5V561.5H455.5V588.5ZM455.5,588.5V565.5H461.5V588.5ZM461.5,588.5V569.5H467.5V588.5ZM467.5,588.5V560.5H473.5V588.5ZM473.5,588.5V559.5H479.5V588.5ZM479.5,588.5V557.5H485.5V588.5ZM485.5,588.5V564.5H491.5V588.5ZM491.5,588.5V552.5H497.5V588.5ZM497.5,588.5V528.5H503.5V588.5ZM503.5,588.5V550.5H509.5V588.5ZM509.5,588.5V541.5H515.5V588.5ZM515.5,588.5V527.5H521.5V588.5ZM521.5,588.5V555.5H527.5V588.5ZM527.5,588.5V555.5H533.5V588.5ZM533.5,588.5V557.5H539.5V588.5ZM539.5,588.5V568.5H545.5V588.5ZM545.5,588.5V563.5H551.5V588.5ZM551.5,588.5V560.5H557.5V588.5ZM557.5,588.5V565.5H563.5V588.5ZM563.5,588.5V581.5H569.5V588.5ZM569.5,588.5V585.5H575.5V588.5ZM575.5,588.5V569.5H581.5V588.5ZM581.5,588.5V568.5H587.5V588.5ZM587.5,588.5V567.5H593.5V588.5ZM593.5,588.5V564.5H599.5V588.5ZM599.5,588.5V564.5H605.5V588.5ZM605.5,588.5V568.5H611.5V588.5ZM611.5,588.5V571.5H617.5V588.5ZM617.5,588.5V565.5H623.5V588.5ZM623.5,588.5V564.5H629.5V588.5ZM629.5,588.5V568.5H635.5V588.5ZM635.5,588.5V571.5H641.5V588.5ZM641.5,588.5V562.5H647.5V588.5ZM647.5,588.5V559.5H653.5V588.5ZM653.5,588.5V565.5H659.5V588.5ZM659.5,588.5V565.5H665.5V588.5ZM665.5,588.5V568.5H671.5V588.5ZM671.5,588.5V571.5H677.5V588.5ZM677.5,588.5V581.5H683.5V588.5ZM683.5,588.5V570.5H689.5V588.5ZM689.5,588.5V569.5H695.5V588.5ZM695.5,588.5V569.5H701.5V588.5ZM701.5,588.5V571.5H707.5V588.5ZM707.5,588.5V572.5H713.5V588.5ZM713.5,588.5V570.5H719.5V588.5ZM719.5,588.5V568.5H725.5V588.5ZM725.5,588.5V567.5H731.5V588.5ZM731.5,588.5V570.5H737.5V588.5ZM737.5,588.5V568.5H743.5V588.5ZM743.5,588.5V573.5H749.5V588.5ZM749.5,588.5V567.5H755.5V588.5ZM755.5,588.5V567.5H761.5V588.5ZM761.5,588.5V570.5H767.5V588.5ZM767.5,588.5V562.5H773.5V588.5ZM773.5,588.5V566.5H779.5V588.5ZM779.5,588.5V563.5H785.5V588.5ZM785.5,588.5V572.5H791.5V588.5ZM791.5,588.5V567.5H797.5V588.5ZM797.5,588.5V579.5H803.5V588.5ZM803.5,588.5V569.5H809.5V588.5ZM809.5,588.5V568.5H815.5V588.5ZM815.5,588.5V573.5H821.5V588.5ZM821.5,588.5V572.5H827.5V588.5ZM827.5,588.5V569.5H833.5V588.5ZM833.5,588.5V574.5H839.5V588.5ZM839.5,588.5V570.5H845.5V588.5ZM845.5,588.5V566.5H851.5V588.5ZM851.5,588.5V570.5H857.5V588.5ZM857.5,588.5V556.5H863.5V588.5ZM863.5,588.5V568.5H869.5V588.5ZM869.5,588.5V572.5H875.5V588.5ZM875.5,588.5V580.5H881.5V588.5ZM881.5,588.5V580.5H887.5V588.5ZM887.5,588.5V568.5H893.5V588.5ZM893.5,588.5V569.5H899.5V588.5ZM899.5,588.5V562.5H905.5V588.5ZM905.5,588.5V563.5H911.5V588.5ZM911.5,588.5V566.5H917.5V588.5ZM917.5,588.5V572.5H923.5V588.5ZM923.5,588.5V572.5H929.5V588.5ZM929.5,588.5V566.5H935.5V588.5ZM935.5,588.5V569.5H941.5V588.5ZM941.5,588.5V574.5H947.5V588.5ZM947.5,588.5V573.5H953.5V588.5ZM953.5,588.5V577.5H959.5V588.5ZM959.5,588.5V572.5H965.5V588.5ZM965.5,588.5V572.5H971.5V588.5ZM971.5,588.5V568.5H977.5V588.5ZM977.5,588.5V567.5H983.5V588.5ZM983.5,588.5V574.5H989.5V588.5ZM989.5,588.5V578.5H995.5V588.5ZM995.5,588.5V557.5H1001.5V588.5ZM1001.5,588.5V557.5H1007.5V588.5ZM1007.5,588.5V556.5H1013.5V588.5ZM1013.5,588.5V563.5H1019.5V588.5ZM1019.5,588.5V566.5H1025.5V588.5ZM1025.5,588.5V575.5H1031.5V588.5ZM1031.5,588.5V573.5H1037.5V588.5ZM1037.5,588.5V567.5H1043.5V588.5ZM1043.5,588.5V586.5H1049.5V588.5ZM1049.5,588.5V584.5H1055.5V588.5ZM1055.5,588.5V584.5H1061.5V588.5ZM1061.5,588.5V583.5H1067.5V588.5ZM1067.5,588.5V584.5H1073.5V588.5Z" fill="#9fcfff" stroke="#0000cc" stroke-width="1"/>
<path d="M8,406h1V415h-1ZM14,404h1V414h-1ZM20,403h1V410h-1ZM26,403h1V410h-1ZM32,401h1V406h-1ZM38,400h1V408h-1ZM44,402h1V408h-1ZM50,404h1V408h-1ZM56,400h1V405h-1ZM62,400h1V406h-1ZM68,401h1V406h-1ZM74,398h1V403h-1ZM80,397h1V402h-1ZM86,398h1V403h-1ZM92,394h1V397h-1ZM98,394h1V397h-1ZM104,394h1V397h-1ZM110,395h1V399h-1ZM116,395h1V399h-1ZM122,398h1V407h-1ZM128,406h1V414h-1ZM134,407h1V415h-1ZM140,410h1V430h-1ZM146,417h1V424h-1ZM152,415h1V420h-1ZM158,416h1V424h-1ZM164,421h1V427h-1ZM170,417h1V425h-1ZM176,410h1V419h-1ZM182,407h1V413h-1ZM188,404h1V408h-1ZM194,405h1V413h-1ZM200,416h1V419h-1ZM206,411h1V416h-1ZM212,416h1V427h-1ZM218,427h1V434h-1ZM224,430h1V437h-1ZM230,425h1V435h-1ZM236,420h1V429h-1ZM242,421h1V427h-1ZM248,427h1V433h-1ZM254,425h1V430h-1ZM260,434h1V438h-1ZM266,436h1V443h-1ZM272,442h1V452h-1ZM278,448h1V462h-1ZM284,449h1V456h-1ZM290,446h1V456h-1ZM296,449h1V457h-1ZM302,447h1V453h-1ZM308,443h1V450h-1ZM314,452h1V459h-1ZM320,455h1V466h-1ZM326,463h1V473h-1ZM332,458h1V466h-1ZM338,452h1V463h-1ZM344,450h1V458h-1ZM350,451h1V459h-1ZM356,447h1V451h-1ZM362,445h1V448h-1ZM368,443h1V449h-1ZM374,440h1V451h-1ZM380,441h1V449h-1ZM386,441h1V449h-1ZM392,438h1V443h-1ZM398,443h1V447h-1ZM404,439h1V446h-1ZM410,445h1V450h-1ZM416,450h1V455h-1ZM422,453h1V457h-1ZM428,454h1V460h-1ZM434,449h1V457h-1ZM440,451h1V456h-1ZM446,453h1V458h-1ZM452,451h1V458h-1ZM458,453h1V461h-1ZM464,456h1V461h-1ZM470,458h1V466h-1ZM476,460h1V468h-1ZM482,470h1V477h-1ZM488,466h1V469h-1ZM494,467h1V480h-1ZM500,482h1V514h-1ZM506,495h1V512h-1ZM512,499h1V519h-1ZM518,503h1V525h-1ZM524,496h1V512h-1ZM530,502h1V513h-1ZM536,505h1V522h-1ZM542,509h1V514h-1ZM548,509h1V516h-1ZM554,506h1V515h-1ZM560,505h1V510h-1ZM566,506h1V509h-1ZM572,505h1V507h-1ZM578,499h1V505h-1ZM584,508h1V513h-1ZM590,511h1V517h-1ZM596,511h1V518h-1ZM602,512h1V517h-1ZM608,511h1V519h-1ZM614,517h1V522h-1ZM620,520h1V523h-1ZM626,523h1V525h-1ZM632,521h1V525h-1ZM638,516h1V519h-1ZM644,505h1V516h-1ZM650,504h1V513h-1ZM656,503h1V508h-1ZM662,503h1V507h-1ZM668,504h1V508h-1ZM674,503h1V509h-1ZM680,498h1V500h-1ZM686,497h1V503h-1ZM692,500h1V503h-1ZM698,497h1V500h-1ZM704,494h1V497h-1ZM710,490h1V494h-1ZM716,490h1V496h-1ZM722,493h1V497h-1ZM728,490h1V495h-1ZM734,495h1V501h-1ZM740,499h1V503h-1ZM746,493h1V497h-1ZM752,487h1V493h-1ZM758,487h1V489h-1ZM764,484h1V487h-1ZM770,485h1V490h-1ZM776,484h1V488h-1ZM782,482h1V490h-1ZM788,487h1V490h-1ZM794,487h1V491h-1ZM800,485h1V489h-1ZM806,488h1V495h-1ZM812,489h1V496h-1ZM818,489h1V492h-1ZM824,487h1V489h-1ZM830,486h1V493h-1ZM836,491h1V495h-1ZM842,492h1V495h-1ZM848,493h1V498h-1ZM854,495h1V503h-1ZM860,491h1V504h-1ZM866,489h1V494h-1ZM872,490h1V491h-1ZM878,485h1V490h-1ZM884,483h1V486h-1ZM890,482h1V485h-1ZM896,481h1V482h-1ZM902,481h1V485h-1ZM908,484h1V490h-1ZM914,486h1V492h-1ZM920,490h1V493h-1ZM926,487h1V492h-1ZM932,486h1V491h-1ZM938,490h1V491h-1ZM944,484h1V490h-1ZM950,482h1V484h-1ZM956,481h1V484h-1ZM962,477h1V481h-1ZM968,475h1V478h-1ZM974,475h1V479h-1ZM980,477h1V480h-1ZM986,477h1V481h-1ZM992,479h1V489h-1ZM998,483h1V488h-1ZM1004,486h1V495h-1ZM1010,493h1V500h-1ZM1016,492h1V496h-1ZM1022,492h1V499h-1ZM1028,490h1V495h-1ZM1034,489h1V495h-1ZM1040,495h1V502h-1ZM1046,494h1V495h-1ZM1052,495h1V497h-1ZM1058,497h1V499h-1ZM1064,499h1V502h-1ZM1070,501h1V502h-1Z" fill="#0000cc" stroke="none"/>
<path d="M5,406h7V414h-7ZM17,404h7V406h-7ZM23,405h7v2h-7ZM29,403h7V405h-7ZM35,403h7v2h-7ZM41,403h7V405h-7ZM47,404h7v2h-7ZM53,402h7v2h-7ZM59,402h7V405h-7ZM65,403h7v2h-7ZM77,397h7V401h-7ZM89,395h7v2h-7ZM95,394h7v2h-7ZM101,396h7v2h-7ZM113,394h7v2h-7ZM119,398h7V407h-7ZM125,408h7v2h-7ZM131,412h7v2h-7ZM137,412h7V430h-7ZM149,416h7V420h-7ZM155,416h7V420h-7ZM191,405h7V412h-7ZM203,414h7V416h-7ZM209,416h7V427h-7ZM215,429h7v2h-7ZM221,431h7V435h-7ZM239,421h7V427h-7ZM245,428h7v2h-7ZM251,426h7V430h-7ZM257,434h7V437h-7ZM263,439h7V443h-7ZM269,443h7V447h-7ZM275,448h7v2h-7ZM281,450h7v2h-7ZM287,448h7V456h-7ZM299,449h7v2h-7ZM305,449h7v2h-7ZM311,454h7V459h-7ZM317,460h7V466h-7ZM341,452h7v2h-7ZM365,443h7V449h-7ZM377,441h7V445h-7ZM395,443h7v2h-7ZM401,443h7V446h-7ZM407,448h7V450h-7ZM413,450h7V454h-7ZM419,454h7V456h-7ZM425,456h7V458h-7ZM437,451h7V456h-7ZM443,454h7v2h-7ZM449,453h7V456h-7ZM455,457h7V461h-7ZM467,458h7V466h-7ZM473,462h7V466h-7ZM485,466h7V469h-7ZM491,469h7V480h-7ZM497,482h7V514h-7ZM503,499h7V512h-7ZM509,505h7V519h-7ZM521,503h7V507h-7ZM527,502h7V509h-7ZM533,511h7V516h-7ZM545,509h7V516h-7ZM575,501h7V505h-7ZM581,508h7V512h-7ZM587,511h7V517h-7ZM605,511h7V516h-7ZM611,518h7V522h-7ZM623,523h7V525h-7ZM653,503h7v2h-7ZM659,503h7v2h-7ZM665,504h7V506h-7ZM683,498h7V500h-7ZM713,490h7V494h-7ZM719,492h7v2h-7ZM725,492h7v2h-7ZM731,495h7V501h-7ZM767,485h7V488h-7ZM773,486h7v2h-7ZM779,485h7V490h-7ZM791,486h7V488h-7ZM797,487h7v2h-7ZM803,488h7V495h-7ZM815,490h7v2h-7ZM827,487h7V491h-7ZM833,491h7V494h-7ZM839,493h7V495h-7ZM845,494h7V498h-7ZM851,497h7V503h-7ZM899,481h7V484h-7ZM905,484h7V490h-7ZM911,489h7V491h-7ZM917,490h7v2h-7ZM935,489h7v2h-7ZM965,476h7V478h-7ZM971,477h7V479h-7ZM977,478h7V480h-7ZM989,479h7V487h-7ZM995,486h7v2h-7ZM1001,486h7V495h-7ZM1007,493h7v2h-7ZM1019,492h7V495h-7ZM1031,492h7V495h-7ZM1037,495h7V501h-7ZM1043,494h7V496h-7ZM1049,495h7V497h-7ZM1055,497h7V499h-7ZM1061,499h7V501h-7ZM1067,500h7V502h-7Z" fill="#0000cc" stroke="none"/>
<path d="M11.5,406.5h6V413.5h-6ZM71.5,399.5h6V402.5h-6ZM83.5,397.5h6V399.5h-6ZM107.5,394.5h6V396.5h-6ZM143.5,419.5h6V423.5h-6ZM161.5,421.5h6V424.5h-6ZM167.5,419.5h6V421.5h-6ZM173.5,412.5h6V416.5h-6ZM179.5,409.5h6V411.5h-6ZM185.5,405.5h6V407.5h-6ZM197.5,416.5h6V418.5h-6ZM227.5,425.5h6V433.5h-6ZM233.5,422.5h6V424.5h-6ZM293.5,449.5h6V456.5h-6ZM323.5,462.5h6V464.5h-6ZM329.5,458.5h6V463.5h-6ZM335.5,454.5h6V458.5h-6ZM347.5,451.5h6V456.5h-6ZM353.5,446.5h6V448.5h-6ZM359.5,444.5h6V446.5h-6ZM371.5,442.5h6V449.5h-6ZM383.5,441.5h6V446.5h-6ZM389.5,438.5h6V440.5h-6ZM431.5,453.5h6V455.5h-6ZM461.5,455.5h6V457.5h-6ZM479.5,470.5h6V472.5h-6ZM515.5,509.5h6V520.5h-6ZM539.5,508.5h6V510.5h-6ZM551.5,512.5h6V514.5h-6ZM557.5,507.5h6V509.5h-6ZM563.5,506.5h6V508.5h-6ZM569.5,504.5h6V506.5h-6ZM593.5,515.5h6V517.5h-6ZM599.5,514.5h6V516.5h-6ZM617.5,520.5h6V522.5h-6ZM629.5,521.5h6V524.5h-6ZM635.5,516.5h6V518.5h-6ZM641.5,507.5h6V515.5h-6ZM647.5,505.5h6V507.5h-6ZM671.5,503.5h6V505.5h-6ZM677.5,497.5h6V499.5h-6ZM689.5,500.5h6V502.5h-6ZM695.5,497.5h6V499.5h-6ZM701.5,494.5h6V496.5h-6ZM707.5,490.5h6V493.5h-6ZM737.5,498.5h6V500.5h-6ZM743.5,493.5h6V496.5h-6ZM749.5,487.5h6V492.5h-6ZM755.5,486.5h6V488.5h-6ZM761.5,484.5h6V486.5h-6ZM785.5,486.5h6V488.5h-6ZM809.5,489.5h6V494.5h-6ZM821.5,487.5h6V489.5h-6ZM857.5,491.5h6V502.5h-6ZM863.5,489.5h6V491.5h-6ZM869.5,489.5h6V491.5h-6ZM875.5,485.5h6V489.5h-6ZM881.5,484.5h6V486.5h-6ZM887.5,482.5h6V484.5h-6ZM893.5,480.5h6V482.5h-6ZM923.5,489.5h6V491.5h-6ZM929.5,487.5h6V490.5h-6ZM941.5,484.5h6V489.5h-6ZM947.5,482.5h6V484.5h-6ZM953.5,480.5h6V482.5h-6ZM959.5,477.5h6V480.5h-6ZM983.5,478.5h6V480.5h-6ZM1013.5,492.5h6V494.5h-6ZM1025.5,492.5h6V494.5h-6Z" fill="#fff" stroke="#0000cc" stroke-width="1"/>
<path d="M8.4,420.1 L14.4,421.0 L20.4,419.0 L26.4,412.1 L32.4,408.7 L38.4,406.4 L44.4,411.7 L50.4,415.9 L56.4,415.7 L62.4,426.9 L68.4,430.2 L74.4,435.3 L80.4,424.9 L86.4,422.7 L92.4,426.7 L98.4,429.1 L104.4,430.5 L110.4,437.0 L116.4,442.8 L122.4,447.1 L128.4,449.0 L134.4,451.3 L140.4,456.1 L146.4,449.3 L152.4,449.9 L158.4,449.7 L164.4,459.4 L170.4,466.2 L176.4,462.8 L182.4,458.3 L188.4,453.6 L194.4,452.7 L200.4,451.0 L206.4,446.5 L212.4,444.6 L218.4,449.3 L224.4,442.4 L230.4,444.8 L236.4,441.2 L242.4,438.7 L248.4,444.3 L254.4,446.0 L260.4,450.2 L266.4,453.8 L272.4,456.1 L278.4,458.3 L284.4,452.7 L290.4,456.1 L296.4,454.9 L302.4,456.1 L308.4,461.1 L314.4,455.5 L320.4,465.6 L326.4,466.2 L332.4,469.8 L338.4,468.6 L344.4,480.2 L350.4,514.4 L356.4,511.6 L362.4,518.9 L368.4,509.4 L374.4,507.1 L380.4,509.4 L386.4,515.6 L392.4,508.8 L398.4,516.1 L404.4,511.6 L410.4,507.7 L416.4,506.0 L422.4,504.9 L428.4,505.1 L434.4,512.2 L440.4,517.2 L446.4,515.6 L452.4,513.9 L458.4,516.1 L464.4,521.7 L470.4,520.1 L476.4,525.1 L482.4,520.6 L488.4,516.1 L494.4,507.1 L500.4,506.0 L506.4,503.5 L512.4,503.8 L518.4,506.0 L524.4,503.0 L530.4,497.8 L536.4,500.1 L542.4,500.4 L548.4,497.0 L554.4,494.2 L560.4,489.7 L566.4,494.0 L572.4,493.3 L578.4,493.3 L584.4,500.6 L590.4,498.9 L596.4,492.5 L602.4,486.9 L608.4,486.6 L614.4,484.5 L620.4,488.1 L626.4,487.3 L632.4,489.5 L638.4,486.9 L644.4,487.7 L650.4,488.1 L656.4,494.8 L662.4,488.6 L668.4,490.6 L674.4,487.5 L680.4,491.4 L686.4,494.2 L692.4,494.8 L698.4,498.2 L704.4,502.7 L710.4,490.9 L716.4,490.3 L722.4,489.7 L728.4,485.5 L734.4,485.0 L740.4,482.1 L746.4,480.5 L752.4,484.4 L758.4,489.7 L764.4,491.1 L770.4,490.6 L776.4,489.7 L782.4,487.3 L788.4,490.3 L794.4,483.6 L800.4,482.4 L806.4,480.8 L812.4,476.6 L818.4,478.0 L824.4,478.7 L830.4,479.9 L836.4,478.5 L842.4,486.7 L848.4,486.7 L854.4,494.7 L860.4,494.0 L866.4,492.3 L872.4,495.4 L878.4,491.8 L884.4,494.7 L890.4,501.0" fill="none" stroke="#00c8ff" stroke-width="1.1" stroke-linejoin="round" />
<path d="M7.5,410.0 L50.0,409.5 L67.5,408.8 L80.0,404.2 L120.0,404.2 L132.5,406.2 L140.0,407.5 L150.0,411.2 L175.0,411.2 L197.5,409.5 L212.5,411.2 L220.0,413.8 L240.0,415.0 L265.0,416.2 L272.5,423.8 L278.8,432.0 L312.5,432.5 L325.0,437.0 L355.0,437.5 L362.5,442.5 L390.0,443.8 L405.0,447.5 L412.5,451.5 L415.0,452.5 L430.0,451.2 L457.5,452.5 L475.0,455.0 L490.0,456.2 L495.0,460.0 L502.5,475.0 L515.0,478.8 L545.0,481.2 L560.0,486.2 L595.0,487.5 L615.0,491.2 L635.0,495.0 L645.0,498.8 L652.5,510.0 L677.5,511.2 L690.0,510.0 L710.0,507.0 L737.5,507.0 L765.0,504.5 L780.0,503.8 L790.0,498.8 L805.0,495.8 L820.0,494.5 L827.5,493.0 L830.0,492.5 L850.0,492.5 L867.5,491.2 L892.5,490.8 L930.0,490.5 L955.0,490.0 L970.0,490.0 L985.0,489.5 L1005.0,488.8 L1020.0,487.0 L1035.0,486.2 L1041.2,487.5" fill="none" stroke="#50c88c" stroke-width="1.05" stroke-linejoin="round" />
<path d="M7.5,404.2 L15.0,406.2 L50.0,405.8 L70.0,403.8 L85.0,400.5 L100.0,399.5 L117.5,399.5 L130.0,402.5 L136.2,406.2 L142.5,411.2 L162.5,411.2 L172.5,413.8 L185.0,416.2 L207.5,415.0 L217.5,417.5 L240.0,420.0 L252.5,423.8 L262.5,427.5 L275.0,437.5 L287.5,440.0 L300.0,442.5 L312.5,447.5 L325.0,456.2 L335.0,457.5 L362.5,456.2 L375.0,453.8 L390.0,447.5 L405.0,445.5 L412.5,445.0 L415.0,445.0 L452.5,448.8 L465.0,453.8 L477.5,457.5 L490.0,465.0 L497.5,472.5 L501.2,482.5 L515.0,488.8 L525.0,492.5 L542.5,497.5 L552.5,506.2 L560.0,510.0 L575.0,508.8 L595.0,508.0 L610.0,509.5 L622.5,511.2 L632.5,515.5 L645.0,515.0 L665.0,514.5 L675.0,513.0 L690.0,506.2 L705.0,500.0 L715.0,497.5 L735.0,495.0 L750.0,493.8 L765.0,492.5 L780.0,491.8 L792.5,488.8 L800.0,487.0 L815.0,488.8 L827.5,488.2 L830.0,488.2 L855.0,490.0 L875.0,488.8 L892.5,487.5 L915.0,486.2 L935.0,485.5 L950.0,484.5 L962.5,483.0 L980.0,481.2 L995.0,480.0 L1005.0,483.8 L1015.0,486.2 L1030.0,487.0 L1041.2,489.5" fill="none" stroke="#ffb400" stroke-width="1.2" stroke-linejoin="round" />
<path d="M7.5,425.5 L30.0,422.0 L50.0,422.5 L82.5,422.0 L95.0,417.5 L117.5,415.5 L130.0,411.2 L142.5,407.5 L155.0,407.0 L175.0,407.5 L192.5,406.2 L207.5,408.8 L220.0,407.5 L235.0,403.0 L255.0,401.2 L275.0,401.2 L291.2,403.8 L296.2,410.5 L322.5,412.5 L332.5,414.5 L350.0,413.0 L365.0,413.0 L375.0,415.0 L390.0,416.2 L405.0,418.8 L412.5,420.0 L415.0,421.2 L425.0,426.2 L435.0,436.2 L457.5,437.5 L472.5,440.8 L482.5,446.2 L500.0,447.5 L515.0,450.5 L525.0,451.2 L540.0,448.0 L560.0,445.0 L572.5,449.5 L590.0,451.2 L610.0,451.8 L622.5,455.0 L635.0,458.0 L648.8,460.5 L652.5,470.0 L656.2,478.8 L667.5,481.2 L677.5,487.5 L690.0,489.5 L702.5,492.0 L710.0,496.2 L722.5,498.0 L735.0,496.2 L750.0,497.5 L765.0,500.0 L782.5,502.5 L790.0,506.2 L805.0,507.0 L815.0,511.2 L827.5,512.5 L830.0,512.5 L845.0,508.8 L862.5,504.5 L887.5,501.2 L917.5,498.8 L940.0,496.2 L960.0,491.8 L980.0,491.2 L990.0,490.5 L1005.0,493.0 L1030.0,493.0 L1047.5,492.5 L1067.5,489.5 L1085.0,487.5 L1105.0,487.5 L1117.5,486.2 L1130.0,485.5" fill="none" stroke="#ff00ff" stroke-width="1.2" stroke-linejoin="round" />
<path d="M7.5,429.5 L37.5,429.2 L52.5,423.8 L82.5,423.0 L120.0,423.0 L140.0,421.2 L155.0,417.0 L265.0,416.8 L275.0,413.8 L295.0,411.2 L370.0,411.2 L385.0,414.5 L412.5,414.5 L415.0,413.8 L427.5,421.2 L435.0,427.5 L470.0,427.5 L482.5,432.5 L575.0,432.5 L590.0,437.5 L635.0,437.5 L648.8,440.5 L656.2,457.5 L667.5,463.8 L677.5,471.2 L705.0,472.0 L715.0,473.8 L725.0,479.5 L740.0,481.2 L827.5,481.2 L830.0,481.2 L862.5,481.8 L872.5,485.5 L887.5,489.5 L905.0,490.5 L930.0,491.2 L945.0,494.0 L953.0,496.0 L957.0,497.5 L962.0,503.4 L1047.5,503.4 L1093.8,502.5 L1102.5,498.8 L1112.5,497.0 L1120.0,492.0 L1130.0,491.2" fill="none" stroke="#0096ff" stroke-width="1.3" stroke-linejoin="round" />
<line x1="5.0" y1="605.5" x2="1153.0" y2="605.5" stroke="#a0a000" stroke-width="1" shape-rendering="crispEdges"/>
<clipPath id="c2"><rect x="0" y="588" width="1160" height="122.3"/></clipPath><g clip-path="url(#c2)">
<path d="M5.5,606.0V608.0H11.5V606.0ZM11.5,606.0V607.8H17.5V606.0ZM17.5,606.0V607.6H23.5V606.0ZM23.5,606.0V607.4H29.5V606.0ZM29.5,606.0V607.3H35.5V606.0ZM35.5,606.0V607.4H41.5V606.0ZM41.5,606.0V607.4H47.5V606.0ZM47.5,606.0V607.5H53.5V606.0ZM53.5,606.0V607.5H59.5V606.0ZM59.5,606.0V607.5H65.5V606.0ZM65.5,606.0V607.3H71.5V606.0ZM83.5,606.0V604.8H89.5V606.0ZM89.5,606.0V604.4H95.5V606.0ZM95.5,606.0V604.5H101.5V606.0ZM101.5,606.0V604.3H107.5V606.0ZM107.5,606.0V604.1H113.5V606.0ZM113.5,606.0V604.5H119.5V606.0ZM119.5,606.0V606.6H125.5V606.0ZM125.5,606.0V608.7H131.5V606.0ZM131.5,606.0V612.3H137.5V606.0ZM137.5,606.0V614.8H143.5V606.0ZM143.5,606.0V615.2H149.5V606.0ZM149.5,606.0V615.2H155.5V606.0ZM155.5,606.0V614.7H161.5V606.0ZM161.5,606.0V613.6H167.5V606.0ZM167.5,606.0V611.9H173.5V606.0ZM173.5,606.0V609.0H179.5V606.0ZM185.5,606.0V605.0H191.5V606.0ZM191.5,606.0V604.0H197.5V606.0ZM197.5,606.0V603.9H203.5V606.0ZM203.5,606.0V603.8H209.5V606.0ZM215.5,606.0V608.0H221.5V606.0ZM221.5,606.0V610.3H227.5V606.0ZM227.5,606.0V609.6H233.5V606.0ZM233.5,606.0V608.6H239.5V606.0ZM239.5,606.0V607.9H245.5V606.0ZM245.5,606.0V607.7H251.5V606.0ZM251.5,606.0V607.5H257.5V606.0ZM257.5,606.0V607.4H263.5V606.0ZM263.5,606.0V609.0H269.5V606.0ZM269.5,606.0V610.6H275.5V606.0ZM275.5,606.0V611.6H281.5V606.0ZM281.5,606.0V612.2H287.5V606.0ZM287.5,606.0V612.7H293.5V606.0ZM293.5,606.0V611.6H299.5V606.0ZM299.5,606.0V610.4H305.5V606.0ZM305.5,606.0V609.3H311.5V606.0ZM311.5,606.0V608.9H317.5V606.0ZM317.5,606.0V608.6H323.5V606.0ZM323.5,606.0V608.0H329.5V606.0ZM329.5,606.0V607.2H335.5V606.0ZM341.5,606.0V604.2H347.5V606.0ZM347.5,606.0V602.6H353.5V606.0ZM353.5,606.0V601.2H359.5V606.0ZM359.5,606.0V599.8H365.5V606.0ZM365.5,606.0V598.8H371.5V606.0ZM371.5,606.0V598.0H377.5V606.0ZM377.5,606.0V597.3H383.5V606.0ZM383.5,606.0V597.5H389.5V606.0ZM389.5,606.0V597.8H395.5V606.0ZM395.5,606.0V598.4H401.5V606.0ZM401.5,606.0V600.7H407.5V606.0ZM407.5,606.0V603.0H413.5V606.0ZM413.5,606.0V604.6H419.5V606.0ZM425.5,606.0V607.2H431.5V606.0ZM431.5,606.0V607.8H437.5V606.0ZM437.5,606.0V608.2H443.5V606.0ZM443.5,606.0V607.8H449.5V606.0ZM449.5,606.0V607.5H455.5V606.0ZM455.5,606.0V607.9H461.5V606.0ZM461.5,606.0V608.3H467.5V606.0ZM467.5,606.0V608.4H473.5V606.0ZM473.5,606.0V608.5H479.5V606.0ZM479.5,606.0V608.6H485.5V606.0ZM485.5,606.0V608.7H491.5V606.0ZM491.5,606.0V611.0H497.5V606.0ZM497.5,606.0V616.0H503.5V606.0ZM503.5,606.0V619.1H509.5V606.0ZM509.5,606.0V621.5H515.5V606.0ZM515.5,606.0V620.7H521.5V606.0ZM521.5,606.0V619.2H527.5V606.0ZM527.5,606.0V616.7H533.5V606.0ZM533.5,606.0V614.3H539.5V606.0ZM539.5,606.0V611.6H545.5V606.0ZM545.5,606.0V609.6H551.5V606.0ZM551.5,606.0V606.8H557.5V606.0ZM557.5,606.0V604.1H563.5V606.0ZM563.5,606.0V601.8H569.5V606.0ZM569.5,606.0V599.9H575.5V606.0ZM575.5,606.0V598.6H581.5V606.0ZM581.5,606.0V599.3H587.5V606.0ZM587.5,606.0V600.5H593.5V606.0ZM593.5,606.0V600.8H599.5V606.0ZM599.5,606.0V601.1H605.5V606.0ZM605.5,606.0V601.8H611.5V606.0ZM611.5,606.0V602.6H617.5V606.0ZM617.5,606.0V603.2H623.5V606.0ZM623.5,606.0V603.9H629.5V606.0ZM629.5,606.0V603.8H635.5V606.0ZM635.5,606.0V602.7H641.5V606.0ZM641.5,606.0V601.0H647.5V606.0ZM647.5,606.0V599.1H653.5V606.0ZM653.5,606.0V598.0H659.5V606.0ZM659.5,606.0V597.3H665.5V606.0ZM665.5,606.0V596.7H671.5V606.0ZM671.5,606.0V596.6H677.5V606.0ZM677.5,606.0V596.8H683.5V606.0ZM683.5,606.0V596.9H689.5V606.0ZM689.5,606.0V597.2H695.5V606.0ZM695.5,606.0V597.5H701.5V606.0ZM701.5,606.0V597.9H707.5V606.0ZM707.5,606.0V598.3H713.5V606.0ZM713.5,606.0V599.5H719.5V606.0ZM719.5,606.0V600.6H725.5V606.0ZM725.5,606.0V601.8H731.5V606.0ZM731.5,606.0V603.5H737.5V606.0ZM737.5,606.0V605.1H743.5V606.0ZM743.5,606.0V604.6H749.5V606.0ZM749.5,606.0V603.8H755.5V606.0ZM755.5,606.0V603.1H761.5V606.0ZM761.5,606.0V603.1H767.5V606.0ZM767.5,606.0V603.3H773.5V606.0ZM773.5,606.0V603.5H779.5V606.0ZM779.5,606.0V604.3H785.5V606.0ZM785.5,606.0V605.0H791.5V606.0ZM803.5,606.0V607.5H809.5V606.0ZM809.5,606.0V608.2H815.5V606.0ZM815.5,606.0V608.4H821.5V606.0ZM821.5,606.0V608.2H827.5V606.0ZM827.5,606.0V607.8H833.5V606.0ZM833.5,606.0V608.3H839.5V606.0ZM839.5,606.0V608.8H845.5V606.0ZM845.5,606.0V609.5H851.5V606.0ZM851.5,606.0V610.0H857.5V606.0ZM857.5,606.0V608.6H863.5V606.0ZM863.5,606.0V607.5H869.5V606.0ZM875.5,606.0V605.3H881.5V606.0ZM881.5,606.0V604.7H887.5V606.0ZM887.5,606.0V603.9H893.5V606.0ZM893.5,606.0V603.5H899.5V606.0ZM899.5,606.0V604.2H905.5V606.0ZM905.5,606.0V605.2H911.5V606.0ZM917.5,606.0V606.6H923.5V606.0ZM941.5,606.0V605.4H947.5V606.0ZM947.5,606.0V604.7H953.5V606.0ZM953.5,606.0V604.4H959.5V606.0ZM959.5,606.0V604.1H965.5V606.0ZM965.5,606.0V604.2H971.5V606.0ZM971.5,606.0V604.5H977.5V606.0ZM977.5,606.0V604.8H983.5V606.0ZM983.5,606.0V605.0H989.5V606.0ZM995.5,606.0V607.9H1001.5V606.0ZM1001.5,606.0V610.0H1007.5V606.0ZM1007.5,606.0V612.3H1013.5V606.0ZM1013.5,606.0V612.6H1019.5V606.0ZM1019.5,606.0V612.7H1025.5V606.0ZM1025.5,606.0V612.0H1031.5V606.0ZM1031.5,606.0V611.4H1037.5V606.0ZM1037.5,606.0V611.1H1043.5V606.0Z" fill="#ffff80" stroke="#a0a000" stroke-width="0.9"/>
<line x1="5.0" y1="605.5" x2="1153.0" y2="605.5" stroke="#a0a000" stroke-width="1" shape-rendering="crispEdges"/>
<path d="M8.8,595.0C12.3,595.2 23.1,595.8 30.0,596.2C36.9,596.8 42.5,597.5 50.0,598.0C57.5,598.5 66.7,599.4 75.0,599.5C83.3,599.6 92.9,598.9 100.0,598.8C107.1,598.6 111.7,598.8 117.5,598.8C123.3,598.8 129.6,598.1 135.0,598.8C140.4,599.4 145.4,601.2 150.0,602.5C154.6,603.8 158.3,605.0 162.5,606.2C166.7,607.5 170.0,609.0 175.0,610.0C180.0,611.0 187.1,611.5 192.5,612.0C197.9,612.5 202.1,612.7 207.5,613.0C212.9,613.3 219.6,613.4 225.0,613.8C230.4,614.1 234.2,614.4 240.0,615.0C245.8,615.6 254.2,616.6 260.0,617.5C265.8,618.4 268.3,619.2 275.0,620.5C281.7,621.8 292.1,623.4 300.0,625.0C307.9,626.6 317.1,629.0 322.5,630.0C327.9,631.0 327.9,631.1 332.5,631.2C337.1,631.4 344.6,631.2 350.0,630.8C355.4,630.3 360.0,629.7 365.0,628.8C370.0,627.8 374.6,626.7 380.0,625.0C385.4,623.3 392.1,620.5 397.5,618.8C402.9,617.0 409.6,615.1 412.5,614.2C415.4,613.4 410.4,614.0 415.0,613.8C419.6,613.5 431.7,612.4 440.0,612.5C448.3,612.6 457.5,613.8 465.0,614.5C472.5,615.2 479.2,615.9 485.0,617.0C490.8,618.1 495.0,619.5 500.0,621.2C505.0,623.0 510.0,625.3 515.0,627.5C520.0,629.7 525.0,632.2 530.0,634.5C535.0,636.8 540.4,639.6 545.0,641.2C549.6,642.9 553.3,644.0 557.5,644.5C561.7,645.0 564.6,644.8 570.0,644.2C575.4,643.7 583.3,642.5 590.0,641.2C596.7,640.0 603.3,638.2 610.0,637.0C616.7,635.8 623.3,635.3 630.0,634.2C636.7,633.2 643.3,632.0 650.0,630.5C656.7,629.0 663.3,627.0 670.0,625.0C676.7,623.0 683.3,620.6 690.0,618.2C696.7,615.9 703.8,613.0 710.0,610.8C716.2,608.5 721.7,606.5 727.5,605.0C733.3,603.5 738.8,602.9 745.0,602.0C751.2,601.1 758.3,600.2 765.0,599.5C771.7,598.8 778.3,597.9 785.0,597.5C791.7,597.1 799.2,597.0 805.0,597.0C810.8,597.0 816.2,597.2 820.0,597.5C823.8,597.8 825.8,598.3 827.5,598.5C829.2,598.7 827.1,598.4 830.0,598.8C832.9,599.1 840.0,599.8 845.0,600.5C850.0,601.2 855.0,602.4 860.0,603.0C865.0,603.6 870.0,604.0 875.0,604.0C880.0,604.0 885.0,603.3 890.0,603.0C895.0,602.7 900.0,602.2 905.0,602.0C910.0,601.8 915.0,601.9 920.0,602.0C925.0,602.1 930.0,602.4 935.0,602.5C940.0,602.6 945.0,602.7 950.0,602.5C955.0,602.3 960.0,601.6 965.0,601.2C970.0,600.9 975.0,600.7 980.0,600.5C985.0,600.3 990.0,600.0 995.0,600.0C1000.0,600.0 1005.0,600.3 1010.0,600.8C1015.0,601.2 1020.8,601.8 1025.0,602.5C1029.2,603.2 1032.3,604.4 1035.0,605.0C1037.7,605.6 1040.2,606.0 1041.2,606.2" fill="none" stroke="#1e96ff" stroke-width="1.9" stroke-linejoin="round" />
<path d="M8.8,597.0C12.3,597.1 23.1,597.1 30.0,597.5C36.9,597.9 43.8,599.0 50.0,599.5C56.2,600.0 60.8,600.8 67.5,600.5C74.2,600.2 82.1,598.1 90.0,597.5C97.9,596.9 108.3,596.0 115.0,596.8C121.7,597.5 125.8,600.0 130.0,602.0C134.2,604.0 136.7,607.1 140.0,608.8C143.3,610.4 146.2,611.0 150.0,612.0C153.8,613.0 158.8,614.1 162.5,614.5C166.2,614.9 169.2,615.0 172.5,614.5C175.8,614.0 179.2,612.0 182.5,611.2C185.8,610.5 188.3,610.1 192.5,610.0C196.7,609.9 202.1,609.4 207.5,610.8C212.9,612.1 219.6,617.2 225.0,618.2C230.4,619.3 234.2,616.9 240.0,617.0C245.8,617.1 254.2,617.3 260.0,618.8C265.8,620.2 270.0,623.9 275.0,625.8C280.0,627.6 284.6,629.3 290.0,630.0C295.4,630.7 302.1,629.6 307.5,630.0C312.9,630.4 318.3,632.1 322.5,632.5C326.7,632.9 327.9,633.3 332.5,632.5C337.1,631.7 344.6,629.2 350.0,627.5C355.4,625.8 360.0,623.9 365.0,622.0C370.0,620.1 374.6,618.1 380.0,616.2C385.4,614.4 392.1,611.5 397.5,610.8C402.9,610.0 409.6,611.8 412.5,612.0C415.4,612.2 412.1,611.6 415.0,612.0C417.9,612.4 423.8,614.0 430.0,614.5C436.2,615.0 445.8,614.5 452.5,615.0C459.2,615.5 464.2,616.7 470.0,617.5C475.8,618.3 483.3,618.8 487.5,620.0C491.7,621.2 492.5,622.7 495.0,625.0C497.5,627.3 499.6,630.9 502.5,633.8C505.4,636.6 509.2,640.1 512.5,642.0C515.8,643.9 518.3,644.4 522.5,645.0C526.7,645.6 532.9,645.6 537.5,645.8C542.1,645.9 546.7,646.1 550.0,645.8C553.3,645.4 554.2,644.9 557.5,643.8C560.8,642.6 566.2,640.2 570.0,638.8C573.8,637.3 576.7,635.5 580.0,635.0C583.3,634.5 585.8,636.0 590.0,635.8C594.2,635.5 598.3,633.8 605.0,633.2C611.7,632.7 624.2,633.2 630.0,632.5C635.8,631.8 635.8,630.6 640.0,628.8C644.2,626.9 650.0,623.5 655.0,621.2C660.0,619.0 664.2,617.5 670.0,615.5C675.8,613.5 683.3,611.3 690.0,609.2C696.7,607.2 703.8,604.5 710.0,603.0C716.2,601.5 722.5,600.7 727.5,600.5C732.5,600.3 734.6,602.6 740.0,602.0C745.4,601.4 753.8,598.0 760.0,597.0C766.2,596.0 771.7,595.8 777.5,595.8C783.3,595.7 789.2,596.1 795.0,596.8C800.8,597.4 807.1,598.9 812.5,599.5C817.9,600.1 824.6,600.3 827.5,600.5C830.4,600.7 827.5,600.1 830.0,600.5C832.5,600.9 838.3,602.0 842.5,603.0C846.7,604.0 850.4,606.0 855.0,606.2C859.6,606.5 865.0,605.2 870.0,604.5C875.0,603.8 880.8,602.8 885.0,602.0C889.2,601.2 891.7,600.2 895.0,600.0C898.3,599.8 901.7,600.1 905.0,600.5C908.3,600.9 910.0,602.1 915.0,602.5C920.0,602.9 929.2,603.2 935.0,603.0C940.8,602.8 945.0,601.9 950.0,601.2C955.0,600.6 958.8,599.6 965.0,599.2C971.2,598.9 981.7,598.7 987.5,599.2C993.3,599.8 996.2,601.2 1000.0,602.5C1003.8,603.8 1006.7,606.0 1010.0,607.0C1013.3,608.0 1016.7,608.3 1020.0,608.8C1023.3,609.2 1026.7,609.1 1030.0,609.5C1033.3,609.9 1038.3,611.0 1040.0,611.2" fill="none" stroke="#ff3010" stroke-width="1.9" stroke-linejoin="round" />
<path d="M8.8,698.0 L17.5,697.0 L25.0,690.0 L32.5,687.5 L45.0,688.2 L67.5,686.8 L75.0,677.5 L86.2,667.0 L100.0,667.5 L105.0,668.8 L116.2,667.5 L125.0,690.0 L132.5,705.0 L137.5,709.2 L145.0,705.0 L150.0,700.0 L160.0,696.2 L170.0,698.0 L177.5,693.8 L190.0,683.2 L197.5,683.8 L207.5,687.5 L215.0,695.0 L225.0,710.0 L232.5,705.0 L242.5,695.0 L252.5,697.5 L260.0,705.0 L267.5,709.2 L277.5,708.8 L285.0,703.0 L300.0,702.5 L307.5,699.5 L315.0,703.8 L325.0,709.2 L332.5,705.0 L342.5,690.0 L352.5,677.5 L362.5,670.0 L375.0,667.5 L390.0,666.2 L400.0,668.8 L410.0,676.2 L413.8,683.8 L415.0,683.8 L422.5,697.5 L430.0,704.5 L442.5,701.2 L455.0,706.2 L467.5,708.8 L480.0,708.8 L490.0,703.8 L500.0,709.2 L512.5,709.2 L525.0,705.0 L540.0,705.0 L555.0,702.5 L567.5,697.5 L577.5,690.0 L585.0,686.2 L592.5,691.2 L600.0,697.5 L612.5,702.0 L622.5,707.5 L627.5,709.2 L637.5,705.0 L645.0,691.2 L652.5,675.0 L662.5,668.8 L675.0,666.2 L690.0,665.0 L700.0,666.2 L710.0,663.2 L720.0,666.2 L727.5,670.0 L735.0,678.8 L740.0,683.8 L750.0,676.2 L757.5,667.5 L765.0,663.8 L775.0,667.5 L785.0,673.0 L795.0,674.2 L805.0,680.0 L815.0,687.5 L822.5,683.8 L828.8,687.5 L830.0,687.5 L837.5,700.0 L845.0,707.5 L852.5,710.0 L860.0,702.5 L867.5,687.5 L875.0,675.0 L882.5,668.8 L890.0,665.0 L900.0,665.0 L907.5,670.0 L915.0,678.8 L925.0,685.0 L937.5,686.2 L947.5,682.5 L955.0,672.5 L962.5,666.2 L970.0,667.0 L980.0,672.5 L990.0,682.5 L997.5,692.5 L1005.0,702.5 L1012.5,704.5 L1020.0,701.2 L1027.5,699.5 L1035.0,702.5 L1041.2,705.0" fill="none" stroke="#ffc020" stroke-width="1.7" stroke-linejoin="round" />
<path d="M8.8,685.0 L17.5,685.5 L25.0,688.8 L45.0,698.0 L57.5,685.0 L68.8,672.0 L82.5,670.8 L95.0,667.5 L105.0,665.0 L116.2,665.0 L125.0,678.8 L135.0,692.5 L145.0,702.5 L155.0,708.0 L165.0,710.0 L175.0,707.5 L185.0,697.5 L195.0,683.8 L206.2,677.0 L213.8,680.8 L220.0,690.0 L230.0,702.0 L240.0,707.5 L252.5,707.5 L265.0,707.0 L277.5,707.5 L285.0,707.0 L293.8,710.0 L335.0,710.0 L345.0,706.2 L352.5,697.5 L360.0,683.8 L370.0,677.5 L380.0,667.5 L391.2,662.5 L402.5,667.5 L410.0,675.0 L413.8,681.2 L415.0,685.0 L422.5,698.8 L430.0,706.2 L442.5,709.2 L460.0,709.2 L490.0,709.2 L500.0,710.0 L527.5,710.0 L540.0,708.0 L552.5,703.8 L560.0,695.0 L570.0,678.8 L577.5,675.8 L582.5,677.0 L590.0,687.5 L600.0,692.5 L610.0,698.8 L620.0,705.0 L627.5,710.0 L637.5,709.2 L645.0,698.8 L655.0,680.0 L665.0,672.5 L675.0,667.5 L682.5,664.5 L727.5,664.5 L735.0,670.0 L742.5,675.0 L752.5,675.0 L762.5,671.2 L777.5,670.8 L787.5,670.0 L800.0,673.8 L807.5,685.0 L817.5,697.5 L825.0,705.0 L828.8,706.2 L830.0,705.0 L840.0,704.5 L850.0,707.5 L860.0,708.0 L870.0,697.5 L880.0,682.5 L890.0,675.0 L900.0,666.2 L907.5,665.8 L915.0,671.2 L925.0,680.0 L935.0,690.0 L940.0,694.2 L947.5,694.2 L955.0,690.0 L962.5,681.2 L972.5,668.8 L980.0,665.8 L986.2,664.5 L992.5,671.2 L1000.0,679.5 L1007.5,692.5 L1015.0,703.8 L1022.5,707.5 L1030.0,710.0 L1041.2,710.0" fill="none" stroke="#1e96ff" stroke-width="1.7" stroke-linejoin="round" />
<path d="M8.8,692.0 L15.0,687.5 L30.0,688.8 L37.5,692.0 L45.0,695.5 L51.2,683.8 L58.8,680.0 L62.5,676.2 L68.8,687.0 L75.0,673.8 L80.0,681.2 L87.5,673.8 L100.0,675.5 L110.0,675.5 L116.2,673.0 L122.5,690.0 L130.0,700.5 L135.0,701.2 L140.0,709.2 L147.5,700.5 L152.5,698.0 L162.5,700.0 L171.2,698.8 L177.5,690.0 L187.5,685.0 L195.0,677.5 L200.0,685.0 L210.0,692.0 L220.0,696.2 L230.0,695.0 L240.0,700.0 L250.0,698.0 L260.0,700.0 L267.5,697.5 L277.5,697.0 L285.0,710.0 L293.8,710.0 L296.2,704.5 L307.5,703.0 L322.5,702.5 L332.5,695.0 L343.8,685.8 L350.0,689.5 L360.0,683.8 L368.8,678.8 L375.0,670.0 L380.0,673.0 L390.0,674.2 L397.5,682.0 L405.0,685.0 L413.8,693.0 L415.0,693.0 L422.5,695.0 L428.8,702.5 L433.8,695.0 L442.5,701.2 L452.5,698.8 L458.8,700.5 L465.0,693.0 L472.5,696.2 L481.2,695.0 L490.0,702.5 L500.0,709.2 L507.5,705.0 L515.0,704.5 L525.0,700.5 L537.5,702.0 L550.0,698.8 L555.0,687.0 L560.0,688.8 L566.2,680.8 L572.5,685.0 L585.0,690.0 L592.5,690.0 L597.5,693.2 L602.5,687.0 L610.0,696.2 L617.5,701.2 L627.5,703.8 L635.0,698.8 L645.0,680.8 L655.0,680.8 L665.0,675.0 L675.0,672.5 L680.0,667.0 L687.5,671.2 L697.5,675.5 L710.0,673.8 L716.2,679.5 L723.8,676.2 L728.8,679.5 L735.0,690.5 L745.0,682.5 L750.0,680.8 L765.0,683.8 L775.0,682.0 L782.5,684.2 L788.8,676.2 L797.5,680.0 L806.2,696.8 L815.0,692.5 L825.0,688.0 L828.8,693.0 L830.0,692.5 L837.5,695.0 L845.0,698.8 L853.8,701.8 L860.0,685.5 L872.5,689.2 L880.0,683.8 L887.5,680.0 L895.0,675.5 L902.5,677.5 L908.8,677.5 L915.0,687.5 L926.2,687.5 L932.5,695.8 L940.0,690.0 L950.0,691.2 L957.5,680.0 L962.5,667.5 L970.0,668.8 L977.5,673.8 L985.0,673.2 L992.5,687.5 L1000.0,693.0 L1005.0,700.0 L1012.5,702.5 L1020.0,707.5 L1027.5,700.5 L1033.8,701.2 L1041.2,705.0" fill="none" stroke="#0a640a" stroke-width="1.9" stroke-linejoin="round" />
</g>
<line x1="1043.5" y1="366.0" x2="1043.5" y2="710.0" stroke="#33cc00" stroke-width="1" shape-rendering="crispEdges"/>
<rect x="5" y="366" width="1149" height="1" fill="#000"/>
<rect x="1153" y="366" width="1" height="345" fill="#000"/>
<text transform="translate(25.0,378.0) scale(1,1.22)" text-anchor="start" fill="#000" font-size="10.2">4</text>
<text transform="translate(103.0,378.0) scale(1,1.22)" text-anchor="start" fill="#000" font-size="10.2">7</text>
<text transform="translate(181.0,378.0) scale(1,1.22)" text-anchor="start" fill="#000" font-size="10.2">10</text>
<text transform="translate(259.0,378.0) scale(1,1.22)" text-anchor="start" fill="#000" font-size="10.2">8/1</text>
<text transform="translate(337.0,378.0) scale(1,1.22)" text-anchor="start" fill="#000" font-size="10.2">4</text>
<text transform="translate(415.0,378.0) scale(1,1.22)" text-anchor="start" fill="#000" font-size="10.2">7</text>
<text transform="translate(493.0,378.0) scale(1,1.22)" text-anchor="start" fill="#000" font-size="10.2">10</text>
<text transform="translate(577.0,378.0) scale(1,1.22)" text-anchor="start" fill="#000" font-size="10.2">9/1</text>
<text transform="translate(649.0,378.0) scale(1,1.22)" text-anchor="start" fill="#000" font-size="10.2">4</text>
<text transform="translate(727.0,378.0) scale(1,1.22)" text-anchor="start" fill="#000" font-size="10.2">7</text>
<text transform="translate(805.0,378.0) scale(1,1.22)" text-anchor="start" fill="#000" font-size="10.2">10</text>
<text transform="translate(889.0,378.0) scale(1,1.22)" text-anchor="start" fill="#000" font-size="10.2">10/1</text>
<text transform="translate(961.0,378.0) scale(1,1.22)" text-anchor="start" fill="#000" font-size="10.2">4</text>
<text transform="translate(1039.0,378.0) scale(1,1.22)" text-anchor="start" fill="#000" font-size="10.2">7</text>
<clipPath id="c2t"><rect x="1100" y="366" width="60" height="344.5"/></clipPath><g clip-path="url(#c2t)">
<text transform="translate(1150.5,397.8) scale(1,1.22)" text-anchor="end" fill="#000" font-size="10.2">18000</text>
<text transform="translate(1150.5,421.2) scale(1,1.22)" text-anchor="end" fill="#000" font-size="10.2">16000</text>
<text transform="translate(1150.5,444.5) scale(1,1.22)" text-anchor="end" fill="#000" font-size="10.2">14000</text>
<text transform="translate(1150.5,467.8) scale(1,1.22)" text-anchor="end" fill="#000" font-size="10.2">12000</text>
<text transform="translate(1150.5,491.2) scale(1,1.22)" text-anchor="end" fill="#000" font-size="10.2">10000</text>
<text transform="translate(1150.5,514.5) scale(1,1.22)" text-anchor="end" fill="#000" font-size="10.2">8000</text>
<text transform="translate(1150.5,533.0) scale(1,1.22)" text-anchor="end" fill="#000" font-size="10.2">1000000</text>
<text transform="translate(1150.5,560.5) scale(1,1.22)" text-anchor="end" fill="#000" font-size="10.2">500000</text>
<text transform="translate(1150.5,587.5) scale(1,1.22)" text-anchor="end" fill="#000" font-size="10.2">0</text>
<text transform="translate(1150.5,604.8) scale(1,1.22)" text-anchor="end" fill="#000" font-size="10.2">0</text>
<text transform="translate(1150.5,622.0) scale(1,1.22)" text-anchor="end" fill="#000" font-size="10.2">-600</text>
<text transform="translate(1150.5,637.8) scale(1,1.22)" text-anchor="end" fill="#000" font-size="10.2">-1200</text>
<text transform="translate(1150.5,660.2) scale(1,1.22)" text-anchor="end" fill="#000" font-size="10.2">100</text>
<text transform="translate(1150.5,673.8) scale(1,1.22)" text-anchor="end" fill="#000" font-size="10.2">75</text>
<text transform="translate(1150.5,686.5) scale(1,1.22)" text-anchor="end" fill="#000" font-size="10.2">50</text>
<text transform="translate(1150.5,700.0) scale(1,1.22)" text-anchor="end" fill="#000" font-size="10.2">25</text>
<text transform="translate(1150.5,713.0) scale(1,1.22)" text-anchor="end" fill="#000" font-size="10.2">0</text>
</g>
<line x1="1090.0" y1="398.5" x2="1154.0" y2="398.5" stroke="#c0c0c0" stroke-width="1" shape-rendering="crispEdges"/>
<line x1="1090.0" y1="421.5" x2="1154.0" y2="421.5" stroke="#c0c0c0" stroke-width="1" shape-rendering="crispEdges"/>
<line x1="1090.0" y1="445.5" x2="1154.0" y2="445.5" stroke="#c0c0c0" stroke-width="1" shape-rendering="crispEdges"/>
<line x1="1090.0" y1="468.5" x2="1154.0" y2="468.5" stroke="#c0c0c0" stroke-width="1" shape-rendering="crispEdges"/>
<line x1="1090.0" y1="491.5" x2="1154.0" y2="491.5" stroke="#c0c0c0" stroke-width="1" shape-rendering="crispEdges"/>
<line x1="1090.0" y1="515.5" x2="1154.0" y2="515.5" stroke="#c0c0c0" stroke-width="1" shape-rendering="crispEdges"/>
<line x1="1090.0" y1="533.5" x2="1154.0" y2="533.5" stroke="#c0c0c0" stroke-width="1" shape-rendering="crispEdges"/>
<line x1="1090.0" y1="561.5" x2="1154.0" y2="561.5" stroke="#c0c0c0" stroke-width="1" shape-rendering="crispEdges"/>
<line x1="1090.0" y1="588.5" x2="1154.0" y2="588.5" stroke="#c0c0c0" stroke-width="1" shape-rendering="crispEdges"/>
<line x1="1090.0" y1="622.5" x2="1154.0" y2="622.5" stroke="#c0c0c0" stroke-width="1" shape-rendering="crispEdges"/>
<line x1="1090.0" y1="638.5" x2="1154.0" y2="638.5" stroke="#c0c0c0" stroke-width="1" shape-rendering="crispEdges"/>
<line x1="1090.0" y1="660.5" x2="1154.0" y2="660.5" stroke="#c0c0c0" stroke-width="1" shape-rendering="crispEdges"/>
<line x1="1090.0" y1="674.5" x2="1154.0" y2="674.5" stroke="#c0c0c0" stroke-width="1" shape-rendering="crispEdges"/>
<line x1="1090.0" y1="687.5" x2="1154.0" y2="687.5" stroke="#c0c0c0" stroke-width="1" shape-rendering="crispEdges"/>
<line x1="1090.0" y1="700.5" x2="1154.0" y2="700.5" stroke="#c0c0c0" stroke-width="1" shape-rendering="crispEdges"/>
<line x1="1090.0" y1="605.5" x2="1153.0" y2="605.5" stroke="#a0a000" stroke-width="1" shape-rendering="crispEdges"/>
<line x1="1090.0" y1="703.5" x2="1154.0" y2="703.5" stroke="#a8a8e0" stroke-width="1" shape-rendering="crispEdges"/>
<text transform="translate(534.5,699.5) scale(1,1.22)" text-anchor="start" fill="#b4b4ea" font-size="10.2">-8072</text>
</g>
<g id="p3">
<line x1="8.0" y1="757.5" x2="1157.0" y2="757.5" stroke="#c0c0c0" stroke-width="1" shape-rendering="crispEdges"/>
<line x1="8.0" y1="798.5" x2="1157.0" y2="798.5" stroke="#c0c0c0" stroke-width="1" shape-rendering="crispEdges"/>
<line x1="8.0" y1="840.5" x2="1157.0" y2="840.5" stroke="#c0c0c0" stroke-width="1" shape-rendering="crispEdges"/>
<line x1="8.0" y1="881.5" x2="1157.0" y2="881.5" stroke="#c0c0c0" stroke-width="1" shape-rendering="crispEdges"/>
<line x1="8.0" y1="923.5" x2="1157.0" y2="923.5" stroke="#c0c0c0" stroke-width="1" shape-rendering="crispEdges"/>
<line x1="8.0" y1="965.5" x2="1157.0" y2="965.5" stroke="#c0c0c0" stroke-width="1" shape-rendering="crispEdges"/>
<line x1="8.0" y1="1003.5" x2="1157.0" y2="1003.5" stroke="#c0c0c0" stroke-width="1" shape-rendering="crispEdges"/>
<line x1="8.0" y1="1034.5" x2="1157.0" y2="1034.5" stroke="#c0c0c0" stroke-width="1" shape-rendering="crispEdges"/>
<line x1="26.5" y1="717.0" x2="26.5" y2="1065.0" stroke="#c0c0c0" stroke-width="1" shape-rendering="crispEdges"/>
<line x1="104.5" y1="717.0" x2="104.5" y2="1065.0" stroke="#c0c0c0" stroke-width="1" shape-rendering="crispEdges"/>
<line x1="182.5" y1="717.0" x2="182.5" y2="1065.0" stroke="#c0c0c0" stroke-width="1" shape-rendering="crispEdges"/>
<line x1="260.5" y1="717.0" x2="260.5" y2="1065.0" stroke="#c0c0c0" stroke-width="1" shape-rendering="crispEdges"/>
<line x1="338.5" y1="717.0" x2="338.5" y2="1065.0" stroke="#c0c0c0" stroke-width="1" shape-rendering="crispEdges"/>
<line x1="416.5" y1="717.0" x2="416.5" y2="1065.0" stroke="#c0c0c0" stroke-width="1" shape-rendering="crispEdges"/>
<line x1="494.5" y1="717.0" x2="494.5" y2="1065.0" stroke="#c0c0c0" stroke-width="1" shape-rendering="crispEdges"/>
<line x1="578.5" y1="717.0" x2="578.5" y2="1065.0" stroke="#c0c0c0" stroke-width="1" shape-rendering="crispEdges"/>
<line x1="650.5" y1="717.0" x2="650.5" y2="1065.0" stroke="#c0c0c0" stroke-width="1" shape-rendering="crispEdges"/>
<line x1="728.5" y1="717.0" x2="728.5" y2="1065.0" stroke="#c0c0c0" stroke-width="1" shape-rendering="crispEdges"/>
<line x1="806.5" y1="717.0" x2="806.5" y2="1065.0" stroke="#c0c0c0" stroke-width="1" shape-rendering="crispEdges"/>
<line x1="890.5" y1="717.0" x2="890.5" y2="1065.0" stroke="#c0c0c0" stroke-width="1" shape-rendering="crispEdges"/>
<line x1="962.5" y1="717.0" x2="962.5" y2="1065.0" stroke="#c0c0c0" stroke-width="1" shape-rendering="crispEdges"/>
<line x1="1040.5" y1="717.0" x2="1040.5" y2="1065.0" stroke="#c0c0c0" stroke-width="1" shape-rendering="crispEdges"/>
<line x1="322.5" y1="717.0" x2="322.5" y2="1065.0" stroke="#a8a8e0" stroke-width="1" shape-rendering="crispEdges"/>
<rect x="7" y="1066" width="17" height="3" fill="#e4e4e4"/><rect x="24" y="1066" width="1116" height="3" fill="#c8c8c8"/>
<line x1="8.0" y1="1065.5" x2="1157.0" y2="1065.5" stroke="#a8a8e0" stroke-width="1" shape-rendering="crispEdges"/>
<path d="M11,772h1V788h-1ZM17,767h1V785h-1ZM23,766h1V778h-1ZM29,765h1V778h-1ZM35,762h1V772h-1ZM41,760h1V774h-1ZM47,764h1V774h-1ZM53,768h1V774h-1ZM59,760h1V769h-1ZM65,761h1V772h-1ZM71,762h1V770h-1ZM77,757h1V766h-1ZM83,756h1V764h-1ZM89,756h1V765h-1ZM95,750h1V756h-1ZM101,750h1V755h-1ZM107,750h1V755h-1ZM113,752h1V759h-1ZM119,752h1V759h-1ZM125,757h1V772h-1ZM131,771h1V784h-1ZM137,772h1V786h-1ZM143,778h1V813h-1ZM149,791h1V803h-1ZM155,787h1V796h-1ZM161,788h1V802h-1ZM167,798h1V808h-1ZM173,790h1V804h-1ZM179,778h1V794h-1ZM185,772h1V784h-1ZM191,768h1V774h-1ZM197,769h1V784h-1ZM203,788h1V794h-1ZM209,780h1V788h-1ZM215,789h1V808h-1ZM221,808h1V820h-1ZM227,813h1V826h-1ZM233,804h1V823h-1ZM239,796h1V812h-1ZM245,798h1V808h-1ZM251,808h1V819h-1ZM257,804h1V814h-1ZM263,821h1V828h-1ZM269,825h1V836h-1ZM275,835h1V853h-1ZM281,846h1V871h-1ZM287,848h1V860h-1ZM293,842h1V860h-1ZM299,848h1V862h-1ZM305,843h1V855h-1ZM311,837h1V850h-1ZM317,853h1V866h-1ZM323,858h1V878h-1ZM329,872h1V890h-1ZM335,864h1V878h-1ZM341,852h1V872h-1ZM347,850h1V863h-1ZM353,851h1V864h-1ZM359,843h1V851h-1ZM365,840h1V845h-1ZM371,836h1V848h-1ZM377,831h1V851h-1ZM383,833h1V847h-1ZM389,834h1V847h-1ZM395,827h1V837h-1ZM401,837h1V844h-1ZM407,830h1V842h-1ZM413,840h1V850h-1ZM419,848h1V858h-1ZM425,854h1V862h-1ZM431,857h1V867h-1ZM437,847h1V862h-1ZM443,851h1V860h-1ZM449,854h1V863h-1ZM455,851h1V863h-1ZM461,855h1V869h-1ZM467,859h1V868h-1ZM473,863h1V877h-1ZM479,867h1V881h-1ZM485,884h1V898h-1ZM491,877h1V882h-1ZM497,879h1V903h-1ZM503,907h1V964h-1ZM509,929h1V959h-1ZM515,936h1V972h-1ZM521,944h1V984h-1ZM527,932h1V960h-1ZM533,941h1V962h-1ZM539,947h1V978h-1ZM545,954h1V964h-1ZM551,955h1V967h-1ZM557,949h1V965h-1ZM563,948h1V956h-1ZM569,949h1V955h-1ZM575,947h1V950h-1ZM581,937h1V947h-1ZM587,953h1V962h-1ZM593,958h1V969h-1ZM599,958h1V971h-1ZM605,960h1V969h-1ZM611,958h1V972h-1ZM617,968h1V977h-1ZM623,974h1V980h-1ZM629,979h1V983h-1ZM635,975h1V982h-1ZM641,967h1V973h-1ZM647,947h1V967h-1ZM653,946h1V962h-1ZM659,943h1V952h-1ZM665,943h1V951h-1ZM671,946h1V952h-1ZM677,944h1V954h-1ZM683,934h1V938h-1ZM689,932h1V944h-1ZM695,939h1V944h-1ZM701,933h1V938h-1ZM707,928h1V934h-1ZM713,920h1V928h-1ZM719,920h1V930h-1ZM725,925h1V934h-1ZM731,921h1V930h-1ZM737,929h1V939h-1ZM743,936h1V944h-1ZM749,925h1V934h-1ZM755,915h1V925h-1ZM761,914h1V919h-1ZM767,911h1V915h-1ZM773,911h1V921h-1ZM779,909h1V917h-1ZM785,907h1V921h-1ZM791,915h1V920h-1ZM797,914h1V922h-1ZM803,912h1V919h-1ZM809,917h1V929h-1ZM815,918h1V932h-1ZM821,919h1V924h-1ZM827,915h1V918h-1ZM833,914h1V926h-1ZM839,923h1V930h-1ZM845,924h1V929h-1ZM851,926h1V935h-1ZM857,930h1V943h-1ZM863,922h1V945h-1ZM869,919h1V928h-1ZM875,920h1V923h-1ZM881,911h1V920h-1ZM887,908h1V913h-1ZM893,906h1V912h-1ZM899,904h1V907h-1ZM905,904h1V912h-1ZM911,910h1V920h-1ZM917,914h1V924h-1ZM923,920h1V926h-1ZM929,915h1V924h-1ZM935,914h1V922h-1ZM941,920h1V922h-1ZM947,909h1V921h-1ZM953,907h1V910h-1ZM959,904h1V909h-1ZM965,897h1V904h-1ZM971,894h1V899h-1ZM977,894h1V900h-1ZM983,898h1V902h-1ZM989,898h1V904h-1ZM995,901h1V920h-1ZM1001,908h1V917h-1ZM1007,914h1V929h-1ZM1013,926h1V938h-1ZM1019,924h1V931h-1ZM1025,924h1V936h-1ZM1031,921h1V929h-1ZM1037,918h1V929h-1ZM1043,929h1V942h-1ZM1049,928h1V930h-1ZM1055,929h1V933h-1ZM1061,934h1V937h-1ZM1067,936h1V941h-1ZM1073,940h1V941h-1Z" fill="#0000cc" stroke="none"/>
<path d="M8,772h7V784h-7ZM20,769h7V771h-7ZM26,769h7v2h-7ZM32,765h7V769h-7ZM38,767h7v2h-7ZM44,766h7V770h-7ZM50,768h7v2h-7ZM56,765h7v2h-7ZM62,763h7V769h-7ZM68,767h7v2h-7ZM80,756h7V762h-7ZM92,752h7v2h-7ZM98,751h7v2h-7ZM104,753h7v2h-7ZM116,751h7v2h-7ZM122,757h7V772h-7ZM128,776h7v2h-7ZM134,783h7v2h-7ZM140,781h7V813h-7ZM152,788h7V795h-7ZM158,788h7V796h-7ZM194,769h7V781h-7ZM206,785h7V788h-7ZM212,789h7V808h-7ZM218,813h7v2h-7ZM224,815h7V823h-7ZM242,798h7V808h-7ZM248,811h7v2h-7ZM254,806h7V814h-7ZM260,821h7V826h-7ZM266,830h7V836h-7ZM272,837h7V844h-7ZM278,846h7v2h-7ZM284,851h7v2h-7ZM290,845h7V860h-7ZM302,848h7v2h-7ZM308,848h7v2h-7ZM314,857h7V866h-7ZM320,867h7V878h-7ZM344,853h7v2h-7ZM368,836h7V848h-7ZM380,833h7V840h-7ZM398,838h7v2h-7ZM404,837h7V842h-7ZM410,846h7V850h-7ZM416,848h7V856h-7ZM422,856h7V860h-7ZM428,861h7V864h-7ZM440,851h7V860h-7ZM446,857h7v2h-7ZM452,854h7V860h-7ZM458,862h7V869h-7ZM470,863h7V877h-7ZM476,871h7V878h-7ZM488,877h7V882h-7ZM494,883h7V903h-7ZM500,907h7V964h-7ZM506,937h7V959h-7ZM512,947h7V972h-7ZM524,944h7V951h-7ZM530,942h7V955h-7ZM536,958h7V966h-7ZM548,955h7V967h-7ZM578,939h7V947h-7ZM584,953h7V960h-7ZM590,958h7V969h-7ZM608,958h7V967h-7ZM614,971h7V977h-7ZM626,979h7V983h-7ZM656,944h7v2h-7ZM662,944h7v2h-7ZM668,946h7V949h-7ZM686,934h7V938h-7ZM716,921h7V928h-7ZM722,925h7v2h-7ZM728,925h7v2h-7ZM734,929h7V939h-7ZM770,911h7V917h-7ZM776,915h7v2h-7ZM782,912h7V920h-7ZM794,914h7V916h-7ZM800,916h7v2h-7ZM806,917h7V929h-7ZM818,921h7v2h-7ZM830,916h7V923h-7ZM836,923h7V928h-7ZM842,926h7V929h-7ZM848,928h7V935h-7ZM854,933h7V943h-7ZM902,904h7V910h-7ZM908,910h7V920h-7ZM914,919h7V922h-7ZM920,921h7v2h-7ZM938,920h7v2h-7ZM968,897h7V899h-7ZM974,898h7V900h-7ZM980,900h7V902h-7ZM992,901h7V914h-7ZM998,914h7v2h-7ZM1004,914h7V929h-7ZM1010,926h7v2h-7ZM1022,924h7V930h-7ZM1034,924h7V929h-7ZM1040,929h7V940h-7ZM1046,928h7V930h-7ZM1052,929h7V933h-7ZM1058,934h7V937h-7ZM1064,936h7V940h-7ZM1070,939h7V941h-7Z" fill="#0000cc" stroke="none"/>
<path d="M14.5,772.5h6V784.5h-6ZM74.5,759.5h6V765.5h-6ZM86.5,756.5h6V758.5h-6ZM110.5,751.5h6V753.5h-6ZM146.5,794.5h6V802.5h-6ZM164.5,798.5h6V804.5h-6ZM170.5,794.5h6V799.5h-6ZM176.5,782.5h6V790.5h-6ZM182.5,776.5h6V780.5h-6ZM188.5,771.5h6V773.5h-6ZM200.5,788.5h6V792.5h-6ZM230.5,804.5h6V819.5h-6ZM236.5,800.5h6V802.5h-6ZM296.5,848.5h6V860.5h-6ZM326.5,871.5h6V873.5h-6ZM332.5,864.5h6V873.5h-6ZM338.5,856.5h6V865.5h-6ZM350.5,851.5h6V861.5h-6ZM356.5,843.5h6V845.5h-6ZM362.5,839.5h6V841.5h-6ZM374.5,836.5h6V849.5h-6ZM386.5,834.5h6V842.5h-6ZM392.5,829.5h6V831.5h-6ZM434.5,854.5h6V859.5h-6ZM464.5,859.5h6V863.5h-6ZM482.5,884.5h6V889.5h-6ZM518.5,955.5h6V975.5h-6ZM542.5,954.5h6V957.5h-6ZM554.5,959.5h6V964.5h-6ZM560.5,952.5h6V954.5h-6ZM566.5,949.5h6V952.5h-6ZM572.5,947.5h6V949.5h-6ZM596.5,966.5h6V970.5h-6ZM602.5,963.5h6V967.5h-6ZM620.5,974.5h6V979.5h-6ZM632.5,975.5h6V981.5h-6ZM638.5,967.5h6V972.5h-6ZM644.5,951.5h6V966.5h-6ZM650.5,948.5h6V950.5h-6ZM674.5,944.5h6V947.5h-6ZM680.5,934.5h6V936.5h-6ZM692.5,939.5h6V941.5h-6ZM698.5,933.5h6V937.5h-6ZM704.5,928.5h6V933.5h-6ZM710.5,920.5h6V927.5h-6ZM740.5,936.5h6V938.5h-6ZM746.5,925.5h6V931.5h-6ZM752.5,915.5h6V924.5h-6ZM758.5,914.5h6V918.5h-6ZM764.5,911.5h6V914.5h-6ZM788.5,915.5h6V917.5h-6ZM812.5,918.5h6V928.5h-6ZM824.5,916.5h6V918.5h-6ZM860.5,922.5h6V943.5h-6ZM866.5,920.5h6V922.5h-6ZM872.5,920.5h6V922.5h-6ZM878.5,912.5h6V919.5h-6ZM884.5,911.5h6V913.5h-6ZM890.5,906.5h6V911.5h-6ZM896.5,904.5h6V906.5h-6ZM926.5,920.5h6V922.5h-6ZM932.5,916.5h6V921.5h-6ZM944.5,909.5h6V920.5h-6ZM950.5,907.5h6V909.5h-6ZM956.5,904.5h6V906.5h-6ZM962.5,897.5h6V903.5h-6ZM986.5,900.5h6V903.5h-6ZM1016.5,924.5h6V928.5h-6ZM1028.5,924.5h6V928.5h-6Z" fill="#fff" stroke="#0000cc" stroke-width="1"/>
<clipPath id="c3"><rect x="8" y="718" width="1149" height="346"/></clipPath><g clip-path="url(#c3)">
<path d="M11.0,746.4C13.5,746.4 19.5,746.4 26.0,746.4C32.5,746.4 44.3,746.1 50.0,746.4C55.7,746.7 56.7,746.5 60.0,748.0C63.3,749.5 66.0,755.3 70.0,755.6C74.0,755.9 79.7,751.4 84.0,750.0C88.3,748.6 91.3,748.7 96.0,747.0C100.7,745.3 107.0,741.3 112.0,739.6C117.0,737.9 122.0,738.0 126.0,736.6C130.0,735.2 133.0,734.7 136.0,731.0C139.0,727.3 140.7,717.6 144.0,714.4C147.3,711.2 151.7,711.7 156.0,712.0C160.3,712.3 166.0,713.9 170.0,716.0C174.0,718.1 176.3,720.7 180.0,724.6C183.7,728.5 187.3,734.3 192.0,739.4C196.7,744.5 203.7,752.9 208.0,755.4C212.3,757.9 215.0,755.7 218.0,754.2C221.0,752.7 222.3,747.6 226.0,746.6C229.7,745.6 235.7,747.9 240.0,748.0C244.3,748.1 248.7,746.8 252.0,747.4C255.3,748.0 257.3,749.6 260.0,751.4C262.7,753.2 264.7,755.9 268.0,758.0C271.3,760.1 276.7,762.0 280.0,764.0C283.3,766.0 284.0,769.2 288.0,770.0C292.0,770.8 300.0,767.9 304.0,769.0C308.0,770.1 309.0,773.4 312.0,776.4C315.0,779.4 319.0,783.1 322.0,787.0C325.0,790.9 327.0,794.7 330.0,800.0C333.0,805.3 336.0,814.4 340.0,819.0C344.0,823.6 349.0,827.4 354.0,827.6C359.0,827.8 365.0,822.5 370.0,820.0C375.0,817.5 379.8,815.2 384.0,812.6C388.2,810.0 391.7,804.6 395.0,804.4C398.3,804.2 400.8,809.1 404.0,811.4C407.2,813.7 409.7,818.0 414.0,818.4C418.3,818.8 424.0,814.4 430.0,813.6C436.0,812.8 444.7,812.9 450.0,813.6C455.3,814.3 457.7,815.6 462.0,818.0C466.3,820.4 471.3,825.3 476.0,828.0C480.7,830.7 486.3,834.7 490.0,834.0C493.7,833.3 496.0,830.3 498.0,824.0C500.0,817.7 500.3,803.0 502.0,796.0C503.7,789.0 505.7,785.7 508.0,782.0C510.3,778.3 513.7,774.6 516.0,773.6C518.3,772.6 519.7,773.9 522.0,776.0C524.3,778.1 527.2,782.0 530.0,786.0C532.8,790.0 536.0,794.0 539.0,800.0C542.0,806.0 545.2,814.3 548.0,822.0C550.8,829.7 553.3,837.3 556.0,846.0C558.7,854.7 561.7,863.7 564.0,874.0C566.3,884.3 568.2,898.2 570.0,908.0C571.8,917.8 571.7,929.1 575.0,933.0C578.3,936.9 584.2,931.8 590.0,931.6C595.8,931.4 603.3,932.6 610.0,932.0C616.7,931.4 623.3,927.9 630.0,928.0C636.7,928.1 645.8,931.6 650.0,932.4C654.2,933.2 652.2,934.0 655.0,932.8C657.8,931.6 663.0,928.0 667.0,925.0C671.0,922.0 675.3,918.0 679.0,915.0C682.7,912.0 685.3,908.8 689.0,907.0C692.7,905.2 697.3,904.0 701.0,904.0C704.7,904.0 708.0,906.0 711.0,907.0C714.0,908.0 715.0,910.1 719.0,910.0C723.0,909.9 729.8,907.1 735.0,906.4C740.2,905.7 744.7,907.6 750.0,906.0C755.3,904.4 761.2,898.8 767.0,897.0C772.8,895.2 779.7,895.7 785.0,895.0C790.3,894.3 795.2,893.1 799.0,892.6C802.8,892.1 804.3,890.6 808.0,892.0C811.7,893.4 816.5,899.4 821.0,901.0C825.5,902.6 830.7,901.7 835.0,901.6C839.3,901.5 843.3,900.8 847.0,900.4C850.7,900.0 853.7,899.0 857.0,899.0C860.3,899.0 863.0,900.1 867.0,900.2C871.0,900.3 877.0,900.7 881.0,899.6C885.0,898.5 887.3,895.6 891.0,893.4C894.7,891.2 899.0,887.6 903.0,886.6C907.0,885.6 911.3,887.0 915.0,887.4C918.7,887.8 921.7,887.2 925.0,888.8C928.3,890.4 931.3,896.0 935.0,897.0C938.7,898.0 943.0,895.4 947.0,894.6C951.0,893.8 955.7,893.5 959.0,892.0C962.3,890.5 963.7,887.3 967.0,885.6C970.3,883.9 975.2,883.0 979.0,882.0C982.8,881.0 986.5,879.5 990.0,879.5C993.5,879.5 995.8,882.2 1000.0,882.0C1004.2,881.8 1010.0,878.8 1015.0,878.0C1020.0,877.2 1025.2,877.0 1030.0,877.0C1034.8,877.0 1041.5,877.8 1043.8,878.0" fill="none" stroke="#ff0000" stroke-width="1.1" stroke-linejoin="round" />
<path d="M11.0,754.3C13.5,754.1 19.5,753.6 26.0,753.5C32.5,753.4 44.3,753.3 50.0,753.6C55.7,753.9 56.7,753.9 60.0,755.0C63.3,756.1 66.0,760.3 70.0,760.4C74.0,760.5 79.7,757.0 84.0,755.7C88.3,754.4 91.3,754.2 96.0,752.7C100.7,751.1 107.0,747.8 112.0,746.4C117.0,745.0 122.0,745.2 126.0,744.3C130.0,743.4 133.0,743.2 136.0,741.0C139.0,738.8 140.7,732.7 144.0,731.1C147.3,729.4 151.7,730.2 156.0,731.0C160.3,731.8 166.0,734.0 170.0,736.0C174.0,738.0 176.3,740.0 180.0,742.9C183.7,745.9 187.3,749.9 192.0,753.7C196.7,757.5 203.7,763.7 208.0,765.7C212.3,767.7 215.0,766.4 218.0,765.7C221.0,764.9 222.3,761.7 226.0,761.3C229.7,760.9 235.7,762.8 240.0,763.2C244.3,763.6 248.7,762.9 252.0,763.6C255.3,764.3 257.3,765.7 260.0,767.3C262.7,768.8 264.7,770.8 268.0,773.0C271.3,775.2 276.7,778.1 280.0,780.3C283.3,782.6 284.0,784.9 288.0,786.3C292.0,787.8 300.0,787.5 304.0,789.0C308.0,790.5 309.0,792.4 312.0,795.1C315.0,797.7 319.0,801.5 322.0,805.0C325.0,808.5 327.0,812.1 330.0,816.3C333.0,820.6 336.0,827.2 340.0,830.7C344.0,834.2 349.0,837.2 354.0,837.3C359.0,837.4 365.0,833.3 370.0,831.3C375.0,829.4 379.8,827.7 384.0,825.6C388.2,823.5 391.7,819.5 395.0,818.9C398.3,818.4 400.8,821.2 404.0,822.4C407.2,823.6 409.7,826.1 414.0,826.3C418.3,826.4 424.0,823.7 430.0,823.4C436.0,823.1 444.7,823.8 450.0,824.7C455.3,825.6 457.7,826.6 462.0,828.8C466.3,831.0 471.3,835.1 476.0,837.7C480.7,840.2 486.3,843.7 490.0,844.0C493.7,844.3 496.0,842.9 498.0,839.3C500.0,835.7 500.3,826.3 502.0,822.3C503.7,818.3 505.7,816.8 508.0,815.3C510.3,813.8 513.7,813.0 516.0,813.4C518.3,813.8 519.7,815.6 522.0,818.0C524.3,820.4 527.2,823.9 530.0,827.7C532.8,831.4 536.0,835.2 539.0,840.3C542.0,845.5 545.2,852.5 548.0,858.7C550.8,864.8 553.3,870.7 556.0,877.3C558.7,884.0 561.7,891.0 564.0,898.5C566.3,906.1 568.2,915.7 570.0,922.7C571.8,929.6 571.7,937.5 575.0,940.3C578.3,943.1 584.2,939.4 590.0,939.5C595.8,939.7 603.3,941.2 610.0,941.2C616.7,941.2 623.3,939.2 630.0,939.5C636.7,939.8 645.8,942.4 650.0,943.1C654.2,943.7 652.2,944.3 655.0,943.3C657.8,942.4 663.0,939.6 667.0,937.3C671.0,935.0 675.3,931.9 679.0,929.5C682.7,927.0 685.3,924.5 689.0,922.7C692.7,920.9 697.3,919.3 701.0,918.7C704.7,918.0 708.0,918.6 711.0,918.7C714.0,918.8 715.0,920.0 719.0,919.3C723.0,918.7 729.8,916.0 735.0,914.9C740.2,913.9 744.7,914.6 750.0,913.0C755.3,911.4 761.2,907.0 767.0,905.3C772.8,903.7 779.7,903.7 785.0,903.0C790.3,902.3 795.2,901.4 799.0,900.9C802.8,900.5 804.3,899.5 808.0,900.3C811.7,901.2 816.5,905.0 821.0,906.0C825.5,907.0 830.7,906.3 835.0,906.4C839.3,906.5 843.3,906.5 847.0,906.6C850.7,906.7 853.7,906.6 857.0,906.8C860.3,907.0 863.0,908.0 867.0,908.0C871.0,908.0 877.0,908.0 881.0,907.1C885.0,906.1 887.3,904.0 891.0,902.4C894.7,900.8 899.0,898.2 903.0,897.5C907.0,896.7 911.3,897.9 915.0,898.1C918.7,898.3 921.7,897.8 925.0,898.7C928.3,899.5 931.3,903.0 935.0,903.3C938.7,903.7 943.0,901.7 947.0,900.9C951.0,900.1 955.7,899.7 959.0,898.5C962.3,897.3 963.7,895.0 967.0,893.7C970.3,892.5 975.2,892.0 979.0,891.2C982.8,890.4 986.5,889.1 990.0,889.0C993.5,888.9 995.8,890.5 1000.0,890.3C1004.2,890.2 1010.0,888.5 1015.0,888.2C1020.0,887.9 1025.2,888.0 1030.0,888.5C1034.8,889.0 1041.5,890.7 1043.8,891.2" fill="none" stroke="#ff0000" stroke-width="1.1" stroke-linejoin="round" />
<path d="M11.0,762.1C13.5,761.9 19.5,760.8 26.0,760.5C32.5,760.3 44.3,760.6 50.0,760.8C55.7,761.0 56.7,761.3 60.0,762.0C63.3,762.7 66.0,765.3 70.0,765.2C74.0,765.1 79.7,762.5 84.0,761.3C88.3,760.2 91.3,759.7 96.0,758.3C100.7,757.0 107.0,754.3 112.0,753.2C117.0,752.1 122.0,752.3 126.0,751.9C130.0,751.6 133.0,751.7 136.0,751.0C139.0,750.3 140.7,747.9 144.0,747.7C147.3,747.6 151.7,748.6 156.0,750.0C160.3,751.4 166.0,754.1 170.0,756.0C174.0,757.9 176.3,759.3 180.0,761.3C183.7,763.3 187.3,765.6 192.0,768.1C196.7,770.5 203.7,774.6 208.0,776.1C212.3,777.6 215.0,777.2 218.0,777.1C221.0,777.1 222.3,775.7 226.0,775.9C229.7,776.1 235.7,777.8 240.0,778.4C244.3,779.0 248.7,779.0 252.0,779.8C255.3,780.6 257.3,781.8 260.0,783.1C262.7,784.5 264.7,785.7 268.0,788.0C271.3,790.3 276.7,794.2 280.0,796.7C283.3,799.1 284.0,800.6 288.0,802.7C292.0,804.7 300.0,807.2 304.0,809.0C308.0,810.8 309.0,811.4 312.0,813.7C315.0,816.1 319.0,819.8 322.0,823.0C325.0,826.2 327.0,829.4 330.0,832.7C333.0,835.9 336.0,840.0 340.0,842.3C344.0,844.7 349.0,846.9 354.0,846.9C359.0,847.0 365.0,844.1 370.0,842.7C375.0,841.3 379.8,840.1 384.0,838.6C388.2,837.1 391.7,834.3 395.0,833.5C398.3,832.6 400.8,833.3 404.0,833.4C407.2,833.5 409.7,834.2 414.0,834.1C418.3,834.1 424.0,832.9 430.0,833.2C436.0,833.5 444.7,834.8 450.0,835.9C455.3,836.9 457.7,837.7 462.0,839.6C466.3,841.5 471.3,844.9 476.0,847.3C480.7,849.7 486.3,852.8 490.0,854.0C493.7,855.2 496.0,855.6 498.0,854.7C500.0,853.8 500.3,849.7 502.0,848.7C503.7,847.7 505.7,847.9 508.0,848.7C510.3,849.4 513.7,851.3 516.0,853.2C518.3,855.1 519.7,857.3 522.0,860.0C524.3,862.7 527.2,865.9 530.0,869.3C532.8,872.8 536.0,876.3 539.0,880.7C542.0,885.0 545.2,890.7 548.0,895.3C550.8,900.0 553.3,904.0 556.0,908.7C558.7,913.3 561.7,918.3 564.0,923.1C566.3,927.8 568.2,933.2 570.0,937.3C571.8,941.4 571.7,946.0 575.0,947.7C578.3,949.4 584.2,947.0 590.0,947.5C595.8,947.9 603.3,949.8 610.0,950.4C616.7,951.0 623.3,950.4 630.0,950.9C636.7,951.5 645.8,953.2 650.0,953.7C654.2,954.2 652.2,954.5 655.0,953.9C657.8,953.2 663.0,951.3 667.0,949.7C671.0,948.0 675.3,945.8 679.0,943.9C682.7,942.0 685.3,940.1 689.0,938.3C692.7,936.6 697.3,934.7 701.0,933.3C704.7,932.0 708.0,931.1 711.0,930.3C714.0,929.6 715.0,929.8 719.0,928.7C723.0,927.5 729.8,924.9 735.0,923.5C740.2,922.0 744.7,921.6 750.0,920.0C755.3,918.4 761.2,915.2 767.0,913.7C772.8,912.2 779.7,911.7 785.0,911.0C790.3,910.3 795.2,909.7 799.0,909.3C802.8,908.9 804.3,908.4 808.0,908.7C811.7,909.0 816.5,910.6 821.0,911.0C825.5,911.4 830.7,910.9 835.0,911.2C839.3,911.5 843.3,912.2 847.0,912.8C850.7,913.4 853.7,914.1 857.0,914.6C860.3,915.1 863.0,915.8 867.0,915.8C871.0,915.8 877.0,915.3 881.0,914.5C885.0,913.8 887.3,912.4 891.0,911.4C894.7,910.4 899.0,908.8 903.0,908.3C907.0,907.9 911.3,908.7 915.0,908.7C918.7,908.8 921.7,908.4 925.0,908.5C928.3,908.7 931.3,909.9 935.0,909.7C938.7,909.5 943.0,908.0 947.0,907.3C951.0,906.5 955.7,906.0 959.0,905.1C962.3,904.2 963.7,902.6 967.0,901.9C970.3,901.1 975.2,901.0 979.0,900.4C982.8,899.8 986.5,898.8 990.0,898.5C993.5,898.2 995.8,898.7 1000.0,898.7C1004.2,898.6 1010.0,898.1 1015.0,898.3C1020.0,898.6 1025.2,899.0 1030.0,900.0C1034.8,901.0 1041.5,903.6 1043.8,904.3" fill="none" stroke="#ff0000" stroke-width="1.1" stroke-linejoin="round" />
<path d="M11.0,777.9C13.5,777.3 19.5,775.1 26.0,774.7C32.5,774.2 44.3,775.0 50.0,775.2C55.7,775.4 56.7,776.1 60.0,776.0C63.3,775.9 66.0,775.4 70.0,774.8C74.0,774.2 79.7,773.5 84.0,772.7C88.3,771.8 91.3,770.6 96.0,769.7C100.7,768.7 107.0,767.2 112.0,766.8C117.0,766.4 122.0,766.6 126.0,767.3C130.0,768.0 133.0,768.7 136.0,771.0C139.0,773.3 140.7,778.2 144.0,781.1C147.3,783.9 151.7,785.5 156.0,788.0C160.3,790.5 166.0,794.3 170.0,796.0C174.0,797.7 176.3,797.8 180.0,797.9C183.7,798.1 187.3,796.9 192.0,796.7C196.7,796.5 203.7,796.2 208.0,796.7C212.3,797.3 215.0,798.6 218.0,800.1C221.0,801.5 222.3,803.8 226.0,805.3C229.7,806.7 235.7,807.6 240.0,808.8C244.3,810.0 248.7,811.2 252.0,812.2C255.3,813.2 257.3,813.9 260.0,814.9C262.7,815.8 264.7,815.6 268.0,818.0C271.3,820.4 276.7,826.4 280.0,829.3C283.3,832.2 284.0,832.1 288.0,835.3C292.0,838.6 300.0,846.4 304.0,849.0C308.0,851.6 309.0,849.4 312.0,851.1C315.0,852.7 319.0,856.6 322.0,859.0C325.0,861.4 327.0,864.2 330.0,865.3C333.0,866.4 336.0,865.5 340.0,865.7C344.0,865.8 349.0,866.3 354.0,866.3C359.0,866.2 365.0,865.6 370.0,865.3C375.0,865.1 379.8,865.1 384.0,864.6C388.2,864.1 391.7,864.1 395.0,862.5C398.3,861.0 400.8,857.5 404.0,855.4C407.2,853.3 409.7,850.3 414.0,849.9C418.3,849.4 424.0,851.4 430.0,852.8C436.0,854.2 444.7,856.7 450.0,858.1C455.3,859.5 457.7,859.8 462.0,861.2C466.3,862.6 471.3,864.5 476.0,866.7C480.7,868.8 486.3,870.9 490.0,874.0C493.7,877.1 496.0,880.8 498.0,885.3C500.0,889.9 500.3,896.3 502.0,901.3C503.7,906.3 505.7,910.1 508.0,915.3C510.3,920.6 513.7,928.0 516.0,932.8C518.3,937.6 519.7,940.7 522.0,944.0C524.3,947.3 527.2,949.8 530.0,952.7C532.8,955.6 536.0,958.7 539.0,961.3C542.0,964.0 545.2,967.0 548.0,968.7C550.8,970.3 553.3,970.8 556.0,971.3C558.7,971.9 561.7,972.9 564.0,972.1C566.3,971.4 568.2,968.3 570.0,966.7C571.8,965.0 571.7,962.9 575.0,962.3C578.3,961.8 584.2,962.3 590.0,963.3C595.8,964.4 603.3,967.0 610.0,968.8C616.7,970.6 623.3,972.8 630.0,973.9C636.7,974.9 645.8,974.9 650.0,975.1C654.2,975.2 652.2,975.1 655.0,974.9C657.8,974.8 663.0,974.7 667.0,974.3C671.0,974.0 675.3,973.6 679.0,972.9C682.7,972.1 685.3,971.4 689.0,969.7C692.7,968.0 697.3,965.3 701.0,962.7C704.7,960.0 708.0,956.2 711.0,953.7C714.0,951.1 715.0,949.5 719.0,947.3C723.0,945.1 729.8,942.8 735.0,940.5C740.2,938.3 744.7,935.7 750.0,934.0C755.3,932.3 761.2,931.5 767.0,930.3C772.8,929.2 779.7,927.7 785.0,927.0C790.3,926.3 795.2,926.2 799.0,925.9C802.8,925.7 804.3,926.2 808.0,925.3C811.7,924.5 816.5,921.8 821.0,921.0C825.5,920.2 830.7,920.1 835.0,920.8C839.3,921.5 843.3,923.6 847.0,925.2C850.7,926.8 853.7,929.2 857.0,930.2C860.3,931.2 863.0,931.5 867.0,931.4C871.0,931.3 877.0,929.8 881.0,929.5C885.0,929.1 887.3,929.3 891.0,929.4C894.7,929.5 899.0,930.0 903.0,930.1C907.0,930.2 911.3,930.4 915.0,930.1C918.7,929.8 921.7,929.6 925.0,928.3C928.3,927.0 931.3,923.7 935.0,922.3C938.7,920.9 943.0,920.6 947.0,919.9C951.0,919.2 955.7,918.4 959.0,918.1C962.3,917.8 963.7,918.0 967.0,918.1C970.3,918.2 975.2,918.9 979.0,918.8C982.8,918.7 986.5,918.1 990.0,917.5C993.5,916.9 995.8,915.1 1000.0,915.3C1004.2,915.5 1010.0,917.4 1015.0,918.7C1020.0,919.9 1025.2,921.0 1030.0,923.0C1034.8,925.0 1041.5,929.4 1043.8,930.7" fill="none" stroke="#ff0000" stroke-width="1.1" stroke-linejoin="round" />
<path d="M11.0,785.7C13.5,785.1 19.5,782.3 26.0,781.7C32.5,781.2 44.3,782.2 50.0,782.4C55.7,782.6 56.7,783.5 60.0,783.0C63.3,782.5 66.0,780.4 70.0,779.6C74.0,778.8 79.7,779.0 84.0,778.3C88.3,777.6 91.3,776.1 96.0,775.3C100.7,774.5 107.0,773.7 112.0,773.6C117.0,773.5 122.0,773.7 126.0,774.9C130.0,776.2 133.0,777.2 136.0,781.0C139.0,784.8 140.7,793.4 144.0,797.7C147.3,802.1 151.7,804.0 156.0,807.0C160.3,810.0 166.0,814.5 170.0,816.0C174.0,817.5 176.3,817.1 180.0,816.3C183.7,815.4 187.3,812.6 192.0,811.1C196.7,809.5 203.7,807.0 208.0,807.1C212.3,807.1 215.0,809.4 218.0,811.5C221.0,813.7 222.3,817.9 226.0,819.9C229.7,822.0 235.7,822.6 240.0,824.0C244.3,825.4 248.7,827.3 252.0,828.4C255.3,829.5 257.3,830.0 260.0,830.7C262.7,831.5 264.7,830.5 268.0,833.0C271.3,835.5 276.7,842.6 280.0,845.7C283.3,848.8 284.0,847.8 288.0,851.7C292.0,855.6 300.0,866.0 304.0,869.0C308.0,872.0 309.0,868.4 312.0,869.7C315.0,871.1 319.0,875.0 322.0,877.0C325.0,879.0 327.0,881.6 330.0,881.7C333.0,881.7 336.0,878.3 340.0,877.3C344.0,876.4 349.0,876.0 354.0,875.9C359.0,875.8 365.0,876.4 370.0,876.7C375.0,876.9 379.8,877.5 384.0,877.6C388.2,877.7 391.7,878.9 395.0,877.1C398.3,875.2 400.8,869.6 404.0,866.4C407.2,863.2 409.7,858.4 414.0,857.7C418.3,857.1 424.0,860.7 430.0,862.6C436.0,864.5 444.7,867.7 450.0,869.3C455.3,870.8 457.7,870.8 462.0,872.0C466.3,873.2 471.3,874.3 476.0,876.3C480.7,878.3 486.3,879.9 490.0,884.0C493.7,888.1 496.0,893.4 498.0,900.7C500.0,907.9 500.3,919.7 502.0,927.7C503.7,935.7 505.7,941.2 508.0,948.7C510.3,956.2 513.7,966.4 516.0,972.6C518.3,978.8 519.7,982.4 522.0,986.0C524.3,989.6 527.2,991.7 530.0,994.3C532.8,996.9 536.0,999.8 539.0,1001.7C542.0,1003.5 545.2,1005.2 548.0,1005.3C550.8,1005.5 553.3,1004.1 556.0,1002.7C558.7,1001.2 561.7,1000.2 564.0,996.7C566.3,993.1 568.2,985.8 570.0,981.3C571.8,976.8 571.7,971.3 575.0,969.7C578.3,968.0 584.2,969.9 590.0,971.3C595.8,972.7 603.3,975.7 610.0,978.0C616.7,980.3 623.3,984.0 630.0,985.3C636.7,986.6 645.8,985.7 650.0,985.7C654.2,985.8 652.2,985.3 655.0,985.5C657.8,985.6 663.0,986.4 667.0,986.7C671.0,987.0 675.3,987.6 679.0,987.3C682.7,987.1 685.3,987.0 689.0,985.3C692.7,983.7 697.3,980.7 701.0,977.3C704.7,974.0 708.0,968.8 711.0,965.3C714.0,961.9 715.0,959.4 719.0,956.7C723.0,954.0 729.8,951.7 735.0,949.1C740.2,946.5 744.7,942.7 750.0,941.0C755.3,939.3 761.2,939.7 767.0,938.7C772.8,937.7 779.7,935.7 785.0,935.0C790.3,934.3 795.2,934.5 799.0,934.3C802.8,934.0 804.3,935.0 808.0,933.7C811.7,932.3 816.5,927.3 821.0,926.0C825.5,924.7 830.7,924.7 835.0,925.6C839.3,926.5 843.3,929.3 847.0,931.4C850.7,933.5 853.7,936.7 857.0,938.0C860.3,939.3 863.0,939.4 867.0,939.2C871.0,939.0 877.0,937.1 881.0,936.9C885.0,936.8 887.3,937.7 891.0,938.4C894.7,939.1 899.0,940.5 903.0,940.9C907.0,941.3 911.3,941.2 915.0,940.7C918.7,940.3 921.7,940.1 925.0,938.1C928.3,936.1 931.3,930.6 935.0,928.7C938.7,926.7 943.0,926.9 947.0,926.3C951.0,925.6 955.7,924.7 959.0,924.7C962.3,924.7 963.7,925.7 967.0,926.3C970.3,926.8 975.2,927.9 979.0,928.0C982.8,928.1 986.5,927.7 990.0,927.0C993.5,926.3 995.8,923.4 1000.0,923.7C1004.2,924.0 1010.0,927.0 1015.0,928.8C1020.0,930.6 1025.2,932.0 1030.0,934.5C1034.8,937.0 1041.5,942.3 1043.8,943.8" fill="none" stroke="#ff0000" stroke-width="1.1" stroke-linejoin="round" />
<path d="M11.0,793.6C13.5,792.8 19.5,789.5 26.0,788.8C32.5,788.1 44.3,789.4 50.0,789.6C55.7,789.8 56.7,790.9 60.0,790.0C63.3,789.1 66.0,785.4 70.0,784.4C74.0,783.4 79.7,784.6 84.0,784.0C88.3,783.4 91.3,781.6 96.0,781.0C100.7,780.4 107.0,780.1 112.0,780.4C117.0,780.7 122.0,780.8 126.0,782.6C130.0,784.4 133.0,785.7 136.0,791.0C139.0,796.3 140.7,808.6 144.0,814.4C147.3,820.2 151.7,822.4 156.0,826.0C160.3,829.6 166.0,834.6 170.0,836.0C174.0,837.4 176.3,836.4 180.0,834.6C183.7,832.8 187.3,828.3 192.0,825.4C196.7,822.5 203.7,817.8 208.0,817.4C212.3,817.0 215.0,820.1 218.0,823.0C221.0,825.9 222.3,831.9 226.0,834.6C229.7,837.3 235.7,837.5 240.0,839.2C244.3,840.9 248.7,843.4 252.0,844.6C255.3,845.8 257.3,846.0 260.0,846.6C262.7,847.2 264.7,845.4 268.0,848.0C271.3,850.6 276.7,858.7 280.0,862.0C283.3,865.3 284.0,863.5 288.0,868.0C292.0,872.5 300.0,885.6 304.0,889.0C308.0,892.4 309.0,887.4 312.0,888.4C315.0,889.4 319.0,893.4 322.0,895.0C325.0,896.6 327.0,899.0 330.0,898.0C333.0,897.0 336.0,891.1 340.0,889.0C344.0,886.9 349.0,885.8 354.0,885.6C359.0,885.4 365.0,887.2 370.0,888.0C375.0,888.8 379.8,890.0 384.0,890.6C388.2,891.2 391.7,893.8 395.0,891.6C398.3,889.4 400.8,881.7 404.0,877.4C407.2,873.1 409.7,866.4 414.0,865.6C418.3,864.8 424.0,869.9 430.0,872.4C436.0,874.9 444.7,878.7 450.0,880.4C455.3,882.1 457.7,881.9 462.0,882.8C466.3,883.7 471.3,884.1 476.0,886.0C480.7,887.9 486.3,889.0 490.0,894.0C493.7,899.0 496.0,906.0 498.0,916.0C500.0,926.0 500.3,943.0 502.0,954.0C503.7,965.0 505.7,972.3 508.0,982.0C510.3,991.7 513.7,1004.7 516.0,1012.4C518.3,1020.1 519.7,1024.1 522.0,1028.0C524.3,1031.9 527.2,1033.7 530.0,1036.0C532.8,1038.3 536.0,1041.0 539.0,1042.0C542.0,1043.0 545.2,1043.3 548.0,1042.0C550.8,1040.7 553.3,1037.5 556.0,1034.0C558.7,1030.5 561.7,1027.5 564.0,1021.2C566.3,1014.9 568.2,1003.4 570.0,996.0C571.8,988.6 571.7,979.8 575.0,977.0C578.3,974.2 584.2,977.5 590.0,979.2C595.8,980.9 603.3,984.3 610.0,987.2C616.7,990.1 623.3,995.3 630.0,996.8C636.7,998.3 645.8,996.5 650.0,996.4C654.2,996.3 652.2,995.6 655.0,996.0C657.8,996.4 663.0,998.0 667.0,999.0C671.0,1000.0 675.3,1001.5 679.0,1001.8C682.7,1002.1 685.3,1002.6 689.0,1001.0C692.7,999.4 697.3,996.0 701.0,992.0C704.7,988.0 708.0,981.3 711.0,977.0C714.0,972.7 715.0,969.2 719.0,966.0C723.0,962.8 729.8,960.6 735.0,957.6C740.2,954.6 744.7,949.8 750.0,948.0C755.3,946.2 761.2,947.8 767.0,947.0C772.8,946.2 779.7,943.7 785.0,943.0C790.3,942.3 795.2,942.8 799.0,942.6C802.8,942.4 804.3,943.9 808.0,942.0C811.7,940.1 816.5,932.9 821.0,931.0C825.5,929.1 830.7,929.3 835.0,930.4C839.3,931.5 843.3,935.0 847.0,937.6C850.7,940.2 853.7,944.2 857.0,945.8C860.3,947.4 863.0,947.2 867.0,947.0C871.0,946.8 877.0,944.3 881.0,944.4C885.0,944.5 887.3,946.2 891.0,947.4C894.7,948.6 899.0,951.1 903.0,951.8C907.0,952.5 911.3,952.0 915.0,951.4C918.7,950.8 921.7,950.7 925.0,948.0C928.3,945.3 931.3,937.6 935.0,935.0C938.7,932.4 943.0,933.2 947.0,932.6C951.0,932.0 955.7,930.9 959.0,931.2C962.3,931.5 963.7,933.4 967.0,934.4C970.3,935.4 975.2,936.9 979.0,937.2C982.8,937.6 986.5,937.4 990.0,936.5C993.5,935.6 995.8,931.6 1000.0,932.0C1004.2,932.4 1010.0,936.7 1015.0,939.0C1020.0,941.3 1025.2,943.0 1030.0,946.0C1034.8,949.0 1041.5,955.2 1043.8,957.0" fill="none" stroke="#ff0000" stroke-width="1.1" stroke-linejoin="round" />
<path d="M11.0,770.0C13.5,769.6 19.5,767.9 26.0,767.6C32.5,767.3 44.3,767.8 50.0,768.0C55.7,768.2 56.7,768.7 60.0,769.0C63.3,769.3 66.0,770.3 70.0,770.0C74.0,769.7 79.7,768.0 84.0,767.0C88.3,766.0 91.3,765.2 96.0,764.0C100.7,762.8 107.0,760.7 112.0,760.0C117.0,759.3 122.0,759.4 126.0,759.6C130.0,759.8 133.0,760.2 136.0,761.0C139.0,761.8 140.7,763.1 144.0,764.4C147.3,765.7 151.7,767.1 156.0,769.0C160.3,770.9 166.0,774.2 170.0,776.0C174.0,777.8 176.3,778.5 180.0,779.6C183.7,780.7 187.3,781.3 192.0,782.4C196.7,783.5 203.7,785.4 208.0,786.4C212.3,787.4 215.0,787.9 218.0,788.6C221.0,789.3 222.3,789.8 226.0,790.6C229.7,791.4 235.7,792.7 240.0,793.6C244.3,794.5 248.7,795.1 252.0,796.0C255.3,796.9 257.3,797.8 260.0,799.0C262.7,800.2 264.7,800.7 268.0,803.0C271.3,805.3 276.7,810.3 280.0,813.0C283.3,815.7 284.0,816.3 288.0,819.0C292.0,821.7 300.0,826.8 304.0,829.0C308.0,831.2 309.0,830.4 312.0,832.4C315.0,834.4 319.0,838.2 322.0,841.0C325.0,843.8 327.0,846.8 330.0,849.0C333.0,851.2 336.0,852.7 340.0,854.0C344.0,855.3 349.0,856.6 354.0,856.6C359.0,856.6 365.0,854.8 370.0,854.0C375.0,853.2 379.8,852.6 384.0,851.6C388.2,850.6 391.7,849.2 395.0,848.0C398.3,846.8 400.8,845.4 404.0,844.4C407.2,843.4 409.7,842.2 414.0,842.0C418.3,841.8 424.0,842.2 430.0,843.0C436.0,843.8 444.7,845.8 450.0,847.0C455.3,848.2 457.7,848.7 462.0,850.4C466.3,852.1 471.3,854.7 476.0,857.0C480.7,859.3 486.3,861.8 490.0,864.0C493.7,866.2 496.0,868.2 498.0,870.0C500.0,871.8 500.3,873.0 502.0,875.0C503.7,877.0 505.7,879.0 508.0,882.0C510.3,885.0 513.7,889.7 516.0,893.0C518.3,896.3 519.7,899.0 522.0,902.0C524.3,905.0 527.2,907.8 530.0,911.0C532.8,914.2 536.0,917.5 539.0,921.0C542.0,924.5 545.2,928.8 548.0,932.0C550.8,935.2 553.3,937.4 556.0,940.0C558.7,942.6 561.7,945.6 564.0,947.6C566.3,949.6 568.2,950.8 570.0,952.0C571.8,953.2 571.7,954.4 575.0,955.0C578.3,955.6 584.2,954.6 590.0,955.4C595.8,956.2 603.3,958.4 610.0,959.6C616.7,960.8 623.3,961.6 630.0,962.4C636.7,963.2 645.8,964.1 650.0,964.4C654.2,964.7 652.2,964.8 655.0,964.4C657.8,964.0 663.0,963.0 667.0,962.0C671.0,961.0 675.3,959.7 679.0,958.4C682.7,957.1 685.3,955.7 689.0,954.0C692.7,952.3 697.3,950.0 701.0,948.0C704.7,946.0 708.0,943.7 711.0,942.0C714.0,940.3 715.0,939.7 719.0,938.0C723.0,936.3 729.8,933.8 735.0,932.0C740.2,930.2 744.7,928.7 750.0,927.0C755.3,925.3 761.2,923.3 767.0,922.0C772.8,920.7 779.7,919.7 785.0,919.0C790.3,918.3 795.2,917.9 799.0,917.6C802.8,917.3 804.3,917.3 808.0,917.0C811.7,916.7 816.5,916.2 821.0,916.0C825.5,915.8 830.7,915.5 835.0,916.0C839.3,916.5 843.3,917.9 847.0,919.0C850.7,920.1 853.7,921.6 857.0,922.4C860.3,923.2 863.0,923.7 867.0,923.6C871.0,923.5 877.0,922.5 881.0,922.0C885.0,921.5 887.3,920.9 891.0,920.4C894.7,919.9 899.0,919.4 903.0,919.2C907.0,919.0 911.3,919.5 915.0,919.4C918.7,919.3 921.7,919.0 925.0,918.4C928.3,917.8 931.3,916.8 935.0,916.0C938.7,915.2 943.0,914.3 947.0,913.6C951.0,912.9 955.7,912.2 959.0,911.6C962.3,911.0 963.7,910.3 967.0,910.0C970.3,909.7 975.2,909.9 979.0,909.6C982.8,909.3 986.5,908.4 990.0,908.0C993.5,907.6 995.8,906.9 1000.0,907.0C1004.2,907.1 1010.0,907.8 1015.0,908.5C1020.0,909.2 1025.2,910.0 1030.0,911.5C1034.8,913.0 1041.5,916.5 1043.8,917.5" fill="none" stroke="#606060" stroke-width="1.1" stroke-linejoin="round" />
</g>
<path d="M8.5,1064.5V1030.5H14.5V1064.5ZM14.5,1064.5V1041.5H20.5V1064.5ZM20.5,1064.5V1035.5H26.5V1064.5ZM26.5,1064.5V1036.5H32.5V1064.5ZM32.5,1064.5V1039.5H38.5V1064.5ZM38.5,1064.5V1031.5H44.5V1064.5ZM44.5,1064.5V1032.5H50.5V1064.5ZM50.5,1064.5V1053.5H56.5V1064.5ZM56.5,1064.5V1038.5H62.5V1064.5ZM62.5,1064.5V1036.5H68.5V1064.5ZM68.5,1064.5V1034.5H74.5V1064.5ZM74.5,1064.5V1032.5H80.5V1064.5ZM80.5,1064.5V1040.5H86.5V1064.5ZM86.5,1064.5V1041.5H92.5V1064.5ZM92.5,1064.5V1039.5H98.5V1064.5ZM98.5,1064.5V1035.5H104.5V1064.5ZM104.5,1064.5V1044.5H110.5V1064.5ZM110.5,1064.5V1039.5H116.5V1064.5ZM116.5,1064.5V1044.5H122.5V1064.5ZM122.5,1064.5V1030.5H128.5V1064.5ZM128.5,1064.5V1020.5H134.5V1064.5ZM134.5,1064.5V1024.5H140.5V1064.5ZM140.5,1064.5V1010.5H146.5V1064.5ZM146.5,1064.5V1020.5H152.5V1064.5ZM152.5,1064.5V1034.5H158.5V1064.5ZM158.5,1064.5V1029.5H164.5V1064.5ZM164.5,1064.5V1027.5H170.5V1064.5ZM170.5,1064.5V1041.5H176.5V1064.5ZM176.5,1064.5V1043.5H182.5V1064.5ZM182.5,1064.5V1039.5H188.5V1064.5ZM188.5,1064.5V1043.5H194.5V1064.5ZM194.5,1064.5V1027.5H200.5V1064.5ZM200.5,1064.5V1032.5H206.5V1064.5ZM206.5,1064.5V1036.5H212.5V1064.5ZM212.5,1064.5V1028.5H218.5V1064.5ZM218.5,1064.5V1022.5H224.5V1064.5ZM224.5,1064.5V1024.5H230.5V1064.5ZM230.5,1064.5V1026.5H236.5V1064.5ZM236.5,1064.5V1030.5H242.5V1064.5ZM242.5,1064.5V1034.5H248.5V1064.5ZM248.5,1064.5V1035.5H254.5V1064.5ZM254.5,1064.5V1054.5H260.5V1064.5ZM260.5,1064.5V1060.5H266.5V1064.5ZM266.5,1064.5V1032.5H272.5V1064.5ZM272.5,1064.5V1025.5H278.5V1064.5ZM278.5,1064.5V1009.5H284.5V1064.5ZM284.5,1064.5V1024.5H290.5V1064.5ZM290.5,1064.5V1027.5H296.5V1064.5ZM296.5,1064.5V1039.5H302.5V1064.5ZM302.5,1064.5V1028.5H308.5V1064.5ZM308.5,1064.5V1034.5H314.5V1064.5ZM314.5,1064.5V1030.5H320.5V1064.5ZM320.5,1064.5V1029.5H326.5V1064.5ZM326.5,1064.5V1027.5H332.5V1064.5ZM332.5,1064.5V1033.5H338.5V1064.5ZM338.5,1064.5V1031.5H344.5V1064.5ZM344.5,1064.5V1032.5H350.5V1064.5ZM350.5,1064.5V1037.5H356.5V1064.5ZM356.5,1064.5V1035.5H362.5V1064.5ZM362.5,1064.5V1042.5H368.5V1064.5ZM368.5,1064.5V1048.5H374.5V1064.5ZM374.5,1064.5V1030.5H380.5V1064.5ZM380.5,1064.5V1031.5H386.5V1064.5ZM386.5,1064.5V1029.5H392.5V1064.5ZM392.5,1064.5V1031.5H398.5V1064.5ZM398.5,1064.5V1034.5H404.5V1064.5ZM404.5,1064.5V1036.5H410.5V1064.5ZM410.5,1064.5V1038.5H416.5V1064.5ZM416.5,1064.5V1031.5H422.5V1064.5ZM422.5,1064.5V1025.5H428.5V1064.5ZM428.5,1064.5V1030.5H434.5V1064.5ZM434.5,1064.5V1039.5H440.5V1064.5ZM440.5,1064.5V1035.5H446.5V1064.5ZM446.5,1064.5V1032.5H452.5V1064.5ZM452.5,1064.5V1034.5H458.5V1064.5ZM458.5,1064.5V1038.5H464.5V1064.5ZM464.5,1064.5V1043.5H470.5V1064.5ZM470.5,1064.5V1033.5H476.5V1064.5ZM476.5,1064.5V1031.5H482.5V1064.5ZM482.5,1064.5V1029.5H488.5V1064.5ZM488.5,1064.5V1037.5H494.5V1064.5ZM494.5,1064.5V1024.5H500.5V1064.5ZM500.5,1064.5V997.5H506.5V1064.5ZM506.5,1064.5V1021.5H512.5V1064.5ZM512.5,1064.5V1011.5H518.5V1064.5ZM518.5,1064.5V995.5H524.5V1064.5ZM524.5,1064.5V1027.5H530.5V1064.5ZM530.5,1064.5V1027.5H536.5V1064.5ZM536.5,1064.5V1029.5H542.5V1064.5ZM542.5,1064.5V1042.5H548.5V1064.5ZM548.5,1064.5V1036.5H554.5V1064.5ZM554.5,1064.5V1032.5H560.5V1064.5ZM560.5,1064.5V1038.5H566.5V1064.5ZM566.5,1064.5V1056.5H572.5V1064.5ZM572.5,1064.5V1061.5H578.5V1064.5ZM578.5,1064.5V1043.5H584.5V1064.5ZM584.5,1064.5V1042.5H590.5V1064.5ZM590.5,1064.5V1040.5H596.5V1064.5ZM596.5,1064.5V1037.5H602.5V1064.5ZM602.5,1064.5V1037.5H608.5V1064.5ZM608.5,1064.5V1042.5H614.5V1064.5ZM614.5,1064.5V1045.5H620.5V1064.5ZM620.5,1064.5V1038.5H626.5V1064.5ZM626.5,1064.5V1037.5H632.5V1064.5ZM632.5,1064.5V1041.5H638.5V1064.5ZM638.5,1064.5V1045.5H644.5V1064.5ZM644.5,1064.5V1035.5H650.5V1064.5ZM650.5,1064.5V1031.5H656.5V1064.5ZM656.5,1064.5V1038.5H662.5V1064.5ZM662.5,1064.5V1038.5H668.5V1064.5ZM668.5,1064.5V1041.5H674.5V1064.5ZM674.5,1064.5V1045.5H680.5V1064.5ZM680.5,1064.5V1056.5H686.5V1064.5ZM686.5,1064.5V1044.5H692.5V1064.5ZM692.5,1064.5V1043.5H698.5V1064.5ZM698.5,1064.5V1043.5H704.5V1064.5ZM704.5,1064.5V1045.5H710.5V1064.5ZM710.5,1064.5V1046.5H716.5V1064.5ZM716.5,1064.5V1044.5H722.5V1064.5ZM722.5,1064.5V1042.5H728.5V1064.5ZM728.5,1064.5V1040.5H734.5V1064.5ZM734.5,1064.5V1044.5H740.5V1064.5ZM740.5,1064.5V1041.5H746.5V1064.5ZM746.5,1064.5V1047.5H752.5V1064.5ZM752.5,1064.5V1040.5H758.5V1064.5ZM758.5,1064.5V1041.5H764.5V1064.5ZM764.5,1064.5V1044.5H770.5V1064.5ZM770.5,1064.5V1035.5H776.5V1064.5ZM776.5,1064.5V1039.5H782.5V1064.5ZM782.5,1064.5V1036.5H788.5V1064.5ZM788.5,1064.5V1046.5H794.5V1064.5ZM794.5,1064.5V1040.5H800.5V1064.5ZM800.5,1064.5V1054.5H806.5V1064.5ZM806.5,1064.5V1043.5H812.5V1064.5ZM812.5,1064.5V1042.5H818.5V1064.5ZM818.5,1064.5V1048.5H824.5V1064.5ZM824.5,1064.5V1047.5H830.5V1064.5ZM830.5,1064.5V1043.5H836.5V1064.5ZM836.5,1064.5V1049.5H842.5V1064.5ZM842.5,1064.5V1044.5H848.5V1064.5ZM848.5,1064.5V1040.5H854.5V1064.5ZM854.5,1064.5V1044.5H860.5V1064.5ZM860.5,1064.5V1029.5H866.5V1064.5ZM866.5,1064.5V1042.5H872.5V1064.5ZM872.5,1064.5V1046.5H878.5V1064.5ZM878.5,1064.5V1055.5H884.5V1064.5ZM884.5,1064.5V1055.5H890.5V1064.5ZM890.5,1064.5V1042.5H896.5V1064.5ZM896.5,1064.5V1043.5H902.5V1064.5ZM902.5,1064.5V1035.5H908.5V1064.5ZM908.5,1064.5V1036.5H914.5V1064.5ZM914.5,1064.5V1040.5H920.5V1064.5ZM920.5,1064.5V1047.5H926.5V1064.5ZM926.5,1064.5V1047.5H932.5V1064.5ZM932.5,1064.5V1040.5H938.5V1064.5ZM938.5,1064.5V1043.5H944.5V1064.5ZM944.5,1064.5V1049.5H950.5V1064.5ZM950.5,1064.5V1048.5H956.5V1064.5ZM956.5,1064.5V1052.5H962.5V1064.5ZM962.5,1064.5V1046.5H968.5V1064.5ZM968.5,1064.5V1046.5H974.5V1064.5ZM974.5,1064.5V1042.5H980.5V1064.5ZM980.5,1064.5V1041.5H986.5V1064.5ZM986.5,1064.5V1048.5H992.5V1064.5ZM992.5,1064.5V1053.5H998.5V1064.5ZM998.5,1064.5V1029.5H1004.5V1064.5ZM1004.5,1064.5V1029.5H1010.5V1064.5ZM1010.5,1064.5V1028.5H1016.5V1064.5ZM1016.5,1064.5V1036.5H1022.5V1064.5ZM1022.5,1064.5V1039.5H1028.5V1064.5ZM1028.5,1064.5V1050.5H1034.5V1064.5ZM1034.5,1064.5V1047.5H1040.5V1064.5ZM1040.5,1064.5V1041.5H1046.5V1064.5ZM1046.5,1064.5V1061.5H1052.5V1064.5ZM1052.5,1064.5V1060.5H1058.5V1064.5ZM1058.5,1064.5V1060.5H1064.5V1064.5ZM1064.5,1064.5V1058.5H1070.5V1064.5ZM1070.5,1064.5V1060.5H1076.5V1064.5Z" fill="#9fcfff" stroke="#0000cc" stroke-width="1"/>
<line x1="1046.5" y1="717.0" x2="1046.5" y2="1065.0" stroke="#33cc00" stroke-width="1" shape-rendering="crispEdges"/>
<rect x="7" y="717" width="1150" height="1" fill="#000"/>
<rect x="7" y="717" width="1.3" height="348.5" fill="#000"/>
<rect x="1156" y="717" width="1" height="349" fill="#000"/>
<text transform="translate(28.0,729.0) scale(1,1.22)" text-anchor="start" fill="#000" font-size="10.2">4</text>
<text transform="translate(106.0,729.0) scale(1,1.22)" text-anchor="start" fill="#000" font-size="10.2">7</text>
<text transform="translate(184.0,729.0) scale(1,1.22)" text-anchor="start" fill="#000" font-size="10.2">10</text>
<text transform="translate(262.0,729.0) scale(1,1.22)" text-anchor="start" fill="#000" font-size="10.2">8/1</text>
<text transform="translate(340.0,729.0) scale(1,1.22)" text-anchor="start" fill="#000" font-size="10.2">4</text>
<text transform="translate(418.0,729.0) scale(1,1.22)" text-anchor="start" fill="#000" font-size="10.2">7</text>
<text transform="translate(496.0,729.0) scale(1,1.22)" text-anchor="start" fill="#000" font-size="10.2">10</text>
<text transform="translate(580.0,729.0) scale(1,1.22)" text-anchor="start" fill="#000" font-size="10.2">9/1</text>
<text transform="translate(652.0,729.0) scale(1,1.22)" text-anchor="start" fill="#000" font-size="10.2">4</text>
<text transform="translate(730.0,729.0) scale(1,1.22)" text-anchor="start" fill="#000" font-size="10.2">7</text>
<text transform="translate(808.0,729.0) scale(1,1.22)" text-anchor="start" fill="#000" font-size="10.2">10</text>
<text transform="translate(892.0,729.0) scale(1,1.22)" text-anchor="start" fill="#000" font-size="10.2">10/1</text>
<text transform="translate(964.0,729.0) scale(1,1.22)" text-anchor="start" fill="#000" font-size="10.2">4</text>
<text transform="translate(1042.0,729.0) scale(1,1.22)" text-anchor="start" fill="#000" font-size="10.2">7</text>
<text transform="translate(1154.0,756.5) scale(1,1.22)" text-anchor="end" fill="#000" font-size="10.2">18000</text>
<text transform="translate(1154.0,797.5) scale(1,1.22)" text-anchor="end" fill="#000" font-size="10.2">16000</text>
<text transform="translate(1154.0,839.5) scale(1,1.22)" text-anchor="end" fill="#000" font-size="10.2">14000</text>
<text transform="translate(1154.0,880.5) scale(1,1.22)" text-anchor="end" fill="#000" font-size="10.2">12000</text>
<text transform="translate(1154.0,922.5) scale(1,1.22)" text-anchor="end" fill="#000" font-size="10.2">10000</text>
<text transform="translate(1154.0,964.5) scale(1,1.22)" text-anchor="end" fill="#000" font-size="10.2">8000</text>
<text transform="translate(1154.0,1002.7) scale(1,1.22)" text-anchor="end" fill="#000" font-size="10.2">1000000</text>
<text transform="translate(1154.0,1033.7) scale(1,1.22)" text-anchor="end" fill="#000" font-size="10.2">500000</text>
<text transform="translate(1154.0,1064.3) scale(1,1.22)" text-anchor="end" fill="#000" font-size="10.2">0</text>
<line x1="1090.0" y1="757.5" x2="1158.0" y2="757.5" stroke="#c0c0c0" stroke-width="1" shape-rendering="crispEdges"/>
<line x1="1090.0" y1="798.5" x2="1158.0" y2="798.5" stroke="#c0c0c0" stroke-width="1" shape-rendering="crispEdges"/>
<line x1="1090.0" y1="840.5" x2="1158.0" y2="840.5" stroke="#c0c0c0" stroke-width="1" shape-rendering="crispEdges"/>
<line x1="1090.0" y1="881.5" x2="1158.0" y2="881.5" stroke="#c0c0c0" stroke-width="1" shape-rendering="crispEdges"/>
<line x1="1090.0" y1="923.5" x2="1158.0" y2="923.5" stroke="#c0c0c0" stroke-width="1" shape-rendering="crispEdges"/>
<line x1="1090.0" y1="965.5" x2="1158.0" y2="965.5" stroke="#c0c0c0" stroke-width="1" shape-rendering="crispEdges"/>
<line x1="1090.0" y1="1003.5" x2="1158.0" y2="1003.5" stroke="#c0c0c0" stroke-width="1" shape-rendering="crispEdges"/>
<line x1="1090.0" y1="1034.5" x2="1158.0" y2="1034.5" stroke="#c0c0c0" stroke-width="1" shape-rendering="crispEdges"/>
</g>
<rect x="92.5" y="375.5" width="75.0" height="70.8" fill="none" stroke="#e61e28" stroke-width="4.8"/>
<rect x="959.5" y="455.5" width="91.1" height="69.0" fill="none" stroke="#e61e28" stroke-width="4.8"/>
<rect x="99.8" y="731.7" width="55.6" height="74.6" fill="none" stroke="#e61e28" stroke-width="4.9"/>
<rect x="982.4" y="875.6" width="70.0" height="77.5" fill="none" stroke="#e61e28" stroke-width="5"/>
<line x1="1043.5" y1="366.0" x2="1043.5" y2="710.0" stroke="#33cc00" stroke-width="1" shape-rendering="crispEdges"/>
<line x1="1046.5" y1="717.0" x2="1046.5" y2="1065.0" stroke="#33cc00" stroke-width="1" shape-rendering="crispEdges"/>
</svg>
<div class="g" style="left:1047px;top:381px"><span class="ar">-&gt;</span>ここから日足</div>
<div class="g" style="left:1050px;top:732px"><span class="ar">-&gt;</span>ここから日足</div>
<div class="jp">一目・ボリバンの形状か<br>ら、2007年夏にそっく<br>りなんだよね、、、＞＜</div>
<div class="jp" style="top:649px">・基準線ー転換線ＤＣ<br>・週足雲下抜け<br>・１３週線下向き<br>・ボリバン下放れ</div>
</body></html>
